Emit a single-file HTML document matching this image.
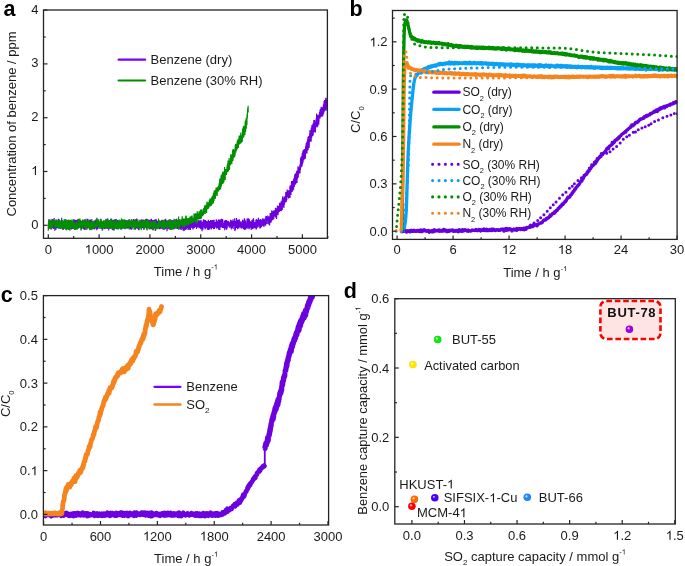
<!DOCTYPE html>
<html><head><meta charset="utf-8"><style>
html,body{margin:0;padding:0;background:#fff;}
body{width:685px;height:566px;overflow:hidden;}
svg{display:block;will-change:transform;}
</style></head><body>
<svg width="685" height="566" viewBox="0 0 685 566" font-family='"Liberation Sans", sans-serif'>
<clipPath id="ca"><rect x="43.5" y="10.0" width="283.9" height="228.3"/></clipPath>
<g clip-path="url(#ca)">
<polyline points="48.3,227.6 48.4,227.1 48.5,228.2 48.6,222.3 48.7,223.0 48.9,229.0 49.0,219.0 49.1,227.0 49.2,226.5 49.3,223.4 49.4,222.5 49.5,220.9 49.6,221.1 49.8,224.5 49.9,224.5 50.0,225.4 50.1,227.4 50.2,226.5 50.3,225.1 50.4,229.2 50.5,221.2 50.6,222.1 50.8,225.5 50.9,220.1 51.0,220.0 51.1,225.3 51.2,223.7 51.3,229.6 51.4,226.2 51.5,224.8 51.7,224.5 51.8,222.6 51.9,220.8 52.0,222.5 52.1,226.7 52.2,222.5 52.3,223.4 52.4,221.0 52.5,227.7 52.7,219.1 52.8,223.6 52.9,228.3 53.0,223.4 53.1,227.6 53.2,225.0 53.3,228.9 53.4,221.0 53.6,223.3 53.7,225.1 53.8,227.7 53.9,225.1 54.0,224.4 54.1,218.0 54.2,223.5 54.3,222.4 54.4,220.7 54.6,225.4 54.7,223.8 54.8,230.8 54.9,223.5 55.0,226.7 55.1,225.3 55.2,228.5 55.3,221.6 55.5,223.7 55.6,223.1 55.7,224.1 55.8,220.0 55.9,229.7 56.0,221.2 56.1,224.4 56.2,224.6 56.3,227.8 56.5,225.4 56.6,221.3 56.7,226.3 56.8,227.4 56.9,227.9 57.0,224.6 57.1,221.1 57.2,222.6 57.4,228.1 57.5,225.5 57.6,222.0 57.7,227.1 57.8,226.1 57.9,224.2 58.0,224.4 58.1,224.1 58.3,222.0 58.4,218.7 58.5,228.2 58.6,223.4 58.7,225.7 58.8,222.7 58.9,226.1 59.0,220.8 59.1,224.0 59.3,219.4 59.4,222.0 59.5,228.7 59.6,225.7 59.7,223.9 59.8,224.0 59.9,227.6 60.0,222.8 60.2,226.9 60.3,227.8 60.4,222.8 60.5,226.3 60.6,227.0 60.7,228.8 60.8,222.0 60.9,229.0 61.0,222.1 61.2,227.2 61.3,226.3 61.4,222.3 61.5,223.3 61.6,227.2 61.7,217.7 61.8,226.7 61.9,228.1 62.1,225.4 62.2,227.7 62.3,223.5 62.4,221.5 62.5,224.1 62.6,220.7 62.7,222.7 62.8,229.9 62.9,225.6 63.1,221.6 63.2,222.6 63.3,228.7 63.4,223.1 63.5,229.6 63.6,224.2 63.7,223.1 63.8,227.2 64.0,228.6 64.1,223.8 64.2,224.0 64.3,228.8 64.4,224.3 64.5,227.3 64.6,220.0 64.7,224.0 64.8,225.5 65.0,228.2 65.1,220.9 65.2,228.4 65.3,227.3 65.4,227.0 65.5,225.1 65.6,229.4 65.7,223.0 65.9,224.3 66.0,220.4 66.1,220.3 66.2,221.6 66.3,227.4 66.4,228.0 66.5,220.8 66.6,225.1 66.7,224.7 66.9,224.0 67.0,226.0 67.1,223.1 67.2,229.2 67.3,225.2 67.4,224.5 67.5,224.3 67.6,221.7 67.8,220.7 67.9,225.8 68.0,227.7 68.1,226.7 68.2,227.5 68.3,219.9 68.4,227.0 68.5,230.0 68.6,228.5 68.8,225.4 68.9,229.1 69.0,221.9 69.1,220.2 69.2,221.1 69.3,221.1 69.4,220.7 69.5,222.9 69.7,226.6 69.8,220.6 69.9,225.6 70.0,221.4 70.1,225.5 70.2,221.4 70.3,223.3 70.4,229.2 70.5,225.2 70.7,228.5 70.8,226.5 70.9,226.3 71.0,220.3 71.1,225.7 71.2,222.2 71.3,226.9 71.4,228.8 71.6,228.8 71.7,221.1 71.8,223.6 71.9,221.1 72.0,221.3 72.1,224.5 72.2,226.5 72.3,223.2 72.4,227.7 72.6,228.2 72.7,224.1 72.8,227.8 72.9,228.9 73.0,220.7 73.1,224.6 73.2,224.8 73.3,225.0 73.5,219.5 73.6,225.4 73.7,225.6 73.8,226.6 73.9,226.0 74.0,221.5 74.1,227.1 74.2,228.1 74.4,229.3 74.5,222.3 74.6,219.6 74.7,226.6 74.8,220.3 74.9,227.4 75.0,230.0 75.1,223.1 75.2,220.9 75.4,224.5 75.5,224.1 75.6,219.9 75.7,224.1 75.8,221.0 75.9,225.6 76.0,228.6 76.1,222.3 76.3,223.5 76.4,224.4 76.5,220.9 76.6,222.5 76.7,221.9 76.8,226.0 76.9,219.9 77.0,228.9 77.1,224.2 77.3,223.2 77.4,219.2 77.5,225.7 77.6,221.1 77.7,221.6 77.8,219.7 77.9,221.6 78.0,227.6 78.2,222.4 78.3,223.0 78.4,228.3 78.5,223.9 78.6,223.1 78.7,224.4 78.8,227.8 78.9,222.3 79.0,224.8 79.2,219.2 79.3,227.2 79.4,226.8 79.5,226.5 79.6,225.6 79.7,224.8 79.8,220.0 79.9,224.1 80.1,228.3 80.2,222.0 80.3,222.3 80.4,224.2 80.5,225.3 80.6,227.1 80.7,220.4 80.8,221.2 80.9,227.7 81.1,226.4 81.2,226.8 81.3,229.5 81.4,227.7 81.5,225.6 81.6,226.6 81.7,222.5 81.8,225.2 82.0,221.2 82.1,225.8 82.2,225.9 82.3,226.5 82.4,224.1 82.5,222.7 82.6,224.2 82.7,219.8 82.8,226.8 83.0,224.9 83.1,225.3 83.2,224.3 83.3,227.8 83.4,224.7 83.5,229.2 83.6,227.7 83.7,225.4 83.9,221.1 84.0,226.8 84.1,229.0 84.2,221.7 84.3,226.6 84.4,227.5 84.5,229.8 84.6,220.1 84.7,219.5 84.9,230.0 85.0,221.5 85.1,222.5 85.2,224.1 85.3,225.1 85.4,227.4 85.5,223.3 85.6,227.2 85.8,222.0 85.9,226.8 86.0,218.7 86.1,223.5 86.2,221.1 86.3,222.2 86.4,222.0 86.5,227.5 86.6,225.0 86.8,221.2 86.9,228.5 87.0,228.2 87.1,229.5 87.2,221.4 87.3,222.7 87.4,222.7 87.5,222.4 87.7,218.8 87.8,221.9 87.9,219.4 88.0,220.4 88.1,227.8 88.2,225.0 88.3,221.3 88.4,225.4 88.5,222.4 88.7,223.8 88.8,222.4 88.9,224.0 89.0,228.4 89.1,225.7 89.2,222.7 89.3,226.3 89.4,227.7 89.6,219.8 89.7,220.3 89.8,220.0 89.9,230.0 90.0,228.3 90.1,221.1 90.2,227.7 90.3,220.5 90.5,224.5 90.6,224.3 90.7,229.6 90.8,219.4 90.9,223.8 91.0,225.7 91.1,220.3 91.2,219.9 91.3,222.9 91.5,228.9 91.6,228.4 91.7,227.9 91.8,227.8 91.9,226.1 92.0,227.5 92.1,225.6 92.2,227.7 92.4,222.9 92.5,221.1 92.6,226.6 92.7,221.8 92.8,228.9 92.9,224.6 93.0,224.6 93.1,229.0 93.2,221.2 93.4,226.1 93.5,221.6 93.6,228.9 93.7,225.8 93.8,226.4 93.9,221.7 94.0,225.1 94.1,227.7 94.3,224.0 94.4,229.5 94.5,223.0 94.6,222.7 94.7,226.2 94.8,228.0 94.9,223.5 95.0,227.9 95.1,222.0 95.3,225.9 95.4,226.5 95.5,221.0 95.6,226.8 95.7,219.4 95.8,228.8 95.9,224.1 96.0,223.8 96.2,227.0 96.3,224.2 96.4,226.0 96.5,221.2 96.6,223.4 96.7,224.4 96.8,230.2 96.9,217.7 97.0,223.3 97.2,226.4 97.3,223.3 97.4,223.0 97.5,222.8 97.6,223.2 97.7,223.1 97.8,229.1 97.9,221.4 98.1,224.4 98.2,226.0 98.3,227.3 98.4,223.9 98.5,227.2 98.6,225.2 98.7,224.5 98.8,227.2 98.9,226.4 99.1,224.5 99.2,224.8 99.3,225.4 99.4,222.0 99.5,226.8 99.6,222.6 99.7,223.5 99.8,227.0 100.0,223.8 100.1,223.9 100.2,226.9 100.3,224.3 100.4,227.8 100.5,228.1 100.6,223.4 100.7,226.0 100.8,218.8 101.0,224.0 101.1,228.9 101.2,227.4 101.3,226.3 101.4,226.3 101.5,226.0 101.6,225.7 101.7,223.7 101.9,222.9 102.0,223.4 102.1,221.7 102.2,223.1 102.3,230.7 102.4,223.4 102.5,223.8 102.6,224.4 102.7,224.9 102.9,228.5 103.0,227.8 103.1,221.3 103.2,223.1 103.3,227.0 103.4,223.9 103.5,225.5 103.6,221.1 103.8,228.0 103.9,222.7 104.0,222.8 104.1,221.5 104.2,222.2 104.3,228.0 104.4,228.0 104.5,224.2 104.6,229.1 104.8,224.6 104.9,223.9 105.0,225.1 105.1,221.4 105.2,223.7 105.3,227.6 105.4,225.8 105.5,221.3 105.7,227.3 105.8,228.5 105.9,224.4 106.0,219.0 106.1,225.1 106.2,223.9 106.3,226.1 106.4,221.9 106.5,226.2 106.7,221.8 106.8,222.4 106.9,222.4 107.0,224.2 107.1,221.9 107.2,228.9 107.3,222.2 107.4,222.9 107.6,222.7 107.7,218.2 107.8,223.4 107.9,226.3 108.0,225.3 108.1,221.0 108.2,220.9 108.3,222.5 108.5,225.6 108.6,223.9 108.7,230.6 108.8,224.9 108.9,224.0 109.0,227.4 109.1,227.5 109.2,223.5 109.3,221.0 109.5,224.9 109.6,223.6 109.7,219.9 109.8,223.3 109.9,225.7 110.0,221.7 110.1,221.6 110.2,221.3 110.4,223.3 110.5,229.0 110.6,220.8 110.7,220.0 110.8,219.7 110.9,225.0 111.0,218.4 111.1,223.8 111.2,221.1 111.4,221.8 111.5,226.9 111.6,222.8 111.7,223.1 111.8,224.5 111.9,226.0 112.0,227.6 112.1,221.2 112.3,229.3 112.4,230.1 112.5,224.9 112.6,220.2 112.7,225.9 112.8,226.0 112.9,227.3 113.0,222.4 113.1,228.4 113.3,228.3 113.4,220.1 113.5,222.0 113.6,219.8 113.7,227.5 113.8,227.3 113.9,230.8 114.0,225.4 114.2,224.7 114.3,227.3 114.4,224.4 114.5,229.4 114.6,225.5 114.7,223.2 114.8,224.8 114.9,219.3 115.0,226.7 115.2,228.4 115.3,221.5 115.4,228.0 115.5,227.4 115.6,221.9 115.7,219.0 115.8,223.1 115.9,221.1 116.1,224.7 116.2,224.5 116.3,228.7 116.4,222.8 116.5,229.0 116.6,227.4 116.7,228.3 116.8,223.7 116.9,219.9 117.1,228.6 117.2,222.9 117.3,220.0 117.4,226.7 117.5,226.6 117.6,221.1 117.7,221.9 117.8,227.8 118.0,222.0 118.1,226.9 118.2,221.9 118.3,227.5 118.4,222.9 118.5,224.6 118.6,223.2 118.7,226.0 118.8,228.3 119.0,220.0 119.1,219.5 119.2,226.9 119.3,225.7 119.4,224.6 119.5,224.4 119.6,226.0 119.7,227.7 119.9,223.2 120.0,224.4 120.1,225.9 120.2,226.5 120.3,224.0 120.4,226.8 120.5,225.3 120.6,224.4 120.7,220.6 120.9,229.6 121.0,227.6 121.1,222.7 121.2,226.7 121.3,221.0 121.4,222.8 121.5,229.3 121.6,224.7 121.8,222.5 121.9,222.2 122.0,220.4 122.1,221.8 122.2,221.9 122.3,220.6 122.4,222.4 122.5,224.4 122.6,221.1 122.8,225.5 122.9,227.8 123.0,223.0 123.1,225.9 123.2,224.3 123.3,220.4 123.4,220.6 123.5,227.1 123.7,225.5 123.8,227.8 123.9,222.8 124.0,224.7 124.1,227.9 124.2,228.9 124.3,219.5 124.4,223.3 124.6,222.3 124.7,227.1 124.8,220.7 124.9,222.1 125.0,228.5 125.1,225.2 125.2,224.4 125.3,229.0 125.4,222.5 125.6,220.6 125.7,224.4 125.8,221.2 125.9,220.9 126.0,224.8 126.1,227.5 126.2,224.3 126.3,226.7 126.5,223.2 126.6,226.8 126.7,227.0 126.8,226.2 126.9,228.7 127.0,226.0 127.1,221.0 127.2,225.1 127.3,224.5 127.5,220.3 127.6,226.1 127.7,228.6 127.8,220.5 127.9,226.9 128.0,226.5 128.1,223.4 128.2,222.0 128.4,222.6 128.5,225.3 128.6,226.3 128.7,226.7 128.8,221.3 128.9,228.1 129.0,228.4 129.1,219.2 129.2,222.0 129.4,220.5 129.5,228.8 129.6,228.4 129.7,221.8 129.8,223.6 129.9,222.4 130.0,224.4 130.1,228.8 130.3,221.0 130.4,222.2 130.5,223.7 130.6,225.2 130.7,229.5 130.8,223.8 130.9,220.8 131.0,222.4 131.1,227.7 131.3,228.1 131.4,220.9 131.5,227.8 131.6,224.5 131.7,229.7 131.8,218.9 131.9,229.1 132.0,221.9 132.2,224.5 132.3,226.5 132.4,224.5 132.5,222.9 132.6,221.6 132.7,222.8 132.8,221.4 132.9,222.7 133.0,221.4 133.2,224.5 133.3,224.9 133.4,225.8 133.5,222.3 133.6,219.1 133.7,222.5 133.8,225.9 133.9,222.2 134.1,223.8 134.2,224.9 134.3,223.6 134.4,228.9 134.5,228.7 134.6,221.7 134.7,228.0 134.8,221.4 134.9,219.8 135.1,222.8 135.2,225.5 135.3,229.7 135.4,222.2 135.5,226.8 135.6,223.1 135.7,220.3 135.8,228.2 136.0,226.2 136.1,219.1 136.2,228.5 136.3,221.3 136.4,220.4 136.5,223.3 136.6,227.8 136.7,218.5 136.8,227.9 137.0,226.7 137.1,221.3 137.2,224.7 137.3,225.3 137.4,224.8 137.5,228.3 137.6,226.7 137.7,228.8 137.9,222.0 138.0,226.7 138.1,222.7 138.2,225.8 138.3,228.5 138.4,229.2 138.5,222.2 138.6,223.6 138.7,230.2 138.9,228.4 139.0,222.5 139.1,230.0 139.2,225.0 139.3,223.6 139.4,225.2 139.5,223.6 139.6,224.6 139.8,223.4 139.9,225.4 140.0,219.7 140.1,220.9 140.2,226.3 140.3,226.4 140.4,226.1 140.5,228.4 140.7,221.2 140.8,220.5 140.9,221.2 141.0,222.0 141.1,226.0 141.2,224.5 141.3,224.1 141.4,226.1 141.5,220.4 141.7,220.6 141.8,225.7 141.9,228.4 142.0,222.8 142.1,226.3 142.2,219.6 142.3,221.6 142.4,224.5 142.6,221.0 142.7,223.4 142.8,225.6 142.9,224.6 143.0,220.8 143.1,228.1 143.2,219.5 143.3,228.1 143.4,221.4 143.6,221.4 143.7,221.2 143.8,229.8 143.9,224.2 144.0,223.7 144.1,229.2 144.2,228.9 144.3,220.0 144.5,224.5 144.6,225.1 144.7,227.4 144.8,222.4 144.9,222.7 145.0,219.7 145.1,220.1 145.2,224.8 145.3,221.4 145.5,221.6 145.6,223.1 145.7,220.3 145.8,219.0 145.9,227.8 146.0,222.8 146.1,221.8 146.2,225.8 146.4,218.7 146.5,222.3 146.6,229.5 146.7,226.6 146.8,227.5 146.9,220.6 147.0,222.6 147.1,221.0 147.2,221.9 147.4,219.3 147.5,223.1 147.6,224.7 147.7,220.5 147.8,222.0 147.9,227.3 148.0,222.8 148.1,223.3 148.3,222.9 148.4,226.5 148.5,226.1 148.6,225.6 148.7,225.7 148.8,219.4 148.9,222.6 149.0,225.4 149.1,229.3 149.3,228.7 149.4,226.9 149.5,225.1 149.6,220.1 149.7,227.2 149.8,220.2 149.9,221.1 150.0,226.0 150.2,227.6 150.3,226.4 150.4,225.6 150.5,223.5 150.6,219.6 150.7,228.3 150.8,228.9 150.9,223.3 151.0,228.5 151.2,223.6 151.3,222.4 151.4,224.7 151.5,218.7 151.6,224.6 151.7,220.9 151.8,227.1 151.9,224.6 152.1,229.1 152.2,228.3 152.3,223.7 152.4,221.5 152.5,229.3 152.6,224.3 152.7,220.8 152.8,220.2 152.9,230.2 153.1,223.2 153.2,220.5 153.3,223.1 153.4,225.7 153.5,221.9 153.6,227.8 153.7,227.1 153.8,222.5 154.0,219.8 154.1,223.7 154.2,227.2 154.3,223.9 154.4,226.4 154.5,225.9 154.6,221.5 154.7,228.5 154.8,219.4 155.0,226.4 155.1,221.2 155.2,224.6 155.3,231.0 155.4,225.2 155.5,220.4 155.6,223.2 155.7,225.3 155.9,221.7 156.0,221.0 156.1,218.9 156.2,224.8 156.3,222.9 156.4,226.5 156.5,220.2 156.6,226.4 156.7,222.1 156.9,227.3 157.0,228.3 157.1,224.9 157.2,225.8 157.3,227.0 157.4,220.9 157.5,228.4 157.6,224.0 157.8,226.3 157.9,220.7 158.0,226.9 158.1,228.4 158.2,221.3 158.3,227.4 158.4,224.5 158.5,222.9 158.7,224.5 158.8,221.8 158.9,220.0 159.0,224.7 159.1,222.4 159.2,225.8 159.3,227.6 159.4,229.1 159.5,228.1 159.7,227.4 159.8,220.9 159.9,228.7 160.0,221.2 160.1,228.4 160.2,227.3 160.3,225.4 160.4,224.6 160.6,222.9 160.7,225.1 160.8,222.4 160.9,221.4 161.0,221.3 161.1,228.5 161.2,229.1 161.3,222.8 161.4,221.1 161.6,222.2 161.7,220.6 161.8,222.4 161.9,225.8 162.0,223.6 162.1,222.3 162.2,219.8 162.3,226.4 162.5,223.2 162.6,224.3 162.7,222.9 162.8,229.4 162.9,221.5 163.0,227.0 163.1,223.1 163.2,227.5 163.3,222.9 163.5,222.5 163.6,227.2 163.7,224.4 163.8,221.0 163.9,221.1 164.0,230.1 164.1,220.3 164.2,221.9 164.4,229.3 164.5,219.4 164.6,221.8 164.7,222.0 164.8,219.5 164.9,224.2 165.0,225.4 165.1,222.4 165.2,221.6 165.4,229.2 165.5,227.1 165.6,224.7 165.7,218.7 165.8,224.8 165.9,225.3 166.0,221.6 166.1,228.3 166.3,224.0 166.4,223.9 166.5,220.4 166.6,224.1 166.7,227.8 166.8,225.2 166.9,221.8 167.0,231.2 167.1,226.7 167.3,224.2 167.4,223.5 167.5,226.0 167.6,221.3 167.7,226.2 167.8,225.6 167.9,225.0 168.0,229.3 168.2,225.3 168.3,222.6 168.4,221.4 168.5,226.9 168.6,223.8 168.7,227.0 168.8,224.3 168.9,227.8 169.0,227.6 169.2,220.0 169.3,229.4 169.4,224.7 169.5,220.5 169.6,225.1 169.7,220.4 169.8,223.9 169.9,219.3 170.1,223.0 170.2,222.8 170.3,225.2 170.4,227.2 170.5,228.0 170.6,223.6 170.7,225.1 170.8,219.8 170.9,222.3 171.1,228.3 171.2,221.0 171.3,227.1 171.4,224.7 171.5,222.2 171.6,228.4 171.7,222.7 171.8,229.8 172.0,220.3 172.1,220.5 172.2,225.5 172.3,223.4 172.4,222.5 172.5,225.0 172.6,223.3 172.7,225.7 172.8,226.8 173.0,227.7 173.1,220.4 173.2,226.1 173.3,229.6 173.4,224.6 173.5,227.2 173.6,219.8 173.7,227.8 173.9,224.3 174.0,229.2 174.1,225.2 174.2,227.8 174.3,222.6 174.4,226.2 174.5,220.4 174.6,222.2 174.8,224.1 174.9,225.2 175.0,226.3 175.1,228.8 175.2,219.4 175.3,224.7 175.4,223.2 175.5,227.0 175.6,224.5 175.8,225.0 175.9,227.4 176.0,226.8 176.1,222.6 176.2,219.1 176.3,224.7 176.4,227.9 176.5,225.2 176.7,218.7 176.8,223.3 176.9,222.7 177.0,225.3 177.1,223.9 177.2,228.9 177.3,223.1 177.4,222.5 177.5,225.0 177.7,227.4 177.8,227.4 177.9,221.7 178.0,227.2 178.1,222.7 178.2,228.5 178.3,223.2 178.4,220.3 178.6,227.8 178.7,221.7 178.8,229.8 178.9,226.5 179.0,225.7 179.1,219.2 179.2,226.2 179.3,221.4 179.4,228.8 179.6,227.9 179.7,222.9 179.8,219.6 179.9,229.0 180.0,224.3 180.1,221.4 180.2,223.8 180.3,222.6 180.5,222.9 180.6,226.8 180.7,229.6 180.8,228.3 180.9,221.7 181.0,224.9 181.1,221.7 181.2,230.1 181.3,220.2 181.5,224.7 181.6,228.2 181.7,222.1 181.8,221.7 181.9,225.7 182.0,224.2 182.1,228.0 182.2,219.6 182.4,223.1 182.5,219.6 182.6,228.6 182.7,222.5 182.8,227.5 182.9,229.3 183.0,230.4 183.1,220.7 183.2,221.2 183.4,223.1 183.5,230.4 183.6,226.7 183.7,218.7 183.8,226.9 183.9,229.4 184.0,231.1 184.1,228.3 184.3,228.7 184.4,227.6 184.5,222.6 184.6,220.3 184.7,225.9 184.8,220.7 184.9,220.8 185.0,229.5 185.1,225.0 185.3,227.3 185.4,229.6 185.5,221.9 185.6,229.9 185.7,227.2 185.8,222.6 185.9,221.0 186.0,222.3 186.2,229.1 186.3,220.3 186.4,219.7 186.5,229.2 186.6,225.9 186.7,226.5 186.8,225.9 186.9,219.4 187.0,220.7 187.2,225.4 187.3,219.3 187.4,223.4 187.5,227.9 187.6,225.1 187.7,226.7 187.8,220.4 187.9,222.8 188.1,230.1 188.2,221.5 188.3,225.6 188.4,219.2 188.5,228.0 188.6,222.0 188.7,225.2 188.8,226.3 188.9,228.9 189.1,229.0 189.2,227.0 189.3,224.0 189.4,220.4 189.5,226.4 189.6,228.0 189.7,220.8 189.8,226.1 190.0,221.9 190.1,222.7 190.2,225.8 190.3,224.6 190.4,230.1 190.5,224.7 190.6,223.0 190.7,227.7 190.9,223.4 191.0,223.7 191.1,222.7 191.2,222.1 191.3,222.7 191.4,222.4 191.5,220.0 191.6,224.5 191.7,221.7 191.9,226.7 192.0,227.9 192.1,222.3 192.2,227.9 192.3,226.8 192.4,223.9 192.5,226.0 192.6,222.0 192.8,224.2 192.9,229.5 193.0,220.5 193.1,229.4 193.2,227.2 193.3,227.0 193.4,224.7 193.5,225.3 193.6,223.0 193.8,225.6 193.9,222.5 194.0,224.8 194.1,224.9 194.2,223.3 194.3,221.3 194.4,228.1 194.5,226.3 194.7,225.7 194.8,222.2 194.9,225.6 195.0,219.4 195.1,226.5 195.2,225.5 195.3,226.0 195.4,223.5 195.5,223.1 195.7,226.9 195.8,221.4 195.9,226.2 196.0,223.1 196.1,221.5 196.2,224.6 196.3,225.4 196.4,227.9 196.6,228.9 196.7,219.8 196.8,226.5 196.9,221.4 197.0,227.0 197.1,222.8 197.2,221.1 197.3,225.0 197.4,224.1 197.6,226.7 197.7,226.2 197.8,227.4 197.9,224.4 198.0,225.6 198.1,222.8 198.2,224.2 198.3,225.8 198.5,225.5 198.6,221.2 198.7,224.2 198.8,219.7 198.9,224.9 199.0,220.5 199.1,226.1 199.2,228.3 199.3,223.7 199.5,221.2 199.6,224.1 199.7,222.0 199.8,227.7 199.9,220.4 200.0,224.9 200.1,225.4 200.2,220.5 200.4,220.9 200.5,222.5 200.6,227.1 200.7,229.1 200.8,221.9 200.9,226.5 201.0,219.8 201.1,225.5 201.2,224.7 201.4,223.5 201.5,226.9 201.6,227.1 201.7,221.5 201.8,222.0 201.9,227.4 202.0,231.3 202.1,225.8 202.3,229.0 202.4,228.7 202.5,226.9 202.6,224.2 202.7,221.8 202.8,224.4 202.9,227.8 203.0,229.8 203.1,223.3 203.3,223.5 203.4,219.3 203.5,226.2 203.6,224.6 203.7,226.6 203.8,222.9 203.9,225.0 204.0,224.4 204.2,223.1 204.3,219.8 204.4,222.2 204.5,228.0 204.6,221.3 204.7,220.8 204.8,225.3 204.9,223.2 205.0,226.9 205.2,228.9 205.3,229.2 205.4,227.8 205.5,226.4 205.6,220.0 205.7,226.8 205.8,226.6 205.9,227.5 206.1,226.0 206.2,227.5 206.3,223.5 206.4,227.6 206.5,225.4 206.6,224.2 206.7,222.4 206.8,220.9 206.9,224.7 207.1,222.9 207.2,223.2 207.3,229.5 207.4,226.0 207.5,225.3 207.6,229.7 207.7,223.6 207.8,224.6 208.0,221.8 208.1,223.0 208.2,228.3 208.3,219.8 208.4,226.8 208.5,229.9 208.6,223.4 208.7,229.0 208.9,222.9 209.0,222.8 209.1,225.4 209.2,222.2 209.3,222.9 209.4,221.0 209.5,229.6 209.6,221.9 209.7,224.4 209.9,228.5 210.0,221.2 210.1,227.8 210.2,227.4 210.3,224.6 210.4,224.8 210.5,221.3 210.6,221.3 210.8,220.0 210.9,222.5 211.0,224.9 211.1,227.6 211.2,223.0 211.3,229.6 211.4,225.5 211.5,220.6 211.6,225.9 211.8,220.4 211.9,220.9 212.0,228.1 212.1,224.4 212.2,222.8 212.3,220.2 212.4,225.7 212.5,223.3 212.7,220.0 212.8,227.7 212.9,220.7 213.0,228.1 213.1,223.1 213.2,224.0 213.3,222.3 213.4,228.3 213.5,229.3 213.7,227.6 213.8,219.7 213.9,225.5 214.0,219.8 214.1,220.7 214.2,223.8 214.3,221.7 214.4,228.9 214.6,227.5 214.7,227.1 214.8,226.4 214.9,223.7 215.0,223.6 215.1,224.3 215.2,222.2 215.3,224.1 215.4,227.2 215.6,221.9 215.7,223.1 215.8,224.0 215.9,223.7 216.0,226.6 216.1,227.4 216.2,219.8 216.3,219.4 216.5,221.5 216.6,223.3 216.7,225.9 216.8,228.8 216.9,226.5 217.0,221.2 217.1,222.5 217.2,227.3 217.3,228.0 217.5,227.0 217.6,224.1 217.7,223.0 217.8,224.4 217.9,227.2 218.0,223.5 218.1,220.8 218.2,220.6 218.4,221.4 218.5,228.2 218.6,226.3 218.7,229.7 218.8,219.5 218.9,222.9 219.0,229.7 219.1,224.8 219.2,219.8 219.4,224.6 219.5,225.7 219.6,225.5 219.7,222.7 219.8,222.0 219.9,230.0 220.0,225.6 220.1,226.6 220.3,225.9 220.4,219.4 220.5,222.1 220.6,219.6 220.7,221.7 220.8,222.4 220.9,224.7 221.0,221.8 221.1,224.4 221.3,227.1 221.4,218.8 221.5,220.5 221.6,226.0 221.7,224.8 221.8,224.2 221.9,222.0 222.0,225.4 222.2,221.5 222.3,228.0 222.4,226.2 222.5,222.8 222.6,219.1 222.7,227.8 222.8,222.5 222.9,226.2 223.0,226.3 223.2,225.8 223.3,227.7 223.4,224.9 223.5,228.2 223.6,225.0 223.7,223.5 223.8,224.8 223.9,222.9 224.1,226.0 224.2,226.7 224.3,220.6 224.4,221.5 224.5,223.6 224.6,224.1 224.7,228.7 224.8,229.4 225.0,229.2 225.1,227.0 225.2,226.5 225.3,221.7 225.4,222.2 225.5,220.2 225.6,228.1 225.7,222.1 225.8,220.0 226.0,225.0 226.1,222.0 226.2,226.4 226.3,220.0 226.4,220.7 226.5,228.4 226.6,229.7 226.7,226.7 226.9,225.7 227.0,222.4 227.1,228.2 227.2,228.0 227.3,224.5 227.4,220.8 227.5,221.9 227.6,224.2 227.7,223.2 227.9,220.9 228.0,221.6 228.1,225.2 228.2,224.8 228.3,224.7 228.4,222.6 228.5,222.5 228.6,225.9 228.8,223.5 228.9,222.3 229.0,226.8 229.1,225.6 229.2,225.5 229.3,224.5 229.4,227.2 229.5,227.2 229.6,226.1 229.8,225.5 229.9,226.4 230.0,222.2 230.1,224.9 230.2,223.2 230.3,224.2 230.4,221.4 230.5,224.0 230.7,219.8 230.8,224.8 230.9,227.4 231.0,227.5 231.1,221.6 231.2,228.4 231.3,228.5 231.4,220.4 231.5,223.1 231.7,220.9 231.8,223.0 231.9,221.0 232.0,224.2 232.1,223.7 232.2,225.7 232.3,226.5 232.4,227.8 232.6,222.8 232.7,226.1 232.8,227.4 232.9,227.4 233.0,219.3 233.1,229.1 233.2,225.9 233.3,222.5 233.4,225.4 233.6,225.9 233.7,223.8 233.8,222.2 233.9,221.4 234.0,223.8 234.1,226.3 234.2,224.8 234.3,220.4 234.5,225.0 234.6,221.5 234.7,218.3 234.8,230.9 234.9,222.3 235.0,226.2 235.1,223.6 235.2,220.9 235.3,230.2 235.5,229.0 235.6,222.9 235.7,222.2 235.8,224.1 235.9,221.0 236.0,225.9 236.1,227.2 236.2,227.3 236.4,227.8 236.5,218.0 236.6,221.9 236.7,223.9 236.8,227.6 236.9,223.0 237.0,224.5 237.1,227.4 237.2,220.6 237.4,223.3 237.5,222.1 237.6,229.3 237.7,220.4 237.8,220.4 237.9,224.5 238.0,225.4 238.1,222.3 238.3,225.7 238.4,219.7 238.5,225.1 238.6,220.7 238.7,228.2 238.8,221.5 238.9,226.7 239.0,228.5 239.1,221.7 239.3,219.3 239.4,224.1 239.5,226.6 239.6,221.9 239.7,227.0 239.8,225.6 239.9,224.9 240.0,223.5 240.2,224.1 240.3,224.4 240.4,222.4 240.5,221.6 240.6,223.0 240.7,222.3 240.8,228.3 240.9,222.2 241.1,221.3 241.2,223.3 241.3,223.1 241.4,223.8 241.5,224.0 241.6,224.7 241.7,228.6 241.8,228.0 241.9,228.8 242.1,223.2 242.2,224.1 242.3,223.8 242.4,223.5 242.5,227.9 242.6,219.8 242.7,220.0 242.8,226.5 243.0,224.9 243.1,222.8 243.2,227.6 243.3,223.2 243.4,226.4 243.5,220.4 243.6,228.9 243.7,221.2 243.8,223.1 244.0,226.6 244.1,229.7 244.2,228.5 244.3,228.6 244.4,219.9 244.5,218.3 244.6,221.8 244.7,219.3 244.9,229.9 245.0,220.3 245.1,222.7 245.2,221.7 245.3,220.5 245.4,224.1 245.5,220.7 245.6,228.4 245.7,224.0 245.9,222.8 246.0,229.1 246.1,226.9 246.2,222.6 246.3,227.1 246.4,228.0 246.5,226.7 246.6,222.7 246.8,227.2 246.9,225.5 247.0,222.3 247.1,218.4 247.2,226.1 247.3,226.7 247.4,222.5 247.5,223.1 247.6,223.3 247.8,228.8 247.9,222.0 248.0,222.1 248.1,218.3 248.2,221.6 248.3,227.6 248.4,220.5 248.5,224.8 248.7,227.5 248.8,218.4 248.9,221.3 249.0,227.6 249.1,220.0 249.2,229.3 249.3,226.8 249.4,219.5 249.5,224.6 249.7,224.8 249.8,225.2 249.9,222.6 250.0,224.9 250.1,221.1 250.2,222.2 250.3,222.4 250.4,227.5 250.6,227.1 250.7,221.7 250.8,226.4 250.9,224.6 251.0,221.9 251.1,222.7 251.2,229.9 251.3,223.5 251.4,223.5 251.6,228.4 251.7,222.3 251.8,227.8 251.9,220.1 252.0,225.7 252.1,226.6 252.2,225.6 252.3,228.6 252.5,225.5 252.6,229.1 252.7,220.9 252.8,223.8 252.9,220.3 253.0,218.9 253.1,224.1 253.2,225.7 253.3,227.1 253.5,218.2 253.6,228.4 253.7,219.8 253.8,221.5 253.9,226.7 254.0,228.3 254.1,226.4 254.2,222.1 254.4,224.4 254.5,227.3 254.6,223.1 254.7,227.6 254.8,226.5 254.9,223.3 255.0,228.0 255.1,222.3 255.2,226.6 255.4,226.3 255.5,223.0 255.6,223.7 255.7,223.5 255.8,224.1 255.9,219.9 256.0,229.6 256.1,227.9 256.3,219.0 256.4,228.8 256.5,223.5 256.6,219.9 256.7,228.5 256.8,224.5 256.9,226.4 257.0,227.1 257.1,223.0 257.3,219.8 257.4,226.8 257.5,225.7 257.6,227.0 257.7,221.3 257.8,226.1 257.9,227.5 258.0,223.5 258.2,223.0 258.3,220.2 258.4,217.7 258.5,219.3 258.6,221.0 258.7,220.2 258.8,226.4 258.9,222.1 259.1,224.3 259.2,220.5 259.3,220.6 259.4,224.4 259.5,222.2 259.6,225.7 259.7,221.2 259.8,225.1 259.9,228.4 260.1,220.8 260.2,223.4 260.3,224.4 260.4,219.1 260.5,228.3 260.6,223.2 260.7,221.7 260.8,226.8 261.0,226.5 261.1,224.7 261.2,227.0 261.3,219.4 261.4,222.1 261.5,225.7 261.6,227.2 261.7,223.4 261.8,226.0 262.0,220.8 262.1,222.6 262.2,223.6 262.3,224.7 262.4,225.1 262.5,223.4 262.6,225.8 262.7,218.2 262.9,225.4 263.0,223.2 263.1,225.7 263.2,221.5 263.3,222.6 263.4,225.0 263.5,218.8 263.6,219.6 263.7,221.4 263.9,227.0 264.0,220.5 264.1,225.3 264.2,220.2 264.3,220.8 264.4,221.0 264.5,223.2 264.6,224.2 264.8,225.5 264.9,218.5 265.0,225.3 265.1,223.3 265.2,219.5 265.3,224.0 265.4,224.0 265.5,221.1 265.6,225.8 265.8,217.7 265.9,215.9 266.0,223.3 266.1,219.5 266.2,222.0 266.3,222.0 266.4,216.0 266.5,223.7 266.7,222.4 266.8,217.3 266.9,218.5 267.0,224.1 267.1,223.9 267.2,224.1 267.3,219.1 267.4,217.4 267.5,220.1 267.7,216.7 267.8,218.3 267.9,216.3 268.0,216.4 268.1,220.1 268.2,216.3 268.3,220.0 268.4,219.6 268.6,220.8 268.7,224.5 268.8,223.4 268.9,220.9 269.0,222.8 269.1,220.2 269.2,223.3 269.3,216.5 269.4,218.0 269.6,225.5 269.7,219.0 269.8,219.7 269.9,223.1 270.0,215.4 270.1,221.8 270.2,212.9 270.3,215.9 270.5,215.0 270.6,217.3 270.7,222.8 270.8,212.9 270.9,216.7 271.0,218.0 271.1,219.1 271.2,222.3 271.3,215.2 271.5,213.8 271.6,220.6 271.7,212.1 271.8,210.4 271.9,215.1 272.0,215.8 272.1,220.5 272.2,218.4 272.4,216.1 272.5,215.5 272.6,218.3 272.7,219.8 272.8,215.1 272.9,212.6 273.0,211.3 273.1,218.6 273.2,215.9 273.4,219.4 273.5,210.6 273.6,219.5 273.7,214.0 273.8,218.9 273.9,214.5 274.0,216.0 274.1,216.8 274.3,214.9 274.4,216.2 274.5,210.4 274.6,215.8 274.7,213.9 274.8,210.2 274.9,210.6 275.0,213.9 275.2,212.4 275.3,214.7 275.4,210.2 275.5,207.7 275.6,217.4 275.7,211.5 275.8,213.0 275.9,210.7 276.0,211.1 276.2,209.6 276.3,215.7 276.4,209.8 276.5,216.9 276.6,218.9 276.7,213.0 276.8,209.3 276.9,208.1 277.1,209.3 277.2,210.8 277.3,214.5 277.4,206.0 277.5,214.5 277.6,211.1 277.7,205.6 277.8,207.9 277.9,215.3 278.1,212.2 278.2,210.2 278.3,213.5 278.4,206.2 278.5,206.8 278.6,206.6 278.7,210.7 278.8,207.3 279.0,206.1 279.1,212.0 279.2,207.0 279.3,211.9 279.4,210.6 279.5,209.3 279.6,202.7 279.7,211.0 279.8,204.7 280.0,204.5 280.1,207.0 280.2,203.5 280.3,203.8 280.4,208.6 280.5,211.0 280.6,204.9 280.7,204.6 280.9,202.6 281.0,203.7 281.1,205.9 281.2,211.3 281.3,200.8 281.4,208.9 281.5,210.7 281.6,201.2 281.7,206.9 281.9,208.6 282.0,206.7 282.1,201.2 282.2,206.3 282.3,209.9 282.4,199.0 282.5,204.1 282.6,196.6 282.8,205.0 282.9,206.7 283.0,197.9 283.1,205.6 283.2,204.0 283.3,198.0 283.4,203.3 283.5,205.8 283.6,199.8 283.8,200.0 283.9,208.0 284.0,203.4 284.1,201.8 284.2,196.3 284.3,198.9 284.4,204.6 284.5,203.6 284.7,202.1 284.8,200.4 284.9,200.1 285.0,200.0 285.1,202.5 285.2,196.7 285.3,200.9 285.4,197.6 285.5,200.2 285.7,195.7 285.8,191.9 285.9,194.2 286.0,195.1 286.1,201.6 286.2,202.0 286.3,200.4 286.4,197.0 286.6,191.7 286.7,194.8 286.8,200.2 286.9,196.3 287.0,197.4 287.1,195.5 287.2,189.6 287.3,196.0 287.4,193.5 287.6,194.9 287.7,191.8 287.8,196.6 287.9,191.5 288.0,196.2 288.1,191.1 288.2,197.1 288.3,190.3 288.5,194.5 288.6,198.6 288.7,196.2 288.8,196.8 288.9,190.6 289.0,196.2 289.1,191.6 289.2,198.0 289.3,196.1 289.5,193.4 289.6,194.6 289.7,192.2 289.8,194.4 289.9,186.2 290.0,197.9 290.1,192.1 290.2,185.4 290.4,188.3 290.5,189.8 290.6,190.6 290.7,186.2 290.8,194.7 290.9,185.5 291.0,194.9 291.1,190.0 291.3,186.3 291.4,185.8 291.5,182.1 291.6,181.1 291.7,188.1 291.8,188.9 291.9,191.4 292.0,184.6 292.1,192.0 292.3,182.9 292.4,189.5 292.5,189.1 292.6,180.8 292.7,190.9 292.8,188.1 292.9,186.4 293.0,189.4 293.2,183.4 293.3,185.0 293.4,181.7 293.5,188.7 293.6,188.8 293.7,178.7 293.8,186.5 293.9,178.8 294.0,178.5 294.2,179.6 294.3,187.0 294.4,179.8 294.5,178.5 294.6,175.4 294.7,180.0 294.8,182.5 294.9,173.9 295.1,180.5 295.2,180.2 295.3,175.9 295.4,178.2 295.5,183.8 295.6,184.6 295.7,181.8 295.8,173.1 295.9,182.0 296.1,178.0 296.2,174.0 296.3,177.5 296.4,181.9 296.5,181.9 296.6,173.7 296.7,170.8 296.8,182.5 297.0,183.1 297.1,175.0 297.2,171.3 297.3,176.7 297.4,178.7 297.5,172.4 297.6,171.5 297.7,170.5 297.8,171.8 298.0,166.3 298.1,170.0 298.2,177.7 298.3,167.9 298.4,174.9 298.5,174.8 298.6,169.3 298.7,172.8 298.9,167.3 299.0,171.0 299.1,172.5 299.2,170.9 299.3,168.0 299.4,173.4 299.5,171.7 299.6,168.2 299.7,169.0 299.9,164.9 300.0,173.6 300.1,168.3 300.2,170.4 300.3,164.0 300.4,170.0 300.5,158.3 300.6,166.2 300.8,160.3 300.9,161.3 301.0,167.4 301.1,156.8 301.2,161.4 301.3,159.7 301.4,166.8 301.5,156.3 301.6,158.7 301.8,165.5 301.9,165.0 302.0,164.5 302.1,166.4 302.2,153.2 302.3,162.0 302.4,163.9 302.5,161.9 302.7,162.1 302.8,151.2 302.9,151.9 303.0,162.5 303.1,160.5 303.2,153.5 303.3,150.1 303.4,158.4 303.5,151.0 303.7,159.3 303.8,154.6 303.9,160.2 304.0,151.3 304.1,156.0 304.2,149.0 304.3,158.3 304.4,155.0 304.6,149.1 304.7,158.9 304.8,156.8 304.9,149.2 305.0,158.5 305.1,151.0 305.2,157.8 305.3,149.5 305.4,158.4 305.6,146.4 305.7,153.5 305.8,147.4 305.9,148.8 306.0,153.5 306.1,144.2 306.2,144.4 306.3,143.1 306.5,150.9 306.6,144.3 306.7,147.9 306.8,147.3 306.9,141.6 307.0,153.5 307.1,146.9 307.2,147.3 307.3,148.2 307.5,149.1 307.6,141.8 307.7,139.9 307.8,142.3 307.9,140.8 308.0,136.7 308.1,150.3 308.2,144.9 308.4,142.6 308.5,137.8 308.6,146.4 308.7,142.0 308.8,135.9 308.9,147.9 309.0,147.2 309.1,147.9 309.3,142.1 309.4,139.6 309.5,137.5 309.6,139.5 309.7,133.5 309.8,141.8 309.9,133.4 310.0,130.0 310.1,141.5 310.3,135.9 310.4,140.0 310.5,140.4 310.6,140.7 310.7,136.3 310.8,139.4 310.9,137.9 311.0,140.6 311.2,141.6 311.3,127.6 311.4,128.2 311.5,131.6 311.6,130.1 311.7,128.9 311.8,137.7 311.9,125.1 312.0,129.2 312.2,134.5 312.3,128.4 312.4,127.6 312.5,135.9 312.6,135.5 312.7,127.0 312.8,124.2 312.9,127.0 313.1,135.5 313.2,133.8 313.3,123.0 313.4,130.9 313.5,128.8 313.6,130.8 313.7,124.9 313.8,121.4 313.9,120.0 314.1,124.9 314.2,132.1 314.3,131.7 314.4,128.0 314.5,130.0 314.6,119.9 314.7,123.2 314.8,130.3 315.0,130.7 315.1,124.1 315.2,127.5 315.3,129.3 315.4,132.5 315.5,121.8 315.6,126.9 315.7,121.9 315.8,123.6 316.0,123.2 316.1,120.9 316.2,118.4 316.3,125.6 316.4,124.9 316.5,126.4 316.6,113.4 316.7,116.5 316.9,122.5 317.0,127.5 317.1,119.8 317.2,117.7 317.3,122.9 317.4,125.9 317.5,126.3 317.6,126.8 317.7,118.8 317.9,115.1 318.0,125.5 318.1,122.6 318.2,123.0 318.3,117.1 318.4,114.8 318.5,115.6 318.6,123.5 318.8,124.4 318.9,116.1 319.0,121.4 319.1,115.1 319.2,116.8 319.3,116.9 319.4,115.4 319.5,112.6 319.6,112.0 319.8,113.5 319.9,116.3 320.0,109.7 320.1,118.4 320.2,110.7 320.3,114.5 320.4,116.9 320.5,108.8 320.7,113.0 320.8,115.2 320.9,114.7 321.0,115.3 321.1,115.8 321.2,106.8 321.3,116.7 321.4,113.0 321.5,115.3 321.7,107.8 321.8,111.0 321.9,114.0 322.0,116.8 322.1,114.4 322.2,107.2 322.3,116.5 322.4,111.5 322.6,110.3 322.7,114.9 322.8,108.0 322.9,114.9 323.0,115.4 323.1,113.6 323.2,106.9 323.3,109.9 323.4,104.5 323.6,111.8 323.7,113.6 323.8,103.5 323.9,110.6 324.0,109.6 324.1,101.1 324.2,111.7 324.3,105.4 324.5,104.9 324.6,100.0 324.7,110.2 324.8,103.9 324.9,106.3 325.0,101.8 325.1,107.2 325.2,103.4 325.4,110.4 325.5,106.8 325.6,109.1 325.7,99.6 325.8,97.8 325.9,110.7 326.0,110.1 326.1,105.5 326.2,110.1 326.4,105.7 326.5,105.3 326.6,100.3 326.7,101.1 326.8,102.5 326.9,100.0 327.0,102.9 327.1,102.1 327.3,98.0 327.4,100.5 327.5,97.4 327.6,101.7 327.7,107.8 327.8,103.4 327.9,103.3 328.0,102.4 328.1,97.1 328.3,101.0 328.4,105.7 328.5,108.8 328.6,96.3 328.7,91.9 328.8,107.5" fill="none" stroke="#6c00de" stroke-width="1.2" stroke-linejoin="miter"/>
<polyline points="48.3,230.8 48.4,222.5 48.5,227.7 48.6,220.5 48.7,227.0 48.9,223.0 49.0,222.3 49.1,226.9 49.2,226.3 49.3,228.2 49.4,220.2 49.5,226.6 49.6,220.6 49.8,221.0 49.9,223.5 50.0,222.0 50.1,227.4 50.2,224.6 50.3,223.6 50.4,227.2 50.5,228.9 50.6,225.1 50.8,225.7 50.9,227.9 51.0,222.7 51.1,228.1 51.2,223.3 51.3,220.0 51.4,228.1 51.5,221.8 51.7,224.2 51.8,222.4 51.9,223.1 52.0,223.6 52.1,221.9 52.2,220.9 52.3,227.6 52.4,224.5 52.5,220.2 52.7,226.6 52.8,225.0 52.9,218.9 53.0,227.6 53.1,223.4 53.2,223.0 53.3,222.3 53.4,223.6 53.6,219.8 53.7,222.2 53.8,222.5 53.9,222.5 54.0,224.3 54.1,222.1 54.2,220.9 54.3,221.0 54.4,222.9 54.6,221.8 54.7,224.8 54.8,227.2 54.9,226.7 55.0,223.9 55.1,225.7 55.2,227.0 55.3,224.2 55.5,227.2 55.6,223.3 55.7,225.6 55.8,225.5 55.9,228.5 56.0,227.9 56.1,219.3 56.2,228.7 56.3,220.6 56.5,223.8 56.6,224.7 56.7,227.3 56.8,221.9 56.9,226.5 57.0,222.7 57.1,219.7 57.2,222.6 57.4,226.3 57.5,222.6 57.6,226.5 57.7,220.4 57.8,221.8 57.9,222.2 58.0,221.0 58.1,228.8 58.3,227.2 58.4,227.0 58.5,223.0 58.6,227.7 58.7,223.5 58.8,222.1 58.9,225.8 59.0,221.2 59.1,219.6 59.3,227.2 59.4,223.2 59.5,228.0 59.6,222.8 59.7,221.9 59.8,224.9 59.9,220.7 60.0,220.8 60.2,220.2 60.3,224.2 60.4,223.0 60.5,221.7 60.6,227.2 60.7,228.4 60.8,226.4 60.9,222.6 61.0,227.0 61.2,227.7 61.3,223.5 61.4,223.2 61.5,221.1 61.6,224.5 61.7,223.8 61.8,226.5 61.9,224.6 62.1,225.8 62.2,227.7 62.3,225.6 62.4,220.4 62.5,221.9 62.6,228.8 62.7,221.3 62.8,221.4 62.9,224.1 63.1,229.9 63.2,228.4 63.3,226.9 63.4,225.2 63.5,222.8 63.6,220.8 63.7,224.7 63.8,222.3 64.0,227.2 64.1,221.6 64.2,219.2 64.3,228.0 64.4,220.7 64.5,225.5 64.6,220.3 64.7,228.4 64.8,220.5 65.0,226.3 65.1,229.0 65.2,222.5 65.3,219.1 65.4,220.4 65.5,222.0 65.6,226.2 65.7,224.8 65.9,227.6 66.0,226.0 66.1,225.5 66.2,221.0 66.3,221.8 66.4,229.6 66.5,229.5 66.6,224.8 66.7,227.9 66.9,226.1 67.0,222.1 67.1,222.7 67.2,225.5 67.3,228.5 67.4,226.9 67.5,222.8 67.6,219.9 67.8,221.7 67.9,221.2 68.0,228.1 68.1,222.4 68.2,227.3 68.3,221.5 68.4,229.9 68.5,223.9 68.6,227.6 68.8,224.1 68.9,226.3 69.0,220.4 69.1,220.5 69.2,222.6 69.3,227.9 69.4,229.6 69.5,226.2 69.7,225.2 69.8,220.1 69.9,230.7 70.0,227.5 70.1,226.0 70.2,228.2 70.3,221.4 70.4,225.4 70.5,226.3 70.7,226.8 70.8,220.0 70.9,225.7 71.0,228.5 71.1,225.9 71.2,219.5 71.3,228.3 71.4,222.2 71.6,221.4 71.7,227.8 71.8,223.8 71.9,223.8 72.0,226.1 72.1,224.5 72.2,220.8 72.3,224.4 72.4,226.6 72.6,226.0 72.7,221.1 72.8,224.9 72.9,228.0 73.0,221.7 73.1,219.0 73.2,223.4 73.3,228.7 73.5,226.9 73.6,223.0 73.7,226.0 73.8,225.1 73.9,222.5 74.0,223.2 74.1,222.1 74.2,223.2 74.4,222.2 74.5,223.4 74.6,228.7 74.7,229.4 74.8,224.2 74.9,230.1 75.0,224.8 75.1,227.9 75.2,226.7 75.4,225.2 75.5,225.3 75.6,226.4 75.7,226.7 75.8,227.3 75.9,223.7 76.0,223.2 76.1,222.2 76.3,229.6 76.4,228.3 76.5,224.1 76.6,223.6 76.7,221.3 76.8,229.2 76.9,225.2 77.0,229.7 77.1,227.2 77.3,225.7 77.4,226.2 77.5,226.3 77.6,227.1 77.7,223.3 77.8,225.3 77.9,228.2 78.0,224.2 78.2,228.6 78.3,224.0 78.4,228.4 78.5,221.5 78.6,218.7 78.7,221.1 78.8,223.4 78.9,222.4 79.0,226.7 79.2,227.3 79.3,221.6 79.4,227.0 79.5,224.8 79.6,226.4 79.7,223.0 79.8,226.6 79.9,218.6 80.1,222.6 80.2,223.4 80.3,222.4 80.4,221.8 80.5,223.6 80.6,225.1 80.7,226.5 80.8,225.7 80.9,228.0 81.1,230.6 81.2,226.0 81.3,223.7 81.4,222.6 81.5,225.3 81.6,222.1 81.7,221.1 81.8,222.8 82.0,225.8 82.1,221.8 82.2,226.0 82.3,223.7 82.4,219.4 82.5,222.0 82.6,228.6 82.7,225.6 82.8,220.1 83.0,225.2 83.1,227.1 83.2,221.6 83.3,225.9 83.4,224.0 83.5,223.7 83.6,226.8 83.7,220.9 83.9,220.1 84.0,221.8 84.1,224.5 84.2,219.6 84.3,224.4 84.4,228.0 84.5,226.5 84.6,225.6 84.7,221.0 84.9,224.3 85.0,222.6 85.1,225.5 85.2,220.4 85.3,221.4 85.4,227.8 85.5,228.8 85.6,221.7 85.8,226.3 85.9,221.9 86.0,221.9 86.1,230.0 86.2,228.6 86.3,223.3 86.4,225.2 86.5,223.1 86.6,227.5 86.8,222.1 86.9,222.4 87.0,219.9 87.1,225.6 87.2,225.0 87.3,226.2 87.4,221.6 87.5,225.9 87.7,225.9 87.8,226.0 87.9,220.8 88.0,222.3 88.1,220.3 88.2,224.4 88.3,228.2 88.4,222.4 88.5,225.3 88.7,220.8 88.8,225.5 88.9,221.6 89.0,228.0 89.1,225.7 89.2,221.5 89.3,224.7 89.4,223.8 89.6,225.0 89.7,223.7 89.8,222.5 89.9,224.4 90.0,226.9 90.1,228.5 90.2,228.3 90.3,223.6 90.5,227.5 90.6,221.8 90.7,229.6 90.8,221.8 90.9,226.1 91.0,227.0 91.1,224.2 91.2,228.2 91.3,230.2 91.5,220.6 91.6,225.4 91.7,219.0 91.8,226.7 91.9,219.3 92.0,227.1 92.1,221.2 92.2,224.1 92.4,225.6 92.5,222.1 92.6,229.4 92.7,222.8 92.8,221.4 92.9,228.2 93.0,222.3 93.1,225.6 93.2,228.7 93.4,227.9 93.5,225.0 93.6,221.8 93.7,225.2 93.8,222.4 93.9,223.8 94.0,221.2 94.1,223.0 94.3,220.2 94.4,227.8 94.5,220.2 94.6,226.0 94.7,224.8 94.8,225.2 94.9,225.3 95.0,224.1 95.1,227.1 95.3,223.5 95.4,227.8 95.5,225.0 95.6,227.0 95.7,227.5 95.8,224.8 95.9,224.3 96.0,224.8 96.2,222.6 96.3,225.6 96.4,224.6 96.5,227.6 96.6,219.1 96.7,221.4 96.8,225.1 96.9,226.2 97.0,220.9 97.2,220.4 97.3,224.7 97.4,223.7 97.5,219.2 97.6,221.9 97.7,220.5 97.8,220.2 97.9,220.1 98.1,219.4 98.2,224.6 98.3,226.1 98.4,225.2 98.5,224.8 98.6,223.9 98.7,223.1 98.8,219.3 98.9,220.5 99.1,229.0 99.2,225.7 99.3,224.7 99.4,226.6 99.5,226.6 99.6,226.8 99.7,221.5 99.8,226.2 100.0,225.2 100.1,222.6 100.2,223.8 100.3,222.5 100.4,224.3 100.5,227.9 100.6,227.7 100.7,219.7 100.8,220.7 101.0,222.2 101.1,220.4 101.2,220.3 101.3,226.8 101.4,221.2 101.5,224.1 101.6,222.2 101.7,228.8 101.9,223.9 102.0,222.3 102.1,226.6 102.2,222.3 102.3,223.7 102.4,221.9 102.5,223.4 102.6,223.9 102.7,223.0 102.9,221.3 103.0,229.5 103.1,221.1 103.2,223.1 103.3,223.7 103.4,220.2 103.5,222.8 103.6,222.1 103.8,225.8 103.9,223.9 104.0,223.7 104.1,227.3 104.2,227.2 104.3,221.8 104.4,222.1 104.5,225.2 104.6,222.5 104.8,226.3 104.9,220.1 105.0,225.3 105.1,221.3 105.2,221.8 105.3,228.2 105.4,222.0 105.5,226.0 105.7,228.6 105.8,227.4 105.9,221.7 106.0,222.9 106.1,218.7 106.2,223.1 106.3,228.3 106.4,225.9 106.5,220.6 106.7,220.6 106.8,225.2 106.9,225.6 107.0,220.5 107.1,224.5 107.2,220.8 107.3,222.1 107.4,220.9 107.6,228.8 107.7,223.9 107.8,225.5 107.9,220.5 108.0,220.6 108.1,226.3 108.2,228.0 108.3,226.6 108.5,221.5 108.6,222.4 108.7,224.5 108.8,223.3 108.9,228.5 109.0,223.2 109.1,223.7 109.2,224.8 109.3,224.5 109.5,224.3 109.6,220.7 109.7,227.4 109.8,220.6 109.9,228.5 110.0,221.1 110.1,222.6 110.2,222.1 110.4,227.0 110.5,224.1 110.6,223.8 110.7,223.8 110.8,219.4 110.9,224.0 111.0,228.7 111.1,228.3 111.2,222.6 111.4,228.4 111.5,221.5 111.6,226.5 111.7,218.8 111.8,223.5 111.9,224.9 112.0,224.4 112.1,227.9 112.3,223.7 112.4,220.2 112.5,221.5 112.6,225.0 112.7,220.2 112.8,221.1 112.9,221.5 113.0,229.0 113.1,225.8 113.3,221.0 113.4,226.0 113.5,222.8 113.6,224.2 113.7,228.7 113.8,224.7 113.9,222.6 114.0,230.1 114.2,224.3 114.3,225.1 114.4,227.6 114.5,228.6 114.6,227.0 114.7,223.9 114.8,222.4 114.9,221.2 115.0,221.1 115.2,227.0 115.3,226.8 115.4,227.6 115.5,227.5 115.6,224.6 115.7,227.7 115.8,224.4 115.9,226.3 116.1,223.5 116.2,222.2 116.3,227.1 116.4,219.1 116.5,227.8 116.6,229.1 116.7,226.7 116.8,223.2 116.9,222.9 117.1,223.7 117.2,223.7 117.3,222.1 117.4,226.9 117.5,229.6 117.6,224.0 117.7,225.6 117.8,222.7 118.0,227.6 118.1,228.7 118.2,224.3 118.3,229.6 118.4,226.4 118.5,226.1 118.6,222.6 118.7,221.0 118.8,221.0 119.0,228.6 119.1,221.2 119.2,224.8 119.3,221.5 119.4,225.8 119.5,228.8 119.6,224.4 119.7,220.2 119.9,226.3 120.0,224.1 120.1,227.1 120.2,220.5 120.3,222.4 120.4,227.5 120.5,227.5 120.6,227.8 120.7,222.4 120.9,225.9 121.0,229.6 121.1,226.1 121.2,221.3 121.3,221.8 121.4,219.5 121.5,219.7 121.6,221.0 121.8,224.4 121.9,226.0 122.0,228.0 122.1,224.0 122.2,221.4 122.3,228.3 122.4,228.1 122.5,228.9 122.6,219.3 122.8,224.6 122.9,226.1 123.0,224.4 123.1,219.3 123.2,228.2 123.3,222.5 123.4,222.1 123.5,223.7 123.7,227.1 123.8,221.1 123.9,225.8 124.0,221.6 124.1,223.8 124.2,221.8 124.3,221.3 124.4,228.5 124.6,223.6 124.7,225.6 124.8,225.8 124.9,222.5 125.0,219.4 125.1,225.1 125.2,223.6 125.3,229.3 125.4,221.7 125.6,227.4 125.7,221.8 125.8,222.4 125.9,222.0 126.0,228.3 126.1,225.2 126.2,225.3 126.3,220.0 126.5,222.7 126.6,227.3 126.7,226.2 126.8,226.4 126.9,225.8 127.0,223.0 127.1,226.9 127.2,223.4 127.3,221.1 127.5,227.0 127.6,221.2 127.7,226.7 127.8,226.9 127.9,222.8 128.0,224.9 128.1,224.7 128.2,220.5 128.4,221.1 128.5,222.2 128.6,220.6 128.7,220.5 128.8,223.8 128.9,226.0 129.0,225.2 129.1,221.0 129.2,229.6 129.4,226.8 129.5,226.0 129.6,225.4 129.7,223.6 129.8,227.0 129.9,226.1 130.0,220.7 130.1,226.4 130.3,225.2 130.4,225.9 130.5,223.9 130.6,226.0 130.7,226.9 130.8,224.1 130.9,219.7 131.0,222.8 131.1,226.9 131.3,224.3 131.4,225.2 131.5,220.3 131.6,225.3 131.7,226.0 131.8,226.2 131.9,228.4 132.0,224.8 132.2,223.5 132.3,221.4 132.4,222.3 132.5,223.1 132.6,228.0 132.7,225.2 132.8,226.5 132.9,226.8 133.0,221.5 133.2,221.8 133.3,224.5 133.4,220.2 133.5,223.2 133.6,224.7 133.7,226.3 133.8,221.7 133.9,221.1 134.1,229.7 134.2,225.3 134.3,223.6 134.4,225.6 134.5,226.4 134.6,228.5 134.7,221.0 134.8,227.0 134.9,223.7 135.1,222.8 135.2,226.0 135.3,221.2 135.4,221.4 135.5,219.2 135.6,227.2 135.7,227.3 135.8,222.0 136.0,222.3 136.1,227.5 136.2,222.7 136.3,223.9 136.4,227.4 136.5,224.0 136.6,224.8 136.7,224.1 136.8,220.4 137.0,224.1 137.1,225.8 137.2,226.7 137.3,227.4 137.4,223.3 137.5,224.5 137.6,221.7 137.7,221.2 137.9,219.3 138.0,221.2 138.1,220.8 138.2,225.5 138.3,224.7 138.4,225.5 138.5,227.7 138.6,225.1 138.7,225.5 138.9,224.6 139.0,223.5 139.1,224.0 139.2,225.4 139.3,228.7 139.4,226.4 139.5,220.8 139.6,225.7 139.8,220.2 139.9,224.8 140.0,227.9 140.1,227.1 140.2,221.4 140.3,223.0 140.4,222.5 140.5,226.1 140.7,226.9 140.8,227.7 140.9,222.4 141.0,225.2 141.1,221.3 141.2,227.5 141.3,230.2 141.4,221.2 141.5,223.4 141.7,226.8 141.8,221.6 141.9,221.4 142.0,220.2 142.1,226.2 142.2,220.3 142.3,223.8 142.4,227.2 142.6,220.3 142.7,226.2 142.8,224.4 142.9,222.5 143.0,224.3 143.1,223.1 143.2,227.2 143.3,226.7 143.4,222.3 143.6,220.8 143.7,223.7 143.8,229.4 143.9,227.5 144.0,220.7 144.1,223.6 144.2,222.7 144.3,224.1 144.5,220.4 144.6,221.5 144.7,224.7 144.8,227.2 144.9,227.1 145.0,227.7 145.1,226.2 145.2,219.7 145.3,221.5 145.5,223.7 145.6,223.8 145.7,223.8 145.8,223.1 145.9,223.3 146.0,220.4 146.1,227.8 146.2,227.8 146.4,223.1 146.5,222.0 146.6,225.0 146.7,228.3 146.8,223.3 146.9,226.2 147.0,224.5 147.1,230.6 147.2,226.0 147.4,219.9 147.5,225.3 147.6,227.5 147.7,221.7 147.8,220.5 147.9,219.4 148.0,221.3 148.1,220.3 148.3,228.1 148.4,225.4 148.5,225.6 148.6,223.3 148.7,224.7 148.8,228.4 148.9,220.4 149.0,224.8 149.1,223.9 149.3,225.9 149.4,226.7 149.5,224.8 149.6,226.8 149.7,222.7 149.8,223.6 149.9,229.5 150.0,224.8 150.2,225.7 150.3,224.2 150.4,223.8 150.5,225.5 150.6,221.7 150.7,222.2 150.8,221.1 150.9,224.1 151.0,226.8 151.2,226.2 151.3,224.0 151.4,222.3 151.5,222.1 151.6,225.9 151.7,223.1 151.8,223.8 151.9,222.2 152.1,227.6 152.2,224.0 152.3,229.8 152.4,221.8 152.5,223.3 152.6,227.0 152.7,227.9 152.8,222.8 152.9,229.3 153.1,225.8 153.2,228.2 153.3,230.2 153.4,225.2 153.5,227.5 153.6,221.5 153.7,223.8 153.8,223.6 154.0,220.8 154.1,225.2 154.2,226.8 154.3,221.1 154.4,225.6 154.5,224.2 154.6,221.8 154.7,226.0 154.8,221.9 155.0,225.0 155.1,225.8 155.2,226.7 155.3,229.6 155.4,227.6 155.5,224.7 155.6,221.1 155.7,222.1 155.9,226.4 156.0,228.1 156.1,227.8 156.2,227.9 156.3,226.8 156.4,229.4 156.5,226.6 156.6,225.0 156.7,226.1 156.9,225.8 157.0,226.5 157.1,227.7 157.2,223.3 157.3,225.2 157.4,224.1 157.5,223.3 157.6,227.2 157.8,229.2 157.9,226.9 158.0,227.6 158.1,228.5 158.2,227.6 158.3,224.4 158.4,221.8 158.5,218.5 158.7,228.1 158.8,226.8 158.9,225.8 159.0,224.3 159.1,226.4 159.2,227.8 159.3,223.6 159.4,225.4 159.5,220.4 159.7,225.4 159.8,225.8 159.9,227.2 160.0,222.2 160.1,220.8 160.2,225.2 160.3,221.9 160.4,225.6 160.6,222.4 160.7,227.1 160.8,222.7 160.9,227.2 161.0,223.1 161.1,223.2 161.2,225.6 161.3,227.4 161.4,224.8 161.6,223.7 161.7,225.7 161.8,221.5 161.9,223.4 162.0,225.0 162.1,222.4 162.2,220.7 162.3,226.6 162.5,219.9 162.6,227.9 162.7,228.1 162.8,223.5 162.9,226.9 163.0,221.3 163.1,225.6 163.2,222.5 163.3,222.1 163.5,228.6 163.6,220.8 163.7,226.9 163.8,221.0 163.9,226.0 164.0,223.7 164.1,223.9 164.2,229.1 164.4,227.5 164.5,220.0 164.6,223.8 164.7,225.3 164.8,225.2 164.9,222.0 165.0,226.6 165.1,226.6 165.2,228.2 165.4,222.6 165.5,222.5 165.6,227.3 165.7,225.9 165.8,222.6 165.9,221.5 166.0,224.7 166.1,226.2 166.3,224.1 166.4,222.7 166.5,227.1 166.6,224.6 166.7,224.7 166.8,222.3 166.9,222.5 167.0,222.9 167.1,227.1 167.3,221.4 167.4,223.0 167.5,223.9 167.6,228.2 167.7,225.9 167.8,219.9 167.9,223.6 168.0,225.1 168.2,221.1 168.3,228.9 168.4,227.8 168.5,220.0 168.6,226.1 168.7,223.2 168.8,221.4 168.9,220.2 169.0,219.5 169.2,224.1 169.3,224.3 169.4,226.2 169.5,226.3 169.6,224.6 169.7,225.4 169.8,222.2 169.9,224.3 170.1,225.6 170.2,225.5 170.3,219.3 170.4,220.3 170.5,229.9 170.6,226.6 170.7,220.6 170.8,225.6 170.9,220.4 171.1,226.3 171.2,223.2 171.3,224.2 171.4,222.3 171.5,228.0 171.6,229.6 171.7,228.6 171.8,227.9 172.0,221.8 172.1,228.8 172.2,226.6 172.3,227.0 172.4,225.0 172.5,222.3 172.6,226.5 172.7,223.9 172.8,222.0 173.0,224.2 173.1,221.6 173.2,222.1 173.3,229.1 173.4,223.5 173.5,222.5 173.6,224.1 173.7,221.1 173.9,221.3 174.0,226.5 174.1,218.8 174.2,223.3 174.3,227.6 174.4,225.1 174.5,220.5 174.6,220.9 174.8,224.5 174.9,227.2 175.0,224.7 175.1,224.5 175.2,224.7 175.3,221.7 175.4,225.5 175.5,219.9 175.6,222.0 175.8,228.2 175.9,219.8 176.0,225.3 176.1,226.5 176.2,221.7 176.3,224.5 176.4,222.2 176.5,228.8 176.7,223.5 176.8,222.2 176.9,226.7 177.0,226.1 177.1,222.8 177.2,221.9 177.3,223.7 177.4,225.3 177.5,219.9 177.7,220.8 177.8,226.0 177.9,223.0 178.0,220.4 178.1,225.5 178.2,222.6 178.3,227.7 178.4,221.5 178.6,216.6 178.7,219.7 178.8,220.6 178.9,226.7 179.0,220.7 179.1,222.1 179.2,229.2 179.3,220.2 179.4,223.3 179.6,226.1 179.7,228.5 179.8,219.8 179.9,223.2 180.0,221.8 180.1,225.7 180.2,219.6 180.3,220.8 180.5,221.5 180.6,219.9 180.7,225.6 180.8,220.1 180.9,221.7 181.0,220.1 181.1,222.3 181.2,220.2 181.3,221.6 181.5,223.3 181.6,219.5 181.7,223.8 181.8,221.0 181.9,218.9 182.0,218.8 182.1,225.8 182.2,216.2 182.4,221.4 182.5,224.9 182.6,218.2 182.7,218.8 182.8,221.1 182.9,224.3 183.0,219.2 183.1,227.3 183.2,220.3 183.4,223.8 183.5,225.1 183.6,221.3 183.7,223.3 183.8,222.6 183.9,220.5 184.0,227.1 184.1,221.1 184.3,222.6 184.4,223.6 184.5,227.2 184.6,218.4 184.7,219.5 184.8,225.5 184.9,222.6 185.0,223.1 185.1,223.8 185.3,225.1 185.4,225.4 185.5,221.9 185.6,217.8 185.7,224.5 185.8,216.1 185.9,225.2 186.0,215.4 186.2,224.6 186.3,224.1 186.4,216.4 186.5,224.3 186.6,222.3 186.7,218.3 186.8,223.1 186.9,222.4 187.0,220.7 187.2,225.7 187.3,218.2 187.4,219.0 187.5,224.6 187.6,218.4 187.7,225.0 187.8,218.2 187.9,224.5 188.1,220.0 188.2,222.2 188.3,221.0 188.4,220.3 188.5,221.8 188.6,221.7 188.7,217.9 188.8,224.6 188.9,222.2 189.1,218.0 189.2,219.0 189.3,218.8 189.4,220.9 189.5,220.5 189.6,217.8 189.7,224.4 189.8,217.2 190.0,221.9 190.1,221.6 190.2,216.5 190.3,219.9 190.4,219.8 190.5,224.0 190.6,217.1 190.7,220.6 190.9,222.5 191.0,216.2 191.1,222.5 191.2,216.9 191.3,219.7 191.4,221.9 191.5,219.8 191.6,215.7 191.7,216.7 191.9,223.3 192.0,218.4 192.1,215.5 192.2,220.4 192.3,217.4 192.4,221.7 192.5,217.7 192.6,219.1 192.8,222.9 192.9,218.0 193.0,222.7 193.1,218.9 193.2,221.3 193.3,218.6 193.4,220.0 193.5,221.1 193.6,219.0 193.8,221.3 193.9,217.9 194.0,213.5 194.1,220.6 194.2,217.1 194.3,218.8 194.4,219.4 194.5,215.3 194.7,215.8 194.8,214.3 194.9,220.2 195.0,222.1 195.1,219.5 195.2,220.9 195.3,218.3 195.4,213.3 195.5,216.6 195.7,213.2 195.8,216.4 195.9,215.1 196.0,216.6 196.1,219.0 196.2,219.3 196.3,221.4 196.4,223.6 196.6,213.7 196.7,222.9 196.8,219.8 196.9,217.7 197.0,221.2 197.1,216.8 197.2,212.3 197.3,211.2 197.4,215.6 197.6,218.7 197.7,216.4 197.8,218.3 197.9,214.3 198.0,214.5 198.1,216.5 198.2,219.4 198.3,214.8 198.5,213.4 198.6,213.7 198.7,218.2 198.8,218.6 198.9,214.0 199.0,219.2 199.1,211.2 199.2,213.1 199.3,214.5 199.5,218.2 199.6,215.2 199.7,216.1 199.8,219.3 199.9,212.7 200.0,212.3 200.1,213.7 200.2,214.4 200.4,210.5 200.5,209.6 200.6,216.3 200.7,219.0 200.8,218.0 200.9,212.0 201.0,214.9 201.1,217.8 201.2,218.4 201.4,213.2 201.5,218.1 201.6,215.0 201.7,210.0 201.8,215.3 201.9,209.3 202.0,213.1 202.1,212.7 202.3,216.2 202.4,213.2 202.5,214.4 202.6,215.0 202.7,213.7 202.8,213.9 202.9,213.2 203.0,213.2 203.1,211.9 203.3,215.0 203.4,210.3 203.5,215.2 203.6,213.7 203.7,207.7 203.8,212.6 203.9,209.5 204.0,210.0 204.2,210.7 204.3,212.3 204.4,210.6 204.5,211.3 204.6,206.7 204.7,205.4 204.8,211.2 204.9,213.8 205.0,206.2 205.2,213.9 205.3,208.1 205.4,209.3 205.5,207.0 205.6,209.3 205.7,208.1 205.8,211.3 205.9,205.5 206.1,205.6 206.2,208.5 206.3,205.9 206.4,212.1 206.5,208.3 206.6,212.9 206.7,204.4 206.8,210.1 206.9,202.8 207.1,201.6 207.2,209.3 207.3,206.1 207.4,206.6 207.5,206.0 207.6,204.0 207.7,206.6 207.8,203.7 208.0,203.5 208.1,208.9 208.2,207.3 208.3,206.9 208.4,208.4 208.5,206.1 208.6,202.9 208.7,208.0 208.9,204.3 209.0,206.5 209.1,201.6 209.2,203.5 209.3,204.3 209.4,199.7 209.5,205.9 209.6,201.4 209.7,206.6 209.9,205.3 210.0,202.9 210.1,198.2 210.2,203.9 210.3,200.0 210.4,205.4 210.5,205.1 210.6,204.2 210.8,203.7 210.9,198.8 211.0,203.3 211.1,205.9 211.2,205.5 211.3,204.7 211.4,200.0 211.5,205.2 211.6,200.7 211.8,197.1 211.9,201.0 212.0,204.3 212.1,202.4 212.2,204.2 212.3,195.9 212.4,202.5 212.5,203.1 212.7,198.9 212.8,202.6 212.9,196.3 213.0,197.7 213.1,194.7 213.2,199.9 213.3,203.4 213.4,201.8 213.5,192.7 213.7,200.8 213.8,198.0 213.9,195.1 214.0,201.0 214.1,197.3 214.2,190.7 214.3,193.6 214.4,197.5 214.6,196.5 214.7,192.3 214.8,196.7 214.9,190.3 215.0,198.5 215.1,189.9 215.2,198.9 215.3,195.3 215.4,198.2 215.6,195.7 215.7,193.9 215.8,192.5 215.9,189.5 216.0,190.2 216.1,187.6 216.2,190.2 216.3,191.6 216.5,191.5 216.6,192.4 216.7,190.3 216.8,195.3 216.9,193.4 217.0,187.9 217.1,191.3 217.2,196.1 217.3,187.3 217.5,190.6 217.6,190.8 217.7,191.1 217.8,190.4 217.9,188.8 218.0,187.0 218.1,190.8 218.2,188.9 218.4,185.9 218.5,189.1 218.6,189.7 218.7,191.6 218.8,187.2 218.9,186.7 219.0,185.4 219.1,184.7 219.2,183.0 219.4,185.4 219.5,190.1 219.6,185.3 219.7,180.4 219.8,178.6 219.9,187.4 220.0,181.2 220.1,186.9 220.3,189.1 220.4,189.4 220.5,184.9 220.6,186.4 220.7,181.7 220.8,188.6 220.9,186.1 221.0,175.5 221.1,183.6 221.3,177.7 221.4,186.3 221.5,174.6 221.6,183.8 221.7,175.5 221.8,178.3 221.9,178.3 222.0,184.0 222.2,177.3 222.3,182.5 222.4,184.1 222.5,173.3 222.6,180.2 222.7,171.7 222.8,180.7 222.9,182.7 223.0,173.8 223.2,183.6 223.3,176.0 223.4,172.7 223.5,182.7 223.6,175.8 223.7,171.4 223.8,172.2 223.9,180.4 224.1,181.6 224.2,173.4 224.3,174.3 224.4,174.9 224.5,177.1 224.6,166.9 224.7,177.4 224.8,178.8 225.0,171.5 225.1,169.8 225.2,179.9 225.3,170.5 225.4,170.7 225.5,175.3 225.6,171.9 225.7,171.9 225.8,168.9 226.0,173.1 226.1,170.1 226.2,173.0 226.3,169.7 226.4,175.0 226.5,172.5 226.6,172.6 226.7,169.0 226.9,170.6 227.0,166.4 227.1,170.3 227.2,170.5 227.3,164.7 227.4,168.7 227.5,172.3 227.6,163.6 227.7,165.5 227.9,170.7 228.0,165.1 228.1,160.4 228.2,167.2 228.3,165.9 228.4,171.4 228.5,168.5 228.6,166.4 228.8,163.7 228.9,169.6 229.0,168.5 229.1,157.9 229.2,166.5 229.3,169.9 229.4,166.3 229.5,169.0 229.6,160.6 229.8,164.7 229.9,164.6 230.0,160.8 230.1,165.6 230.2,160.9 230.3,163.5 230.4,165.0 230.5,163.3 230.7,156.4 230.8,154.2 230.9,163.5 231.0,162.2 231.1,154.7 231.2,154.5 231.3,157.2 231.4,155.6 231.5,164.1 231.7,154.8 231.8,164.2 231.9,160.8 232.0,157.7 232.1,161.5 232.2,159.1 232.3,155.1 232.4,158.2 232.6,150.3 232.7,150.5 232.8,160.7 232.9,161.0 233.0,158.2 233.1,149.0 233.2,157.6 233.3,158.2 233.4,152.6 233.6,153.6 233.7,156.8 233.8,149.9 233.9,154.6 234.0,149.4 234.1,151.8 234.2,152.3 234.3,151.4 234.5,156.8 234.6,157.3 234.7,154.8 234.8,153.5 234.9,150.2 235.0,149.2 235.1,155.5 235.2,145.2 235.3,151.0 235.5,151.2 235.6,144.5 235.7,143.8 235.8,151.9 235.9,152.5 236.0,147.1 236.1,146.0 236.2,150.6 236.4,149.8 236.5,144.6 236.6,150.1 236.7,149.8 236.8,149.5 236.9,145.4 237.0,149.0 237.1,142.0 237.2,141.6 237.4,148.7 237.5,140.5 237.6,144.5 237.7,148.1 237.8,140.3 237.9,144.3 238.0,139.3 238.1,143.3 238.3,148.1 238.4,144.9 238.5,144.7 238.6,142.9 238.7,142.5 238.8,139.5 238.9,138.2 239.0,144.7 239.1,135.7 239.3,144.2 239.4,135.4 239.5,142.4 239.6,138.9 239.7,139.6 239.8,141.6 239.9,135.6 240.0,143.9 240.2,142.2 240.3,139.1 240.4,138.8 240.5,136.7 240.6,143.0 240.7,135.8 240.8,132.4 240.9,138.5 241.1,143.1 241.2,142.4 241.3,137.9 241.4,135.3 241.5,141.2 241.6,136.8 241.7,138.5 241.8,138.7 241.9,138.5 242.1,142.1 242.2,137.5 242.3,141.4 242.4,136.5 242.5,129.2 242.6,134.9 242.7,135.4 242.8,132.2 243.0,127.8 243.1,131.3 243.2,136.2 243.3,127.0 243.4,126.9 243.5,137.6 243.6,136.5 243.7,136.4 243.8,135.8 244.0,133.6 244.1,132.2 244.2,132.5 244.3,134.3 244.4,127.9 244.5,125.7 244.6,132.2 244.7,131.0 244.9,135.1 245.0,126.8 245.1,126.1 245.2,122.5 245.3,120.6 245.4,122.5 245.5,127.9 245.6,131.9 245.7,120.8 245.9,121.2 246.0,128.7 246.1,123.1 246.2,117.7 246.3,128.8 246.4,118.2 246.5,121.5 246.6,124.9 246.8,124.2 246.9,125.0 247.0,118.5 247.1,114.6 247.2,113.8 247.3,117.9 247.4,117.0 247.5,111.5 247.6,110.0 247.8,110.3 247.9,109.0 248.0,109.0 248.1,105.7 248.2,112.4" fill="none" stroke="#008f00" stroke-width="1.2" stroke-linejoin="miter"/>
</g>
<rect x="43.5" y="10" width="283.9" height="228.3" fill="none" stroke="#242424" stroke-width="1.3"/>
<line x1="48.3" y1="238.3" x2="48.3" y2="234.3" stroke="#242424" stroke-width="1.2"/>
<line x1="99.12" y1="238.3" x2="99.12" y2="234.3" stroke="#242424" stroke-width="1.2"/>
<line x1="149.94" y1="238.3" x2="149.94" y2="234.3" stroke="#242424" stroke-width="1.2"/>
<line x1="200.76" y1="238.3" x2="200.76" y2="234.3" stroke="#242424" stroke-width="1.2"/>
<line x1="251.58" y1="238.3" x2="251.58" y2="234.3" stroke="#242424" stroke-width="1.2"/>
<line x1="302.4" y1="238.3" x2="302.4" y2="234.3" stroke="#242424" stroke-width="1.2"/>
<line x1="73.71" y1="238.3" x2="73.71" y2="236.1" stroke="#242424" stroke-width="1.2"/>
<line x1="124.53" y1="238.3" x2="124.53" y2="236.1" stroke="#242424" stroke-width="1.2"/>
<line x1="175.35" y1="238.3" x2="175.35" y2="236.1" stroke="#242424" stroke-width="1.2"/>
<line x1="226.17" y1="238.3" x2="226.17" y2="236.1" stroke="#242424" stroke-width="1.2"/>
<line x1="276.99" y1="238.3" x2="276.99" y2="236.1" stroke="#242424" stroke-width="1.2"/>
<line x1="327.81" y1="238.3" x2="327.81" y2="236.1" stroke="#242424" stroke-width="1.2"/>
<text x="48.3" y="253.6" font-size="13" text-anchor="middle" font-weight="normal" fill="#1a1a1a" >0</text>
<text id="o1" x="99.12" y="253.6" font-size="13" text-anchor="middle" font-weight="normal" fill="#1a1a1a" > 000</text><g fill="#1a1a1a"><path d="M763 0L583 0L583 1100C540 1060 483 1022 413 983C343 944 280 915 223 895L223 1062C324 1107 412 1163 488 1228C564 1292 617 1355 649 1409L763 1409Z" transform="translate(84.66 253.60) scale(0.00635 -0.00635)"/></g>
<text x="149.94" y="253.6" font-size="13" text-anchor="middle" font-weight="normal" fill="#1a1a1a" >2000</text>
<text x="200.76" y="253.6" font-size="13" text-anchor="middle" font-weight="normal" fill="#1a1a1a" >3000</text>
<text x="251.58" y="253.6" font-size="13" text-anchor="middle" font-weight="normal" fill="#1a1a1a" >4000</text>
<text x="302.4" y="253.6" font-size="13" text-anchor="middle" font-weight="normal" fill="#1a1a1a" >5000</text>
<line x1="43.5" y1="225.3" x2="47.5" y2="225.3" stroke="#242424" stroke-width="1.2"/>
<line x1="43.5" y1="171.5" x2="47.5" y2="171.5" stroke="#242424" stroke-width="1.2"/>
<line x1="43.5" y1="117.7" x2="47.5" y2="117.7" stroke="#242424" stroke-width="1.2"/>
<line x1="43.5" y1="63.9" x2="47.5" y2="63.9" stroke="#242424" stroke-width="1.2"/>
<line x1="43.5" y1="10.1" x2="47.5" y2="10.1" stroke="#242424" stroke-width="1.2"/>
<line x1="43.5" y1="198.4" x2="45.7" y2="198.4" stroke="#242424" stroke-width="1.2"/>
<line x1="43.5" y1="144.6" x2="45.7" y2="144.6" stroke="#242424" stroke-width="1.2"/>
<line x1="43.5" y1="90.8" x2="45.7" y2="90.8" stroke="#242424" stroke-width="1.2"/>
<line x1="43.5" y1="37" x2="45.7" y2="37" stroke="#242424" stroke-width="1.2"/>
<text x="38.4" y="228.8" font-size="13" text-anchor="end" font-weight="normal" fill="#1a1a1a" >0</text>
<text id="o2" x="38.4" y="175" font-size="13" text-anchor="end" font-weight="normal" fill="#1a1a1a" > </text><g fill="#1a1a1a"><path d="M763 0L583 0L583 1100C540 1060 483 1022 413 983C343 944 280 915 223 895L223 1062C324 1107 412 1163 488 1228C564 1292 617 1355 649 1409L763 1409Z" transform="translate(31.17 175.00) scale(0.00635 -0.00635)"/></g>
<text x="38.4" y="121.2" font-size="13" text-anchor="end" font-weight="normal" fill="#1a1a1a" >2</text>
<text x="38.4" y="67.4" font-size="13" text-anchor="end" font-weight="normal" fill="#1a1a1a" >3</text>
<text x="38.4" y="13.6" font-size="13" text-anchor="end" font-weight="normal" fill="#1a1a1a" >4</text>
<line x1="118.6" y1="59.7" x2="145.1" y2="59.7" stroke="#7800ff" stroke-width="2.2" stroke-linecap="round"/>
<line x1="118.6" y1="80.5" x2="145.1" y2="80.5" stroke="#008f00" stroke-width="2.2" stroke-linecap="round"/>
<text x="150.6" y="64.2" font-size="13" text-anchor="start" font-weight="normal" fill="#1a1a1a" >Benzene (dry)</text>
<text x="150.6" y="85.1" font-size="13" text-anchor="start" font-weight="normal" fill="#1a1a1a" >Benzene (30% RH)</text>
<text id="o3" x="153.8" y="275.6" font-size="13" text-anchor="start" font-weight="normal" fill="#1a1a1a" >Time / h g<tspan font-size="7.4" dx="0.1" dy="-6.2">- </tspan></text><g fill="#1a1a1a"><path d="M763 0L583 0L583 1100C540 1060 483 1022 413 983C343 944 280 915 223 895L223 1062C324 1107 412 1163 488 1228C564 1292 617 1355 649 1409L763 1409Z" transform="translate(213.68 269.40) scale(0.00361 -0.00361)"/></g>
<text x="15.8" y="124" font-size="13" text-anchor="middle" font-weight="normal" fill="#1a1a1a" transform="rotate(-90 15.8 124.0)">Concentration of benzene / ppm</text>
<text x="3.6" y="15.5" font-size="21.5" text-anchor="start" font-weight="bold" fill="#000" >a</text>
<clipPath id="cb"><rect x="392.5" y="10.5" width="284.6" height="228.9"/></clipPath>
<g clip-path="url(#cb)">
<polyline points="401.77,231.13 402.23,230.11 402.70,231.46 403.17,231.15 403.63,231.25 404.10,231.31 404.57,230.96 405.03,230.67 405.50,230.94 405.97,230.94 406.43,232.08 406.90,231.91 407.37,230.89 407.83,230.91 408.30,231.23 408.77,231.32 409.23,230.77 409.70,230.63 410.17,231.90 410.63,231.51 411.10,230.37 411.57,230.27 412.03,230.67 412.50,231.12 412.97,231.26 413.43,230.86 413.90,230.30 414.37,231.09 414.83,231.26 415.30,230.99 415.77,230.76 416.23,231.23 416.70,230.94 417.17,230.47 417.63,231.00 418.10,230.39 418.57,231.37 419.03,231.15 419.50,230.50 419.97,231.02 420.43,231.47 420.90,229.98 421.37,230.85 421.83,231.63 422.30,230.22 422.77,230.82 423.23,230.27 423.70,230.86 424.17,229.83 424.63,230.17 425.10,230.64 425.57,230.93 426.03,231.03 426.50,231.04 426.97,231.36 427.43,231.15 427.90,231.17 428.37,230.41 428.83,230.77 429.30,232.23 429.77,231.82 430.23,231.19 430.70,231.14 431.17,231.25 431.63,230.63 432.10,231.67 432.57,230.63 433.03,230.76 433.50,231.75 433.97,229.87 434.43,230.94 434.90,230.02 435.37,230.48 435.83,230.73 436.30,230.61 436.77,230.84 437.23,230.42 437.70,230.70 438.17,230.22 438.63,230.57 439.10,230.12 439.57,231.02 440.03,230.16 440.50,231.03 440.97,230.54 441.43,230.58 441.90,231.23 442.37,230.76 442.83,229.86 443.30,230.92 443.77,229.41 444.23,230.81 444.70,230.51 445.16,230.06 445.63,230.71 446.10,230.54 446.56,231.56 447.03,230.47 447.50,231.52 447.96,231.27 448.43,230.38 448.90,230.28 449.36,231.23 449.83,230.58 450.30,230.70 450.76,230.52 451.23,230.09 451.70,230.45 452.16,230.19 452.63,229.93 453.10,230.48 453.56,231.40 454.03,231.32 454.50,230.56 454.96,230.65 455.43,230.81 455.90,231.18 456.36,230.72 456.83,230.35 457.30,230.39 457.76,231.06 458.23,231.72 458.70,230.27 459.16,229.63 459.63,230.90 460.10,230.50 460.56,230.59 461.03,231.08 461.50,230.55 461.96,229.92 462.43,229.63 462.90,230.48 463.36,229.98 463.83,230.62 464.30,229.91 464.76,230.32 465.23,229.82 465.70,230.31 466.16,230.26 466.63,230.72 467.10,231.05 467.56,230.36 468.03,230.05 468.50,231.31 468.96,230.59 469.43,230.70 469.90,230.69 470.36,231.06 470.83,230.86 471.30,230.70 471.76,230.73 472.23,230.00 472.70,230.10 473.16,230.32 473.63,230.41 474.10,230.36 474.56,230.49 475.03,230.35 475.50,230.14 475.96,229.60 476.43,230.70 476.90,230.58 477.36,229.91 477.83,230.52 478.30,230.47 478.76,230.32 479.23,229.45 479.70,229.73 480.16,229.99 480.63,230.98 481.10,229.86 481.56,230.08 482.03,229.73 482.50,230.00 482.96,230.36 483.43,229.27 483.90,228.92 484.36,230.48 484.83,230.19 485.30,229.90 485.76,230.59 486.23,230.59 486.70,229.20 487.16,230.05 487.63,230.62 488.10,229.81 488.56,229.96 489.03,230.52 489.50,229.96 489.96,229.53 490.43,229.75 490.90,229.46 491.36,230.29 491.83,229.26 492.30,230.47 492.76,229.27 493.23,230.02 493.70,229.33 494.16,229.83 494.63,230.43 495.10,230.46 495.56,230.53 496.03,229.89 496.50,229.97 496.96,230.01 497.43,230.17 497.90,229.70 498.36,230.37 498.83,230.01 499.30,230.36 499.76,230.05 500.23,230.13 500.70,229.48 501.16,229.61 501.63,229.20 502.10,229.64 502.56,229.68 503.03,230.12 503.50,229.16 503.96,231.17 504.43,229.65 504.90,230.25 505.36,230.14 505.83,228.53 506.30,229.53 506.76,230.29 507.23,228.52 507.70,229.95 508.16,229.17 508.63,229.36 509.10,229.66 509.56,228.70 510.03,229.61 510.50,229.22 510.96,229.15 511.43,229.79 511.90,231.04 512.36,229.60 512.83,229.67 513.30,229.39 513.76,229.07 514.23,229.49 514.70,230.04 515.16,229.42 515.63,229.72 516.10,229.20 516.56,230.42 517.03,228.53 517.50,229.51 517.96,229.47 518.43,229.33 518.90,228.69 519.36,228.66 519.83,229.05 520.30,229.18 520.76,228.56 521.23,228.60 521.70,229.29 522.16,229.45 522.63,228.68 523.10,228.55 523.56,228.47 524.03,229.83 524.50,228.85 524.96,228.51 525.43,228.90 525.90,229.37 526.36,228.76 526.83,227.47 527.30,227.95 527.76,227.68 528.23,227.58 528.70,227.05 529.16,227.29 529.63,226.83 530.10,227.32 530.56,227.04 531.03,226.23 531.50,225.94 531.96,226.33 532.43,226.68 532.90,226.45 533.36,226.03 533.83,224.40 534.30,225.49 534.76,225.21 535.23,225.22 535.70,224.65 536.16,224.83 536.63,224.55 537.10,225.88 537.56,224.77 538.03,224.15 538.49,223.99 538.96,223.72 539.43,223.61 539.89,223.09 540.36,223.00 540.83,223.19 541.29,222.82 541.76,222.30 542.23,222.46 542.69,221.65 543.16,220.79 543.63,220.13 544.09,220.28 544.56,220.23 545.03,220.10 545.49,220.06 545.96,218.97 546.43,218.51 546.89,218.87 547.36,218.69 547.83,217.58 548.29,217.58 548.76,217.68 549.23,216.84 549.69,216.30 550.16,215.01 550.63,216.17 551.09,215.49 551.56,214.88 552.03,214.24 552.49,213.51 552.96,213.64 553.43,213.25 553.89,213.39 554.36,211.95 554.83,212.73 555.29,211.68 555.76,211.78 556.23,210.37 556.69,210.53 557.16,210.48 557.63,209.53 558.09,208.37 558.56,208.42 559.03,208.35 559.49,207.01 559.96,206.51 560.43,206.79 560.89,205.77 561.36,206.02 561.83,204.69 562.29,203.90 562.76,203.88 563.23,204.40 563.69,202.83 564.16,202.70 564.63,202.30 565.09,201.25 565.56,201.65 566.03,200.71 566.49,200.31 566.96,198.82 567.43,198.26 567.89,197.27 568.36,197.89 568.83,197.32 569.29,197.18 569.76,196.96 570.23,195.59 570.69,195.00 571.16,194.72 571.63,194.61 572.09,192.93 572.56,192.97 573.03,191.95 573.49,191.28 573.96,191.17 574.43,189.81 574.89,189.04 575.36,189.18 575.83,188.22 576.29,187.46 576.76,186.87 577.23,186.50 577.69,185.46 578.16,185.32 578.63,184.51 579.09,184.34 579.56,183.59 580.03,182.76 580.49,181.64 580.96,181.15 581.43,180.19 581.89,181.11 582.36,179.10 582.83,178.83 583.29,178.58 583.76,176.75 584.23,176.39 584.69,175.98 585.16,175.11 585.63,174.38 586.09,174.12 586.56,174.33 587.03,173.47 587.49,172.56 587.96,171.95 588.43,170.59 588.89,171.05 589.36,170.33 589.83,169.05 590.29,169.04 590.76,168.26 591.23,167.52 591.69,166.72 592.16,166.27 592.63,165.56 593.09,165.61 593.56,164.98 594.03,164.38 594.49,163.57 594.96,162.89 595.43,163.42 595.89,161.09 596.36,161.90 596.83,160.96 597.29,160.27 597.76,159.45 598.23,159.02 598.69,158.04 599.16,157.40 599.63,157.43 600.09,156.19 600.56,156.78 601.03,156.36 601.49,153.78 601.96,154.10 602.43,154.39 602.89,153.83 603.36,153.26 603.83,152.88 604.29,152.50 604.76,152.04 605.23,151.94 605.69,150.63 606.16,150.50 606.63,148.87 607.09,149.04 607.56,148.05 608.03,148.72 608.49,148.65 608.96,147.35 609.43,146.03 609.89,146.08 610.36,145.66 610.83,145.26 611.29,145.18 611.76,144.64 612.23,142.55 612.69,143.89 613.16,142.59 613.63,142.10 614.09,142.53 614.56,141.32 615.03,140.37 615.49,139.95 615.96,140.12 616.43,140.06 616.89,139.89 617.36,138.70 617.83,138.13 618.29,138.64 618.76,137.27 619.23,137.71 619.69,136.73 620.16,136.31 620.63,135.68 621.09,135.50 621.56,134.74 622.03,134.22 622.49,134.06 622.96,133.41 623.43,133.43 623.89,132.92 624.36,132.36 624.83,131.98 625.29,131.56 625.76,132.04 626.23,130.85 626.69,130.18 627.16,129.91 627.63,129.94 628.09,129.14 628.56,128.76 629.03,128.31 629.49,128.10 629.96,127.81 630.43,127.44 630.89,126.11 631.36,125.98 631.82,124.89 632.29,126.05 632.76,125.81 633.22,125.52 633.69,124.63 634.16,124.72 634.62,123.83 635.09,123.43 635.56,122.45 636.02,122.44 636.49,122.19 636.96,122.54 637.42,122.55 637.89,121.27 638.36,121.34 638.82,120.98 639.29,120.20 639.76,119.47 640.22,119.61 640.69,119.00 641.16,119.21 641.62,119.00 642.09,118.69 642.56,118.42 643.02,118.43 643.49,117.51 643.96,118.05 644.42,116.63 644.89,117.13 645.36,117.01 645.82,116.21 646.29,115.58 646.76,116.32 647.22,115.46 647.69,115.85 648.16,115.58 648.62,114.97 649.09,114.71 649.56,114.89 650.02,114.35 650.49,113.51 650.96,113.74 651.42,113.66 651.89,113.24 652.36,112.98 652.82,112.57 653.29,112.33 653.76,111.71 654.22,111.24 654.69,112.14 655.16,111.10 655.62,111.24 656.09,110.22 656.56,110.72 657.02,110.04 657.49,111.50 657.96,109.48 658.42,109.27 658.89,109.89 659.36,109.75 659.82,108.07 660.29,108.91 660.76,108.96 661.22,107.80 661.69,108.44 662.16,107.69 662.62,107.26 663.09,107.34 663.56,107.08 664.02,106.46 664.49,107.87 664.96,106.46 665.42,106.13 665.89,106.64 666.36,106.02 666.82,106.45 667.29,105.54 667.76,105.62 668.22,105.31 668.69,105.15 669.16,104.79 669.62,104.65 670.09,105.27 670.56,104.03 671.02,103.92 671.49,103.83 671.96,104.07 672.42,103.83 672.89,103.91 673.36,102.73 673.82,103.29 674.29,102.95 674.76,102.76 675.22,102.82 675.69,101.74 676.16,102.62 676.62,102.44 677.09,101.61 677.56,102.09 678.02,102.70 678.49,101.72 678.96,102.03" fill="none" stroke="#6600dd" stroke-width="3.3" stroke-linejoin="round" stroke-linecap="round" />
<polyline points="403.82,231.11 404.01,229.60 404.19,228.35 404.38,227.39 404.57,226.86 404.75,225.58 404.94,223.89 405.13,223.24 405.31,221.50 405.50,219.80 405.69,218.51 405.87,216.14 406.06,213.63 406.25,211.30 406.43,205.91 406.62,201.62 406.81,195.17 406.99,189.53 407.18,183.06 407.37,176.51 407.55,169.57 407.74,164.25 407.93,158.74 408.11,153.59 408.30,149.88 408.49,146.82 408.67,142.91 408.86,140.04 409.05,136.46 409.23,134.01 409.42,131.21 409.61,129.07 409.79,125.84 409.98,123.09 410.17,120.92 410.35,117.67 410.54,116.05 410.73,113.24 410.91,111.04 411.10,109.52 411.29,107.18 411.47,105.59 411.66,102.72 411.85,101.46 412.03,99.38 412.22,97.69 412.41,95.33 412.59,94.53 412.78,92.52 412.97,90.38 413.15,88.58 413.34,87.13 413.53,86.38 413.71,84.42 413.90,83.01 414.09,82.08 414.27,80.84 414.46,79.99 414.65,79.41 414.83,78.69 415.02,78.41 415.21,77.27 415.39,77.30 415.58,76.80 415.77,76.62 415.95,76.26 416.14,75.77 416.33,75.60 416.51,75.80 416.70,75.05 416.89,74.59 417.07,75.00 417.26,74.92 417.45,74.28 417.63,74.20 417.82,73.65 418.01,73.66 418.19,73.91 418.38,73.60 418.57,73.18 418.75,72.85 418.94,72.19 419.13,72.68 419.31,72.55 419.50,72.58 419.69,72.74 419.87,72.01 420.06,72.05 420.25,71.18 420.43,71.83 420.62,71.57 420.81,71.59 420.99,71.22 421.18,71.01 421.37,71.23 421.55,70.38 421.74,70.71 421.93,70.74 422.11,69.99 422.30,69.76 422.49,70.20 422.67,69.99 422.86,70.05 423.05,69.96 423.23,69.38 423.42,69.66 423.61,69.84 423.79,69.24 423.98,69.17 424.17,68.79 424.35,69.36 424.54,69.67 424.73,68.45 424.91,69.09 425.10,69.05 425.29,68.47 425.47,68.46 425.66,68.15 425.85,68.16 426.03,68.41 426.22,68.50 426.41,68.24 426.59,68.42 426.78,68.13 426.97,67.59 427.15,68.41 427.34,68.25 427.53,67.53 427.71,68.31 427.90,67.80 428.09,67.62 428.27,68.16 428.46,66.59 428.65,66.83 428.83,67.56 429.02,67.17 429.21,66.87 429.39,67.64 429.58,67.23 429.77,66.56 429.95,66.71 430.14,67.16 430.33,67.42 430.51,66.07 430.70,66.78 430.89,66.50 431.07,65.97 431.26,66.45 431.45,65.90 431.63,66.20 431.82,66.87 432.01,66.43 432.19,66.46 432.38,66.34 432.57,66.20 432.75,66.35 432.94,65.56 433.13,65.78 433.31,66.13 433.50,65.53 433.69,65.57 433.87,66.08 434.06,66.13 434.25,65.35 434.43,65.22 434.62,65.64 434.81,65.48 434.99,65.10 435.18,65.48 435.37,65.42 435.55,65.20 435.74,66.13 435.93,65.54 436.11,65.30 436.30,65.33 436.49,65.94 436.67,65.26 436.86,64.59 437.05,64.90 437.23,64.77 437.42,64.51 437.61,64.75 437.79,64.71 437.98,64.56 438.17,64.38 438.35,64.79 438.54,63.93 438.73,64.72 438.91,64.41 439.10,64.46 439.29,63.53 439.47,64.89 439.66,63.69 439.85,63.96 440.03,64.45 440.22,64.00 440.41,64.04 440.59,63.39 440.78,63.98 440.97,64.18 441.15,64.32 441.34,63.96 441.53,64.11 441.71,64.16 441.90,63.76 442.09,63.71 442.27,64.61 442.46,63.63 442.65,64.32 442.83,63.90 443.02,64.36 443.21,63.61 443.39,63.98 443.58,63.90 443.77,63.68 443.95,63.85 444.14,63.46 444.32,63.67 444.51,63.54 444.70,63.92 444.88,63.60 445.07,63.14 445.26,63.47 445.44,63.54 445.63,63.25 445.82,63.99 446.00,63.66 446.19,63.79 446.38,63.22 446.56,63.33 446.75,63.79 446.94,62.94 447.12,63.54 447.31,63.43 447.50,63.21 447.68,63.40 447.87,62.98 448.06,63.41 448.24,62.90 448.43,62.87 448.62,63.77 448.80,63.04 448.99,62.54 449.18,63.59 449.36,62.98 449.55,62.02 449.74,63.20 449.92,63.53 450.11,63.33 450.30,63.79 450.48,63.14 450.67,63.38 450.86,62.83 451.04,63.22 451.23,63.68 451.42,63.33 451.60,63.20 451.79,62.46 451.98,63.01 452.16,62.69 452.35,63.40 452.54,62.88 452.72,63.25 452.91,62.78 453.10,63.78 453.28,62.72 453.47,63.17 453.66,64.03 453.84,63.20 454.03,62.83 454.22,63.34 454.40,63.47 454.59,63.43 454.78,62.45 454.96,63.20 455.15,62.39 455.34,63.78 455.52,63.15 455.71,62.97 455.90,63.36 456.08,63.30 456.27,62.72 456.46,63.69 456.64,63.04 456.83,62.52 457.02,63.61 457.20,63.66 457.39,63.56 457.58,63.32 457.76,62.82 457.95,63.45 458.14,63.77 458.32,63.41 458.51,63.68 458.70,62.86 458.88,63.48 459.07,63.45 459.26,62.61 459.44,62.57 459.63,62.88 459.82,63.16 460.00,63.29 460.19,63.05 460.38,63.11 460.56,63.09 460.75,63.16 460.94,63.33 461.12,63.30 461.31,63.11 461.50,63.22 461.68,62.97 461.87,63.41 462.06,62.95 462.24,63.70 462.43,63.12 462.62,63.22 462.80,62.87 462.99,63.01 463.18,63.19 463.36,63.14 463.55,62.91 463.74,62.73 463.92,63.14 464.11,63.18 464.30,63.32 464.48,63.56 464.67,63.02 464.86,62.44 465.04,63.08 465.23,62.49 465.42,62.68 465.60,63.49 465.79,63.33 465.98,62.91 466.16,62.91 466.35,63.10 466.54,62.52 466.72,63.30 466.91,63.01 467.10,63.77 467.28,62.76 467.47,63.48 467.66,62.89 467.84,63.49 468.03,62.79 468.22,63.39 468.40,62.98 468.59,62.84 468.78,63.08 468.96,63.30 469.15,63.27 469.34,63.68 469.52,63.42 469.71,62.21 469.90,62.99 470.08,62.44 470.27,63.00 470.46,63.35 470.64,62.66 470.83,62.72 471.02,63.18 471.20,63.03 471.39,63.68 471.58,63.24 471.76,63.32 471.95,63.74 472.14,62.96 472.32,63.13 472.51,62.78 472.70,63.22 472.88,63.49 473.07,63.61 473.26,63.12 473.44,62.88 473.63,62.86 473.82,62.64 474.00,63.17 474.19,63.61 474.38,62.30 474.56,62.37 474.75,63.62 474.94,62.57 475.12,63.25 475.31,62.69 475.50,63.41 475.68,63.41 475.87,63.20 476.06,63.43 476.24,63.16 476.43,63.34 476.62,63.78 476.80,63.53 476.99,62.92 477.18,62.88 477.36,63.08 477.55,63.08 477.74,63.19 477.92,62.96 478.11,63.40 478.30,63.19 478.48,63.31 478.67,63.19 478.86,63.41 479.04,62.78 479.23,63.76 479.42,63.33 479.60,63.37 479.79,63.43 479.98,63.61 480.16,63.49 480.35,63.32 480.54,63.18 480.72,62.68 480.91,63.33 481.10,63.16 481.28,63.16 481.47,64.12 481.66,62.64 481.84,63.32 482.03,63.73 482.22,63.65 482.40,63.75 482.59,62.88 482.78,63.00 482.96,63.56 483.15,63.25 483.34,63.96 483.52,63.45 483.71,63.45 483.90,63.54 484.08,63.30 484.27,63.45 484.46,63.18 484.64,63.41 484.83,63.26 485.02,63.53 485.20,62.96 485.39,62.94 485.58,63.63 485.76,63.56 485.95,63.15 486.14,63.42 486.32,63.14 486.51,64.24 486.70,62.98 486.88,64.14 487.07,63.26 487.26,63.71 487.44,63.48 487.63,63.45 487.82,63.92 488.00,63.89 488.19,63.51 488.38,63.31 488.56,64.36 488.75,64.14 488.94,63.71 489.12,63.57 489.31,63.78 489.50,63.72 489.68,64.12 489.87,63.37 490.06,63.73 490.24,63.46 490.43,64.20 490.62,64.39 490.80,63.74 490.99,63.97 491.18,64.28 491.36,63.70 491.55,63.48 491.74,64.19 491.92,64.01 492.11,63.77 492.30,64.37 492.48,63.95 492.67,63.25 492.86,64.01 493.04,63.88 493.23,64.57 493.42,63.91 493.60,63.86 493.79,64.09 493.98,64.04 494.16,63.47 494.35,64.01 494.54,63.87 494.72,64.49 494.91,64.84 495.10,63.62 495.28,63.69 495.47,63.74 495.66,63.82 495.84,63.81 496.03,64.08 496.22,64.46 496.40,63.63 496.59,63.56 496.78,63.46 496.96,64.50 497.15,64.59 497.34,63.60 497.52,63.57 497.71,64.20 497.90,64.54 498.08,64.53 498.27,64.25 498.46,64.43 498.64,64.31 498.83,64.01 499.02,64.88 499.20,64.22 499.39,63.84 499.58,64.08 499.76,63.71 499.95,64.26 500.14,64.65 500.32,63.83 500.51,64.68 500.70,65.02 500.88,64.43 501.07,63.90 501.26,64.02 501.44,64.20 501.63,63.88 501.82,63.90 502.00,64.26 502.19,64.29 502.38,64.58 502.56,63.95 502.75,65.04 502.94,64.76 503.12,64.71 503.31,64.18 503.50,65.02 503.68,64.30 503.87,65.07 504.06,64.81 504.24,64.13 504.43,64.30 504.62,65.12 504.80,64.82 504.99,64.43 505.18,64.56 505.36,64.57 505.55,64.24 505.74,64.44 505.92,64.29 506.11,64.38 506.30,64.70 506.48,64.21 506.67,64.81 506.86,64.60 507.04,64.84 507.23,64.89 507.42,65.03 507.60,64.82 507.79,64.86 507.98,64.55 508.16,64.82 508.35,64.32 508.54,64.56 508.72,64.91 508.91,64.64 509.10,64.82 509.28,64.31 509.47,65.16 509.66,64.49 509.84,64.84 510.03,64.70 510.22,65.05 510.40,64.59 510.59,64.39 510.78,64.08 510.96,64.65 511.15,64.34 511.34,64.96 511.52,65.28 511.71,64.01 511.90,64.34 512.08,64.91 512.27,65.25 512.46,64.93 512.64,64.94 512.83,65.02 513.02,65.05 513.20,65.43 513.39,65.08 513.58,64.44 513.76,64.71 513.95,64.96 514.14,64.61 514.32,64.81 514.51,64.73 514.70,64.68 514.88,65.17 515.07,64.80 515.26,64.56 515.44,64.70 515.63,64.98 515.82,65.71 516.00,65.07 516.19,65.51 516.38,65.17 516.56,64.25 516.75,65.15 516.94,64.72 517.12,64.55 517.31,64.66 517.50,65.67 517.68,64.50 517.87,64.84 518.06,65.48 518.24,65.31 518.43,64.48 518.62,65.05 518.80,64.92 518.99,65.04 519.18,65.38 519.36,64.92 519.55,65.02 519.74,65.65 519.92,64.50 520.11,65.02 520.30,65.33 520.48,64.73 520.67,64.96 520.86,64.72 521.04,65.25 521.23,64.98 521.42,65.49 521.60,65.58 521.79,65.24 521.98,65.10 522.16,65.33 522.35,65.27 522.54,64.83 522.72,65.64 522.91,65.35 523.10,65.55 523.28,64.80 523.47,65.60 523.66,66.04 523.84,65.52 524.03,64.80 524.22,65.33 524.40,65.31 524.59,65.41 524.78,65.26 524.96,65.52 525.15,65.19 525.34,65.44 525.52,65.13 525.71,65.41 525.90,65.73 526.08,65.22 526.27,65.63 526.46,65.09 526.64,65.28 526.83,65.33 527.02,65.86 527.20,65.16 527.39,65.86 527.58,64.92 527.76,65.39 527.95,65.78 528.14,65.71 528.32,65.11 528.51,65.04 528.70,65.79 528.88,65.04 529.07,65.70 529.26,65.31 529.44,65.50 529.63,66.33 529.82,66.06 530.00,65.82 530.19,65.04 530.38,65.64 530.56,65.56 530.75,65.51 530.94,66.02 531.12,64.95 531.31,65.67 531.50,65.61 531.68,65.31 531.87,66.19 532.06,65.13 532.24,65.60 532.43,65.62 532.62,64.82 532.80,65.10 532.99,65.27 533.18,65.89 533.36,65.95 533.55,65.84 533.74,65.71 533.92,64.86 534.11,65.72 534.30,65.46 534.48,66.07 534.67,66.13 534.86,66.45 535.04,65.92 535.23,65.96 535.42,65.31 535.60,65.71 535.79,65.25 535.98,66.01 536.16,65.27 536.35,65.62 536.54,65.41 536.72,65.54 536.91,65.88 537.10,65.52 537.28,65.80 537.47,65.37 537.65,66.23 537.84,65.51 538.03,66.10 538.21,66.50 538.40,64.89 538.59,65.40 538.77,65.69 538.96,66.18 539.15,65.60 539.33,65.91 539.52,65.52 539.71,65.98 539.89,65.36 540.08,66.09 540.27,64.73 540.45,65.13 540.64,66.45 540.83,65.87 541.01,65.50 541.20,66.60 541.39,66.20 541.57,66.23 541.76,65.68 541.95,66.06 542.13,66.02 542.32,65.25 542.51,66.06 542.69,65.79 542.88,66.32 543.07,66.33 543.25,65.64 543.44,65.65 543.63,65.94 543.81,66.11 544.00,65.74 544.19,65.85 544.37,66.11 544.56,66.05 544.75,66.31 544.93,65.99 545.12,65.59 545.31,65.28 545.49,66.21 545.68,65.80 545.87,65.80 546.05,65.83 546.24,65.37 546.43,65.80 546.61,65.01 546.80,65.80 546.99,65.63 547.17,66.61 547.36,66.12 547.55,65.89 547.73,66.03 547.92,66.23 548.11,65.70 548.29,65.90 548.48,65.86 548.67,66.88 548.85,66.02 549.04,65.29 549.23,66.29 549.41,66.93 549.60,65.67 549.79,67.26 549.97,66.00 550.16,66.38 550.35,65.82 550.53,65.93 550.72,65.59 550.91,65.66 551.09,65.27 551.28,66.46 551.47,65.64 551.65,66.19 551.84,66.18 552.03,65.83 552.21,66.09 552.40,66.04 552.59,65.90 552.77,66.10 552.96,66.11 553.15,65.73 553.33,65.63 553.52,65.80 553.71,66.15 553.89,66.61 554.08,66.65 554.27,66.23 554.45,66.47 554.64,66.17 554.83,66.53 555.01,66.19 555.20,66.29 555.39,66.05 555.57,66.15 555.76,66.84 555.95,65.73 556.13,66.17 556.32,65.96 556.51,66.52 556.69,66.84 556.88,66.08 557.07,65.19 557.25,66.42 557.44,66.43 557.63,65.60 557.81,66.13 558.00,66.19 558.19,65.39 558.37,66.47 558.56,66.39 558.75,66.33 558.93,65.86 559.12,65.99 559.31,66.02 559.49,66.43 559.68,65.91 559.87,66.80 560.05,66.41 560.24,65.49 560.43,66.90 560.61,66.35 560.80,66.10 560.99,66.34 561.17,65.65 561.36,66.38 561.55,65.43 561.73,65.95 561.92,66.82 562.11,66.80 562.29,66.22 562.48,66.00 562.67,66.69 562.85,66.34 563.04,66.44 563.23,66.60 563.41,65.99 563.60,66.67 563.79,65.62 563.97,66.93 564.16,65.83 564.35,66.18 564.53,66.17 564.72,66.69 564.91,66.70 565.09,66.56 565.28,66.64 565.47,66.62 565.65,66.43 565.84,65.76 566.03,65.62 566.21,65.63 566.40,66.46 566.59,66.40 566.77,66.44 566.96,66.58 567.15,66.42 567.33,66.15 567.52,65.97 567.71,65.83 567.89,66.97 568.08,66.87 568.27,66.05 568.45,66.45 568.64,66.72 568.83,67.14 569.01,66.35 569.20,66.64 569.39,67.01 569.57,65.95 569.76,66.33 569.95,66.59 570.13,66.35 570.32,67.39 570.51,66.94 570.69,66.70 570.88,66.29 571.07,66.96 571.25,66.88 571.44,66.47 571.63,66.51 571.81,66.14 572.00,66.65 572.19,67.00 572.37,67.06 572.56,66.91 572.75,67.01 572.93,66.50 573.12,66.55 573.31,67.17 573.49,66.90 573.68,66.45 573.87,66.93 574.05,67.06 574.24,67.02 574.43,66.81 574.61,66.59 574.80,66.93 574.99,67.41 575.17,66.86 575.36,66.56 575.55,66.94 575.73,66.37 575.92,66.91 576.11,66.73 576.29,67.19 576.48,66.89 576.67,67.24 576.85,67.71 577.04,66.79 577.23,66.58 577.41,67.06 577.60,66.86 577.79,66.96 577.97,66.69 578.16,67.12 578.35,66.95 578.53,66.15 578.72,66.85 578.91,67.07 579.09,67.38 579.28,66.75 579.47,66.68 579.65,67.40 579.84,66.76 580.03,67.03 580.21,67.17 580.40,67.28 580.59,67.02 580.77,66.62 580.96,67.40 581.15,66.88 581.33,66.85 581.52,67.78 581.71,67.38 581.89,66.68 582.08,66.90 582.27,66.99 582.45,66.81 582.64,66.40 582.83,67.39 583.01,67.39 583.20,67.21 583.39,66.98 583.57,67.21 583.76,67.37 583.95,66.77 584.13,67.03 584.32,66.96 584.51,67.42 584.69,67.27 584.88,66.71 585.07,66.97 585.25,67.84 585.44,66.85 585.63,67.27 585.81,66.99 586.00,67.68 586.19,67.21 586.37,67.08 586.56,66.82 586.75,67.16 586.93,67.56 587.12,67.51 587.31,66.79 587.49,67.85 587.68,67.20 587.87,66.91 588.05,67.35 588.24,67.08 588.43,67.11 588.61,67.09 588.80,67.30 588.99,67.16 589.17,66.72 589.36,67.54 589.55,67.17 589.73,67.80 589.92,67.57 590.11,67.60 590.29,67.45 590.48,67.86 590.67,67.28 590.85,67.05 591.04,67.54 591.23,66.43 591.41,67.29 591.60,67.51 591.79,67.29 591.97,67.90 592.16,67.71 592.35,67.50 592.53,67.32 592.72,67.87 592.91,67.23 593.09,67.33 593.28,67.76 593.47,67.71 593.65,68.24 593.84,67.43 594.03,66.84 594.21,67.76 594.40,67.98 594.59,67.47 594.77,68.10 594.96,68.19 595.15,67.31 595.33,67.38 595.52,67.11 595.71,67.77 595.89,67.84 596.08,67.80 596.27,67.14 596.45,67.32 596.64,67.08 596.83,67.02 597.01,67.13 597.20,67.05 597.39,67.56 597.57,67.78 597.76,67.86 597.95,67.63 598.13,67.40 598.32,67.65 598.51,67.86 598.69,67.56 598.88,67.69 599.07,67.56 599.25,67.49 599.44,67.70 599.63,67.29 599.81,68.07 600.00,67.14 600.19,67.87 600.37,67.22 600.56,68.26 600.75,68.03 600.93,67.43 601.12,67.57 601.31,67.33 601.49,67.72 601.68,67.89 601.87,68.67 602.05,67.26 602.24,68.21 602.43,67.56 602.61,67.87 602.80,68.09 602.99,67.98 603.17,67.94 603.36,67.72 603.55,67.79 603.73,67.86 603.92,68.24 604.11,67.28 604.29,67.64 604.48,67.37 604.67,67.48 604.85,67.54 605.04,68.23 605.23,68.61 605.41,68.33 605.60,67.42 605.79,67.88 605.97,67.45 606.16,68.03 606.35,68.33 606.53,68.09 606.72,68.19 606.91,67.83 607.09,67.18 607.28,67.18 607.47,67.86 607.65,68.11 607.84,68.36 608.03,67.79 608.21,67.94 608.40,68.01 608.59,68.31 608.77,67.91 608.96,67.54 609.15,68.33 609.33,68.09 609.52,68.09 609.71,67.50 609.89,67.96 610.08,67.34 610.27,67.25 610.45,67.89 610.64,67.82 610.83,68.18 611.01,68.50 611.20,67.98 611.39,68.64 611.57,67.79 611.76,68.28 611.95,67.55 612.13,68.06 612.32,67.90 612.51,67.95 612.69,68.24 612.88,67.35 613.07,68.08 613.25,67.75 613.44,68.08 613.63,68.19 613.81,67.92 614.00,67.92 614.19,67.65 614.37,68.26 614.56,67.83 614.75,68.23 614.93,67.57 615.12,68.57 615.31,67.72 615.49,68.51 615.68,67.93 615.87,68.29 616.05,68.05 616.24,68.35 616.43,68.11 616.61,68.57 616.80,68.36 616.99,68.37 617.17,68.73 617.36,67.88 617.55,68.60 617.73,68.17 617.92,67.61 618.11,68.32 618.29,68.08 618.48,68.76 618.67,67.99 618.85,68.18 619.04,68.25 619.23,67.49 619.41,68.36 619.60,67.83 619.79,68.69 619.97,68.79 620.16,68.19 620.35,67.63 620.53,68.27 620.72,68.27 620.91,68.47 621.09,68.11 621.28,67.79 621.47,68.17 621.65,67.90 621.84,68.87 622.03,67.98 622.21,68.01 622.40,68.23 622.59,67.80 622.77,68.09 622.96,68.21 623.15,68.09 623.33,68.18 623.52,68.72 623.71,68.43 623.89,67.80 624.08,68.13 624.27,68.55 624.45,68.06 624.64,68.32 624.83,68.29 625.01,68.49 625.20,68.24 625.39,68.26 625.57,68.01 625.76,68.45 625.95,67.99 626.13,68.95 626.32,68.32 626.51,68.26 626.69,68.62 626.88,68.31 627.07,68.38 627.25,68.33 627.44,68.10 627.63,68.03 627.81,68.11 628.00,68.77 628.19,68.15 628.37,68.23 628.56,68.22 628.75,68.63 628.93,69.10 629.12,68.06 629.31,68.59 629.49,68.44 629.68,68.30 629.87,68.59 630.05,67.96 630.24,68.72 630.43,68.50 630.61,68.07 630.80,69.00 630.98,68.74 631.17,68.85 631.36,67.92 631.54,68.35 631.73,68.26 631.92,68.68 632.10,68.94 632.29,67.78 632.48,68.47 632.66,68.43 632.85,68.83 633.04,68.47 633.22,68.03 633.41,68.42 633.60,68.12 633.78,68.22 633.97,68.52 634.16,68.33 634.34,68.61 634.53,67.97 634.72,69.35 634.90,68.97 635.09,68.78 635.28,68.07 635.46,67.76 635.65,68.23 635.84,68.46 636.02,69.35 636.21,69.02 636.40,68.37 636.58,68.99 636.77,69.00 636.96,68.57 637.14,69.01 637.33,68.70 637.52,68.35 637.70,68.17 637.89,68.55 638.08,68.95 638.26,68.11 638.45,68.03 638.64,68.81 638.82,67.64 639.01,69.27 639.20,68.46 639.38,68.89 639.57,69.30 639.76,68.12 639.94,68.26 640.13,69.45 640.32,68.55 640.50,68.61 640.69,68.74 640.88,69.04 641.06,69.14 641.25,68.71 641.44,68.56 641.62,68.67 641.81,68.79 642.00,69.16 642.18,68.74 642.37,69.35 642.56,68.39 642.74,68.90 642.93,69.34 643.12,69.18 643.30,68.84 643.49,68.41 643.68,68.47 643.86,68.68 644.05,68.85 644.24,68.65 644.42,68.23 644.61,68.49 644.80,68.94 644.98,69.06 645.17,68.26 645.36,68.64 645.54,68.17 645.73,68.58 645.92,70.05 646.10,68.81 646.29,68.67 646.48,68.59 646.66,68.37 646.85,68.14 647.04,68.79 647.22,68.72 647.41,69.35 647.60,68.24 647.78,68.98 647.97,69.31 648.16,68.14 648.34,69.08 648.53,68.27 648.72,69.04 648.90,69.38 649.09,68.86 649.28,68.97 649.46,68.62 649.65,68.98 649.84,69.28 650.02,68.82 650.21,68.84 650.40,69.03 650.58,69.19 650.77,68.31 650.96,68.93 651.14,68.66 651.33,69.09 651.52,69.29 651.70,69.03 651.89,69.39 652.08,68.58 652.26,68.79 652.45,68.59 652.64,68.97 652.82,68.98 653.01,68.88 653.20,68.52 653.38,68.94 653.57,68.81 653.76,69.19 653.94,68.88 654.13,69.40 654.32,69.07 654.50,68.32 654.69,68.93 654.88,68.49 655.06,69.35 655.25,69.52 655.44,69.00 655.62,69.18 655.81,68.50 656.00,68.22 656.18,68.83 656.37,68.94 656.56,68.50 656.74,69.08 656.93,69.16 657.12,69.28 657.30,69.61 657.49,69.35 657.68,68.94 657.86,69.11 658.05,69.29 658.24,68.71 658.42,69.56 658.61,69.41 658.80,69.01 658.98,68.87 659.17,70.47 659.36,69.41 659.54,69.45 659.73,69.76 659.92,69.47 660.10,69.20 660.29,69.38 660.48,68.81 660.66,69.40 660.85,68.59 661.04,69.30 661.22,69.35 661.41,68.60 661.60,69.85 661.78,68.76 661.97,69.55 662.16,68.99 662.34,69.29 662.53,68.95 662.72,70.08 662.90,69.57 663.09,69.85 663.28,69.49 663.46,69.46 663.65,69.27 663.84,69.14 664.02,69.44 664.21,69.29 664.40,69.18 664.58,68.75 664.77,69.13 664.96,69.47 665.14,69.09 665.33,69.38 665.52,69.21 665.70,68.90 665.89,68.95 666.08,69.01 666.26,69.18 666.45,69.19 666.64,69.69 666.82,68.91 667.01,68.57 667.20,69.55 667.38,69.15 667.57,69.27 667.76,70.23 667.94,69.85 668.13,69.54 668.32,69.67 668.50,69.38 668.69,69.69 668.88,69.13 669.06,69.10 669.25,69.19 669.44,69.93 669.62,69.92 669.81,69.15 670.00,69.79 670.18,69.32 670.37,69.77 670.56,69.28 670.74,69.74 670.93,69.36 671.12,69.30 671.30,69.40 671.49,69.47 671.68,69.21 671.86,68.93 672.05,70.03 672.24,69.29 672.42,68.78 672.61,68.63 672.80,68.44 672.98,69.23 673.17,69.94 673.36,68.87 673.54,69.35 673.73,68.81 673.92,69.87 674.10,69.61 674.29,69.60 674.48,69.97 674.66,70.08 674.85,69.87 675.04,69.29 675.22,69.03 675.41,69.13 675.60,68.88 675.78,70.17 675.97,69.46 676.16,69.57 676.34,69.60 676.53,70.26 676.72,69.34 676.90,69.97 677.09,69.66 677.28,69.50 677.46,68.87 677.65,69.90 677.84,69.30 678.02,69.41 678.21,69.66 678.40,69.62 678.58,69.99 678.77,69.35 678.96,69.66" fill="none" stroke="#0aa0f5" stroke-width="3.3" stroke-linejoin="round" stroke-linecap="round" />
<polyline points="402.23,231.31 402.42,209.04 402.61,187.24 402.79,164.14 402.98,139.34 403.17,108.31 403.35,81.51 403.54,67.06 403.73,55.84 403.91,45.10 404.10,36.75 404.29,30.64 404.47,27.01 404.66,25.42 404.85,24.56 405.03,22.92 405.22,23.29 405.41,22.27 405.59,21.19 405.78,21.54 405.97,20.87 406.15,21.01 406.34,19.94 406.53,20.99 406.71,20.65 406.90,20.34 407.09,21.95 407.27,22.26 407.46,22.73 407.65,23.73 407.83,23.76 408.02,25.31 408.21,25.72 408.39,26.46 408.58,27.87 408.77,28.21 408.95,28.81 409.14,29.57 409.33,30.74 409.51,31.99 409.70,32.21 409.89,32.82 410.07,34.25 410.26,34.60 410.45,35.16 410.63,36.42 410.82,35.63 411.01,36.42 411.19,35.90 411.38,36.59 411.57,37.07 411.75,37.42 411.94,36.71 412.13,37.62 412.31,37.75 412.50,37.56 412.69,38.63 412.87,37.88 413.06,37.70 413.25,38.30 413.43,37.60 413.62,38.95 413.81,38.87 413.99,38.49 414.18,38.96 414.37,39.05 414.55,39.66 414.74,38.84 414.93,38.70 415.11,38.54 415.30,39.26 415.49,38.89 415.67,39.49 415.86,39.79 416.05,39.57 416.23,39.47 416.42,40.32 416.61,39.90 416.79,40.13 416.98,40.47 417.17,39.73 417.35,39.94 417.54,41.24 417.73,40.35 417.91,40.09 418.10,40.44 418.29,40.39 418.47,40.21 418.66,40.56 418.85,40.76 419.03,40.82 419.22,41.07 419.41,40.30 419.59,40.44 419.78,41.31 419.97,40.91 420.15,41.55 420.34,41.27 420.53,40.70 420.71,41.44 420.90,40.92 421.09,41.42 421.27,41.81 421.46,42.16 421.65,41.42 421.83,41.73 422.02,41.62 422.21,41.83 422.39,40.66 422.58,41.47 422.77,41.75 422.95,41.85 423.14,41.44 423.33,42.04 423.51,42.17 423.70,41.83 423.89,41.75 424.07,41.73 424.26,41.94 424.45,42.35 424.63,42.49 424.82,41.81 425.01,41.67 425.19,41.74 425.38,42.41 425.57,42.16 425.75,42.21 425.94,42.30 426.13,42.28 426.31,42.13 426.50,41.82 426.69,41.99 426.87,42.28 427.06,42.40 427.25,42.14 427.43,42.15 427.62,42.81 427.81,42.17 427.99,42.43 428.18,42.26 428.37,42.08 428.55,41.86 428.74,42.23 428.93,42.15 429.11,42.76 429.30,42.06 429.49,42.34 429.67,42.74 429.86,42.48 430.05,42.72 430.23,42.85 430.42,41.97 430.61,42.44 430.79,42.25 430.98,43.10 431.17,42.58 431.35,42.82 431.54,43.26 431.73,42.54 431.91,42.71 432.10,42.84 432.29,42.61 432.47,43.17 432.66,43.03 432.85,43.11 433.03,42.78 433.22,42.65 433.41,42.66 433.59,42.67 433.78,42.23 433.97,42.96 434.15,43.14 434.34,42.86 434.53,42.70 434.71,42.90 434.90,42.98 435.09,43.03 435.27,43.57 435.46,42.64 435.65,43.09 435.83,43.22 436.02,43.02 436.21,42.92 436.39,42.66 436.58,42.83 436.77,43.30 436.95,43.59 437.14,42.85 437.33,43.27 437.51,43.31 437.70,43.50 437.89,43.24 438.07,43.33 438.26,43.51 438.45,42.80 438.63,43.25 438.82,42.63 439.01,42.57 439.19,43.00 439.38,42.77 439.57,43.52 439.75,43.71 439.94,43.28 440.13,43.36 440.31,43.35 440.50,43.36 440.69,43.53 440.87,43.63 441.06,43.37 441.25,43.29 441.43,43.41 441.62,43.90 441.81,43.50 441.99,44.19 442.18,43.63 442.37,44.23 442.55,43.35 442.74,43.56 442.93,44.01 443.11,44.04 443.30,43.85 443.49,44.66 443.67,44.00 443.86,44.11 444.04,43.84 444.23,44.66 444.42,44.41 444.60,44.29 444.79,43.60 444.98,44.34 445.16,44.09 445.35,44.43 445.54,44.65 445.72,44.10 445.91,44.47 446.10,44.74 446.28,44.52 446.47,44.39 446.66,44.16 446.84,44.34 447.03,44.16 447.22,44.99 447.40,44.71 447.59,44.28 447.78,44.74 447.96,44.32 448.15,43.66 448.34,45.27 448.52,45.29 448.71,44.39 448.90,44.69 449.08,45.04 449.27,44.87 449.46,44.73 449.64,44.88 449.83,45.01 450.02,44.92 450.20,45.22 450.39,45.09 450.58,44.93 450.76,45.23 450.95,44.67 451.14,45.78 451.32,44.69 451.51,45.29 451.70,45.46 451.88,45.51 452.07,45.48 452.26,45.86 452.44,45.04 452.63,45.44 452.82,45.53 453.00,45.33 453.19,45.32 453.38,46.00 453.56,45.32 453.75,45.43 453.94,45.52 454.12,45.56 454.31,45.72 454.50,45.61 454.68,45.84 454.87,45.77 455.06,45.92 455.24,46.25 455.43,45.50 455.62,46.39 455.80,45.68 455.99,46.09 456.18,45.93 456.36,45.79 456.55,45.23 456.74,46.50 456.92,45.70 457.11,45.71 457.30,46.37 457.48,46.05 457.67,46.71 457.86,46.65 458.04,46.33 458.23,46.19 458.42,46.39 458.60,45.68 458.79,46.22 458.98,46.24 459.16,46.04 459.35,46.31 459.54,45.73 459.72,46.58 459.91,46.73 460.10,45.85 460.28,46.37 460.47,46.88 460.66,46.50 460.84,46.02 461.03,46.05 461.22,46.71 461.40,47.07 461.59,46.07 461.78,46.48 461.96,46.22 462.15,46.41 462.34,46.63 462.52,46.53 462.71,46.32 462.90,47.31 463.08,46.54 463.27,46.55 463.46,47.02 463.64,46.65 463.83,46.60 464.02,47.01 464.20,46.34 464.39,46.98 464.58,47.09 464.76,46.98 464.95,46.71 465.14,46.78 465.32,46.21 465.51,46.77 465.70,46.94 465.88,47.15 466.07,46.92 466.26,46.75 466.44,46.61 466.63,46.90 466.82,46.98 467.00,47.37 467.19,46.97 467.38,46.80 467.56,46.96 467.75,46.84 467.94,46.94 468.12,46.27 468.31,46.50 468.50,46.65 468.68,47.24 468.87,47.07 469.06,47.16 469.24,47.53 469.43,46.78 469.62,47.55 469.80,47.30 469.99,46.94 470.18,47.71 470.36,46.72 470.55,46.83 470.74,47.17 470.92,47.39 471.11,47.20 471.30,46.54 471.48,47.19 471.67,47.28 471.86,48.20 472.04,47.81 472.23,47.39 472.42,46.98 472.60,47.49 472.79,46.98 472.98,47.46 473.16,47.53 473.35,47.28 473.54,47.51 473.72,47.33 473.91,47.25 474.10,47.99 474.28,47.68 474.47,47.38 474.66,47.23 474.84,47.57 475.03,47.72 475.22,47.82 475.40,48.05 475.59,47.71 475.78,47.18 475.96,48.27 476.15,47.98 476.34,47.88 476.52,48.06 476.71,47.10 476.90,47.49 477.08,47.46 477.27,48.05 477.46,47.24 477.64,47.55 477.83,48.19 478.02,47.90 478.20,47.56 478.39,48.35 478.58,47.25 478.76,47.87 478.95,47.65 479.14,47.91 479.32,47.65 479.51,47.46 479.70,47.83 479.88,47.31 480.07,47.96 480.26,47.67 480.44,48.11 480.63,47.65 480.82,47.58 481.00,47.95 481.19,48.25 481.38,47.12 481.56,47.88 481.75,48.06 481.94,47.36 482.12,47.56 482.31,48.09 482.50,47.59 482.68,47.67 482.87,48.49 483.06,47.57 483.24,47.61 483.43,47.12 483.62,47.54 483.80,47.50 483.99,48.53 484.18,48.36 484.36,47.51 484.55,48.64 484.74,48.23 484.92,47.91 485.11,48.26 485.30,48.12 485.48,47.73 485.67,47.39 485.86,47.69 486.04,48.01 486.23,47.90 486.42,47.77 486.60,48.37 486.79,47.67 486.98,48.36 487.16,47.89 487.35,48.10 487.54,47.68 487.72,48.07 487.91,47.81 488.10,47.49 488.28,48.09 488.47,48.08 488.66,48.40 488.84,48.21 489.03,47.77 489.22,47.92 489.40,47.28 489.59,47.76 489.78,48.60 489.96,48.68 490.15,48.43 490.34,48.28 490.52,48.38 490.71,48.35 490.90,47.59 491.08,47.90 491.27,48.62 491.46,48.62 491.64,48.30 491.83,48.12 492.02,48.10 492.20,48.05 492.39,47.93 492.58,47.59 492.76,48.32 492.95,48.12 493.14,48.21 493.32,48.88 493.51,48.50 493.70,48.06 493.88,48.51 494.07,47.80 494.26,48.69 494.44,48.42 494.63,48.27 494.82,48.55 495.00,48.86 495.19,48.21 495.38,48.03 495.56,49.11 495.75,48.40 495.94,48.92 496.12,48.17 496.31,48.55 496.50,48.20 496.68,48.65 496.87,48.35 497.06,48.22 497.24,49.00 497.43,48.59 497.62,47.78 497.80,48.41 497.99,48.18 498.18,48.09 498.36,48.31 498.55,48.36 498.74,48.55 498.92,48.27 499.11,47.91 499.30,48.38 499.48,48.88 499.67,48.11 499.86,48.81 500.04,48.77 500.23,48.46 500.42,48.74 500.60,48.38 500.79,48.51 500.98,48.31 501.16,48.83 501.35,49.16 501.54,48.46 501.72,49.12 501.91,47.98 502.10,48.42 502.28,48.39 502.47,49.35 502.66,48.56 502.84,49.05 503.03,48.08 503.22,48.84 503.40,49.01 503.59,48.81 503.78,47.89 503.96,48.91 504.15,49.14 504.34,49.33 504.52,49.03 504.71,48.31 504.90,48.84 505.08,49.24 505.27,48.65 505.46,49.15 505.64,48.80 505.83,49.01 506.02,49.26 506.20,48.76 506.39,50.02 506.58,49.09 506.76,49.17 506.95,48.80 507.14,49.09 507.32,48.99 507.51,48.59 507.70,48.58 507.88,49.23 508.07,49.11 508.26,48.24 508.44,48.42 508.63,49.08 508.82,49.17 509.00,49.43 509.19,48.79 509.38,49.45 509.56,49.15 509.75,49.09 509.94,49.24 510.12,49.65 510.31,49.51 510.50,49.64 510.68,49.10 510.87,49.26 511.06,48.97 511.24,49.20 511.43,49.27 511.62,49.26 511.80,49.68 511.99,49.60 512.18,49.73 512.36,49.52 512.55,49.87 512.74,49.55 512.92,49.86 513.11,49.72 513.30,49.81 513.48,49.55 513.67,49.15 513.86,49.10 514.04,50.30 514.23,49.77 514.42,49.81 514.60,49.61 514.79,49.52 514.98,50.70 515.16,49.32 515.35,49.71 515.54,49.73 515.72,49.36 515.91,49.33 516.10,49.55 516.28,49.69 516.47,49.65 516.66,50.12 516.84,49.44 517.03,50.01 517.22,50.40 517.40,50.22 517.59,49.52 517.78,48.90 517.96,50.25 518.15,50.14 518.34,49.78 518.52,50.45 518.71,49.88 518.90,50.07 519.08,49.69 519.27,50.18 519.46,49.93 519.64,49.92 519.83,50.49 520.02,50.21 520.20,49.62 520.39,50.41 520.58,50.47 520.76,49.90 520.95,50.07 521.14,50.25 521.32,50.16 521.51,50.30 521.70,50.50 521.88,50.12 522.07,51.04 522.26,50.08 522.44,50.15 522.63,51.05 522.82,51.21 523.00,50.40 523.19,50.34 523.38,50.05 523.56,50.84 523.75,50.52 523.94,50.18 524.12,50.63 524.31,50.98 524.50,50.76 524.68,51.31 524.87,50.96 525.06,50.72 525.24,50.57 525.43,50.79 525.62,51.04 525.80,50.93 525.99,51.02 526.18,50.74 526.36,50.95 526.55,51.12 526.74,50.66 526.92,50.28 527.11,51.35 527.30,50.97 527.48,50.62 527.67,50.88 527.86,50.72 528.04,50.23 528.23,50.78 528.42,50.36 528.60,50.94 528.79,50.85 528.98,51.30 529.16,50.88 529.35,51.07 529.54,50.85 529.72,50.83 529.91,50.49 530.10,51.34 530.28,51.07 530.47,50.82 530.66,51.12 530.84,50.91 531.03,50.82 531.22,51.18 531.40,51.53 531.59,51.02 531.78,50.64 531.96,50.93 532.15,51.79 532.34,50.90 532.52,51.61 532.71,51.13 532.90,51.48 533.08,51.20 533.27,50.70 533.46,51.13 533.64,52.02 533.83,51.25 534.02,51.51 534.20,51.21 534.39,51.30 534.58,51.47 534.76,51.54 534.95,52.17 535.14,51.40 535.32,51.35 535.51,51.20 535.70,50.99 535.88,50.90 536.07,51.71 536.26,50.84 536.44,52.00 536.63,51.82 536.82,51.43 537.00,51.15 537.19,51.58 537.37,51.59 537.56,51.99 537.75,51.35 537.93,51.49 538.12,51.62 538.31,51.56 538.49,51.45 538.68,51.08 538.87,51.12 539.05,51.48 539.24,51.65 539.43,52.09 539.61,52.57 539.80,52.37 539.99,51.93 540.17,52.46 540.36,51.78 540.55,51.65 540.73,52.66 540.92,51.49 541.11,51.73 541.29,51.80 541.48,52.42 541.67,51.71 541.85,52.21 542.04,51.81 542.23,51.54 542.41,52.06 542.60,52.05 542.79,51.61 542.97,51.72 543.16,51.76 543.35,52.39 543.53,52.23 543.72,52.17 543.91,52.27 544.09,51.95 544.28,52.30 544.47,51.94 544.65,51.70 544.84,51.93 545.03,52.27 545.21,52.24 545.40,52.59 545.59,51.65 545.77,52.18 545.96,52.41 546.15,51.95 546.33,52.39 546.52,52.17 546.71,51.94 546.89,52.74 547.08,51.88 547.27,52.73 547.45,52.25 547.64,52.08 547.83,52.12 548.01,52.19 548.20,52.16 548.39,52.57 548.57,51.84 548.76,52.94 548.95,52.82 549.13,53.03 549.32,52.21 549.51,51.76 549.69,52.37 549.88,52.55 550.07,52.73 550.25,52.46 550.44,52.63 550.63,52.72 550.81,52.15 551.00,53.34 551.19,52.33 551.37,52.83 551.56,53.13 551.75,52.50 551.93,52.79 552.12,53.38 552.31,52.73 552.49,53.21 552.68,52.96 552.87,52.96 553.05,53.15 553.24,52.83 553.43,52.86 553.61,53.28 553.80,53.06 553.99,53.16 554.17,52.58 554.36,53.02 554.55,53.46 554.73,53.37 554.92,53.19 555.11,52.91 555.29,52.90 555.48,53.28 555.67,53.64 555.85,53.18 556.04,53.64 556.23,53.10 556.41,53.64 556.60,52.89 556.79,53.32 556.97,52.91 557.16,53.53 557.35,53.52 557.53,53.00 557.72,53.10 557.91,53.22 558.09,52.87 558.28,53.09 558.47,53.13 558.65,53.73 558.84,53.96 559.03,53.34 559.21,53.41 559.40,53.61 559.59,53.37 559.77,53.48 559.96,53.89 560.15,53.70 560.33,53.61 560.52,53.46 560.71,54.19 560.89,53.48 561.08,53.76 561.27,53.38 561.45,53.56 561.64,53.82 561.83,53.67 562.01,54.02 562.20,53.88 562.39,53.39 562.57,53.09 562.76,54.27 562.95,53.74 563.13,54.49 563.32,54.00 563.51,53.75 563.69,54.24 563.88,53.97 564.07,54.09 564.25,53.79 564.44,54.36 564.63,54.55 564.81,54.01 565.00,54.84 565.19,54.04 565.37,54.35 565.56,53.72 565.75,53.65 565.93,55.08 566.12,54.87 566.31,54.80 566.49,53.83 566.68,54.53 566.87,54.62 567.05,54.53 567.24,54.64 567.43,54.24 567.61,54.53 567.80,54.21 567.99,54.52 568.17,54.80 568.36,54.42 568.55,54.63 568.73,54.60 568.92,54.79 569.11,55.13 569.29,54.92 569.48,55.00 569.67,54.39 569.85,54.80 570.04,55.24 570.23,54.68 570.41,54.86 570.60,54.70 570.79,55.53 570.97,54.94 571.16,54.87 571.35,55.37 571.53,55.57 571.72,55.38 571.91,55.58 572.09,55.34 572.28,55.26 572.47,55.18 572.65,55.18 572.84,55.18 573.03,55.55 573.21,55.41 573.40,55.51 573.59,55.72 573.77,55.52 573.96,55.09 574.15,55.32 574.33,55.24 574.52,54.99 574.71,55.72 574.89,55.30 575.08,55.30 575.27,55.40 575.45,56.11 575.64,55.73 575.83,56.22 576.01,55.87 576.20,55.78 576.39,56.16 576.57,56.20 576.76,56.06 576.95,55.69 577.13,55.92 577.32,55.70 577.51,56.05 577.69,56.20 577.88,56.72 578.07,56.72 578.25,56.49 578.44,56.62 578.63,56.40 578.81,57.32 579.00,56.91 579.19,57.33 579.37,56.57 579.56,56.61 579.75,56.86 579.93,56.59 580.12,56.66 580.31,56.24 580.49,56.94 580.68,56.69 580.87,56.95 581.05,56.62 581.24,56.11 581.43,56.93 581.61,57.20 581.80,56.37 581.99,56.51 582.17,56.77 582.36,56.82 582.55,56.34 582.73,57.57 582.92,57.34 583.11,56.80 583.29,56.41 583.48,57.20 583.67,57.79 583.85,57.42 584.04,57.56 584.23,56.85 584.41,57.29 584.60,56.71 584.79,57.96 584.97,57.49 585.16,56.58 585.35,56.70 585.53,57.54 585.72,57.45 585.91,57.32 586.09,57.67 586.28,58.19 586.47,57.64 586.65,56.91 586.84,57.51 587.03,57.14 587.21,57.34 587.40,57.76 587.59,57.62 587.77,57.33 587.96,57.72 588.15,57.47 588.33,57.97 588.52,57.73 588.71,57.98 588.89,57.77 589.08,58.16 589.27,57.87 589.45,57.94 589.64,57.78 589.83,58.05 590.01,57.41 590.20,58.99 590.39,57.85 590.57,58.15 590.76,57.97 590.95,58.00 591.13,58.33 591.32,58.04 591.51,58.10 591.69,57.79 591.88,57.98 592.07,57.92 592.25,58.99 592.44,57.92 592.63,58.04 592.81,58.51 593.00,58.97 593.19,57.90 593.37,57.98 593.56,58.59 593.75,58.70 593.93,58.11 594.12,58.00 594.31,58.32 594.49,58.95 594.68,58.70 594.87,59.01 595.05,58.73 595.24,58.79 595.43,59.04 595.61,58.81 595.80,58.97 595.99,58.59 596.17,58.73 596.36,59.13 596.55,58.91 596.73,58.76 596.92,59.28 597.11,59.27 597.29,59.11 597.48,58.87 597.67,59.48 597.85,60.07 598.04,58.94 598.23,58.72 598.41,59.01 598.60,58.99 598.79,58.90 598.97,58.96 599.16,59.70 599.35,59.73 599.53,59.98 599.72,59.75 599.91,59.35 600.09,59.93 600.28,59.36 600.47,59.49 600.65,59.23 600.84,60.10 601.03,60.05 601.21,59.57 601.40,59.65 601.59,59.80 601.77,59.89 601.96,60.15 602.15,59.91 602.33,60.05 602.52,59.42 602.71,59.87 602.89,59.38 603.08,60.66 603.27,60.56 603.45,60.35 603.64,60.52 603.83,60.87 604.01,60.53 604.20,59.67 604.39,60.19 604.57,59.47 604.76,60.04 604.95,59.93 605.13,60.39 605.32,60.56 605.51,60.13 605.69,60.39 605.88,60.62 606.07,60.50 606.25,60.53 606.44,59.78 606.63,60.50 606.81,60.97 607.00,60.81 607.19,60.24 607.37,60.69 607.56,60.91 607.75,60.51 607.93,61.12 608.12,60.64 608.31,60.84 608.49,60.95 608.68,61.80 608.87,60.94 609.05,60.89 609.24,61.37 609.43,60.99 609.61,61.25 609.80,60.43 609.99,61.36 610.17,61.28 610.36,60.87 610.55,61.83 610.73,61.30 610.92,61.35 611.11,60.99 611.29,60.92 611.48,61.32 611.67,61.02 611.85,61.76 612.04,61.92 612.23,61.43 612.41,61.12 612.60,61.58 612.79,61.38 612.97,61.84 613.16,61.88 613.35,61.70 613.53,61.90 613.72,62.27 613.91,62.54 614.09,61.79 614.28,62.26 614.47,61.96 614.65,61.70 614.84,62.55 615.03,62.27 615.21,62.22 615.40,62.32 615.59,62.17 615.77,61.89 615.96,62.91 616.15,62.64 616.33,62.45 616.52,62.72 616.71,62.87 616.89,62.38 617.08,62.68 617.27,62.39 617.45,62.76 617.64,62.48 617.83,63.45 618.01,62.50 618.20,62.84 618.39,62.85 618.57,62.60 618.76,63.07 618.95,62.74 619.13,62.66 619.32,62.83 619.51,62.60 619.69,63.31 619.88,63.14 620.07,63.29 620.25,62.50 620.44,63.10 620.63,62.76 620.81,63.09 621.00,63.53 621.19,63.20 621.37,63.08 621.56,63.56 621.75,63.54 621.93,63.86 622.12,62.59 622.31,63.38 622.49,63.15 622.68,63.02 622.87,63.39 623.05,62.97 623.24,62.62 623.43,63.11 623.61,63.36 623.80,64.13 623.99,63.25 624.17,63.12 624.36,62.86 624.55,63.45 624.73,63.52 624.92,63.68 625.11,63.14 625.29,63.41 625.48,62.90 625.67,63.78 625.85,63.20 626.04,62.81 626.23,64.20 626.41,64.00 626.60,63.97 626.79,63.99 626.97,63.53 627.16,64.29 627.35,63.57 627.53,64.63 627.72,64.06 627.91,63.36 628.09,64.34 628.28,64.75 628.47,63.99 628.65,64.48 628.84,64.05 629.03,63.93 629.21,63.27 629.40,64.63 629.59,64.06 629.77,64.37 629.96,63.87 630.15,63.97 630.33,64.70 630.52,64.20 630.70,64.22 630.89,63.94 631.08,64.48 631.26,64.70 631.45,64.29 631.64,64.40 631.82,64.07 632.01,65.01 632.20,64.32 632.38,64.51 632.57,65.17 632.76,64.53 632.94,64.09 633.13,64.33 633.32,64.55 633.50,65.32 633.69,64.80 633.88,64.66 634.06,65.06 634.25,65.25 634.44,64.54 634.62,65.34 634.81,65.16 635.00,65.04 635.18,64.07 635.37,64.99 635.56,65.44 635.74,64.87 635.93,65.81 636.12,65.04 636.30,64.68 636.49,65.27 636.68,65.19 636.86,65.40 637.05,65.05 637.24,65.61 637.42,64.98 637.61,65.25 637.80,64.78 637.98,64.96 638.17,65.34 638.36,65.06 638.54,65.16 638.73,65.27 638.92,65.45 639.10,65.66 639.29,65.68 639.48,65.80 639.66,65.53 639.85,65.29 640.04,64.95 640.22,65.41 640.41,65.27 640.60,64.94 640.78,66.18 640.97,64.98 641.16,65.78 641.34,65.87 641.53,65.62 641.72,66.64 641.90,65.76 642.09,65.50 642.28,66.42 642.46,65.54 642.65,65.34 642.84,65.52 643.02,65.67 643.21,65.94 643.40,66.07 643.58,65.43 643.77,66.12 643.96,66.81 644.14,65.79 644.33,66.03 644.52,66.34 644.70,66.55 644.89,65.91 645.08,65.83 645.26,65.84 645.45,66.61 645.64,66.57 645.82,65.51 646.01,65.54 646.20,65.88 646.38,65.82 646.57,66.52 646.76,66.48 646.94,67.12 647.13,66.73 647.32,66.52 647.50,66.92 647.69,66.21 647.88,66.05 648.06,66.59 648.25,66.93 648.44,66.05 648.62,66.97 648.81,66.98 649.00,66.52 649.18,66.79 649.37,66.65 649.56,66.80 649.74,67.09 649.93,66.54 650.12,67.22 650.30,67.18 650.49,67.22 650.68,66.22 650.86,66.28 651.05,67.22 651.24,66.79 651.42,66.77 651.61,66.77 651.80,66.59 651.98,66.99 652.17,66.86 652.36,66.90 652.54,67.33 652.73,66.76 652.92,67.61 653.10,66.44 653.29,68.15 653.48,66.79 653.66,67.51 653.85,67.65 654.04,67.34 654.22,67.63 654.41,67.35 654.60,66.79 654.78,67.56 654.97,67.86 655.16,67.28 655.34,66.90 655.53,67.31 655.72,67.66 655.90,67.67 656.09,67.98 656.28,67.81 656.46,67.81 656.65,66.94 656.84,68.46 657.02,67.71 657.21,68.02 657.40,67.61 657.58,67.70 657.77,67.79 657.96,68.35 658.14,68.35 658.33,68.05 658.52,68.56 658.70,67.73 658.89,68.07 659.08,67.74 659.26,68.39 659.45,67.96 659.64,68.31 659.82,68.59 660.01,67.26 660.20,68.79 660.38,68.15 660.57,67.94 660.76,67.38 660.94,67.98 661.13,67.28 661.32,68.15 661.50,68.08 661.69,68.81 661.88,68.06 662.06,68.57 662.25,68.63 662.44,68.96 662.62,68.15 662.81,68.53 663.00,67.73 663.18,67.90 663.37,68.21 663.56,68.32 663.74,67.91 663.93,68.21 664.12,68.63 664.30,68.23 664.49,68.35 664.68,68.10 664.86,68.93 665.05,69.09 665.24,68.54 665.42,68.45 665.61,69.10 665.80,68.69 665.98,68.29 666.17,68.07 666.36,68.35 666.54,69.37 666.73,68.38 666.92,69.65 667.10,68.63 667.29,68.57 667.48,69.13 667.66,68.59 667.85,68.82 668.04,68.33 668.22,68.27 668.41,68.47 668.60,68.83 668.78,68.53 668.97,68.07 669.16,68.96 669.34,68.75 669.53,68.72 669.72,68.62 669.90,68.05 670.09,69.44 670.28,68.71 670.46,69.09 670.65,69.41 670.84,69.33 671.02,69.02 671.21,68.96 671.40,69.08 671.58,69.31 671.77,69.21 671.96,68.86 672.14,69.19 672.33,69.18 672.52,69.31 672.70,69.15 672.89,69.58 673.08,69.18 673.26,69.44 673.45,69.15 673.64,68.94 673.82,68.82 674.01,69.12 674.20,69.39 674.38,69.66 674.57,69.19 674.76,69.05 674.94,69.07 675.13,69.73 675.32,69.32 675.50,69.12 675.69,69.58 675.88,68.85 676.06,69.38 676.25,69.34 676.44,69.33 676.62,68.97 676.81,69.76 677.00,70.02 677.18,68.96 677.37,69.49 677.56,69.70 677.74,70.29 677.93,69.35 678.12,69.17 678.30,69.53 678.49,70.27 678.68,69.58 678.86,69.67" fill="none" stroke="#008f00" stroke-width="3.3" stroke-linejoin="round" stroke-linecap="round" />
<polyline points="401.30,231.84 401.49,223.69 401.67,217.34 401.86,212.37 402.05,206.37 402.23,199.62 402.42,194.17 402.61,187.54 402.79,180.69 402.98,172.80 403.17,164.66 403.35,155.35 403.54,144.60 403.73,127.73 403.91,109.31 404.10,91.94 404.29,80.70 404.47,76.13 404.66,72.22 404.85,68.76 405.03,67.45 405.22,66.28 405.41,65.88 405.59,64.70 405.78,64.83 405.97,63.65 406.15,64.29 406.34,63.06 406.53,62.71 406.71,63.62 406.90,63.45 407.09,63.79 407.27,64.25 407.46,64.50 407.65,64.65 407.83,65.49 408.02,65.94 408.21,66.32 408.39,67.08 408.58,66.31 408.77,66.79 408.95,67.15 409.14,66.97 409.33,66.87 409.51,67.25 409.70,67.99 409.89,67.66 410.07,68.11 410.26,67.76 410.45,68.30 410.63,68.01 410.82,68.06 411.01,68.50 411.19,68.57 411.38,69.16 411.57,68.13 411.75,68.97 411.94,69.44 412.13,69.43 412.31,68.87 412.50,68.84 412.69,68.97 412.87,69.32 413.06,69.35 413.25,69.47 413.43,69.62 413.62,69.08 413.81,69.12 413.99,69.15 414.18,69.16 414.37,69.66 414.55,69.87 414.74,70.72 414.93,70.05 415.11,69.92 415.30,70.47 415.49,69.75 415.67,70.18 415.86,70.45 416.05,70.43 416.23,70.34 416.42,70.11 416.61,69.83 416.79,70.27 416.98,70.15 417.17,70.65 417.35,70.39 417.54,70.68 417.73,69.94 417.91,70.90 418.10,70.29 418.29,70.07 418.47,70.17 418.66,70.47 418.85,71.13 419.03,71.02 419.22,70.38 419.41,70.86 419.59,70.82 419.78,70.33 419.97,70.57 420.15,70.23 420.34,70.68 420.53,70.07 420.71,70.76 420.90,70.74 421.09,70.82 421.27,70.84 421.46,71.58 421.65,71.07 421.83,71.31 422.02,71.52 422.21,71.60 422.39,71.55 422.58,71.13 422.77,70.96 422.95,71.10 423.14,71.24 423.33,71.43 423.51,71.42 423.70,71.87 423.89,71.47 424.07,72.17 424.26,71.92 424.45,71.40 424.63,71.90 424.82,70.59 425.01,72.13 425.19,71.81 425.38,71.83 425.57,71.10 425.75,72.63 425.94,71.65 426.13,71.71 426.31,72.19 426.50,71.74 426.69,71.52 426.87,72.08 427.06,71.50 427.25,72.15 427.43,71.95 427.62,72.32 427.81,71.50 427.99,72.40 428.18,72.08 428.37,72.69 428.55,71.77 428.74,72.69 428.93,72.29 429.11,72.34 429.30,71.81 429.49,72.28 429.67,72.34 429.86,71.82 430.05,71.72 430.23,71.87 430.42,72.68 430.61,72.23 430.79,72.52 430.98,72.30 431.17,72.26 431.35,72.31 431.54,72.09 431.73,72.69 431.91,72.33 432.10,72.36 432.29,71.80 432.47,72.42 432.66,72.08 432.85,72.15 433.03,72.71 433.22,71.96 433.41,72.29 433.59,72.60 433.78,72.80 433.97,72.21 434.15,72.53 434.34,72.52 434.53,72.03 434.71,71.68 434.90,71.77 435.09,72.68 435.27,72.51 435.46,72.01 435.65,72.27 435.83,72.36 436.02,72.39 436.21,72.52 436.39,73.33 436.58,72.27 436.77,72.61 436.95,72.29 437.14,72.35 437.33,72.28 437.51,72.52 437.70,72.41 437.89,72.75 438.07,72.71 438.26,72.32 438.45,73.34 438.63,72.24 438.82,72.80 439.01,73.46 439.19,72.44 439.38,73.18 439.57,73.22 439.75,72.84 439.94,72.07 440.13,73.25 440.31,72.79 440.50,72.57 440.69,73.23 440.87,72.53 441.06,73.18 441.25,72.61 441.43,73.01 441.62,72.44 441.81,72.70 441.99,72.52 442.18,72.60 442.37,72.94 442.55,72.82 442.74,72.96 442.93,73.36 443.11,72.87 443.30,72.26 443.49,72.83 443.67,72.97 443.86,73.32 444.04,73.33 444.23,73.31 444.42,72.90 444.60,73.23 444.79,72.49 444.98,73.48 445.16,73.18 445.35,73.22 445.54,72.91 445.72,73.08 445.91,72.83 446.10,73.28 446.28,72.61 446.47,73.45 446.66,73.30 446.84,73.84 447.03,73.12 447.22,73.11 447.40,73.22 447.59,73.18 447.78,73.13 447.96,72.79 448.15,72.80 448.34,73.00 448.52,73.11 448.71,72.80 448.90,72.82 449.08,73.14 449.27,73.52 449.46,73.20 449.64,73.52 449.83,73.63 450.02,73.57 450.20,73.16 450.39,73.17 450.58,72.66 450.76,73.09 450.95,73.51 451.14,72.97 451.32,73.85 451.51,73.89 451.70,73.26 451.88,73.73 452.07,72.90 452.26,73.04 452.44,73.30 452.63,73.44 452.82,73.38 453.00,73.15 453.19,74.17 453.38,73.58 453.56,73.59 453.75,73.74 453.94,73.57 454.12,73.44 454.31,73.33 454.50,72.95 454.68,74.08 454.87,73.23 455.06,72.97 455.24,73.29 455.43,73.02 455.62,74.31 455.80,73.74 455.99,74.12 456.18,74.15 456.36,73.84 456.55,73.85 456.74,73.40 456.92,73.64 457.11,73.46 457.30,73.70 457.48,73.45 457.67,74.16 457.86,73.99 458.04,73.69 458.23,73.14 458.42,73.99 458.60,74.07 458.79,73.74 458.98,73.32 459.16,73.94 459.35,74.17 459.54,73.12 459.72,74.01 459.91,73.17 460.10,73.86 460.28,74.46 460.47,73.88 460.66,74.03 460.84,73.75 461.03,73.87 461.22,74.72 461.40,74.37 461.59,73.79 461.78,73.78 461.96,73.93 462.15,74.71 462.34,74.01 462.52,74.35 462.71,73.83 462.90,73.51 463.08,74.45 463.27,73.96 463.46,73.71 463.64,73.76 463.83,73.77 464.02,73.80 464.20,73.48 464.39,74.47 464.58,74.18 464.76,74.40 464.95,73.94 465.14,74.20 465.32,74.14 465.51,74.51 465.70,74.39 465.88,74.24 466.07,73.88 466.26,73.70 466.44,73.85 466.63,73.92 466.82,73.96 467.00,73.72 467.19,74.76 467.38,74.27 467.56,73.47 467.75,73.80 467.94,73.72 468.12,74.29 468.31,74.60 468.50,73.87 468.68,74.45 468.87,74.14 469.06,74.66 469.24,74.74 469.43,74.38 469.62,74.53 469.80,74.28 469.99,74.16 470.18,73.88 470.36,74.42 470.55,74.29 470.74,74.19 470.92,74.30 471.11,74.27 471.30,73.98 471.48,74.16 471.67,74.77 471.86,74.29 472.04,74.87 472.23,73.97 472.42,73.91 472.60,74.44 472.79,74.68 472.98,74.18 473.16,74.64 473.35,74.76 473.54,74.82 473.72,74.40 473.91,74.43 474.10,73.87 474.28,74.47 474.47,74.57 474.66,74.98 474.84,74.03 475.03,74.19 475.22,74.14 475.40,74.82 475.59,73.62 475.78,74.14 475.96,75.26 476.15,74.77 476.34,74.07 476.52,74.53 476.71,74.85 476.90,74.76 477.08,74.49 477.27,74.29 477.46,74.88 477.64,74.59 477.83,74.88 478.02,74.74 478.20,74.44 478.39,75.12 478.58,74.44 478.76,74.78 478.95,74.41 479.14,74.56 479.32,74.56 479.51,74.42 479.70,74.74 479.88,75.13 480.07,75.33 480.26,75.19 480.44,74.62 480.63,75.21 480.82,74.84 481.00,75.34 481.19,74.26 481.38,75.24 481.56,74.51 481.75,75.14 481.94,74.57 482.12,75.06 482.31,74.65 482.50,74.09 482.68,74.41 482.87,74.68 483.06,74.78 483.24,73.98 483.43,74.36 483.62,74.53 483.80,74.72 483.99,74.88 484.18,74.51 484.36,74.27 484.55,74.92 484.74,74.70 484.92,75.14 485.11,74.65 485.30,75.07 485.48,74.53 485.67,74.94 485.86,74.89 486.04,75.02 486.23,74.54 486.42,74.83 486.60,74.58 486.79,74.83 486.98,75.11 487.16,75.95 487.35,74.91 487.54,75.16 487.72,74.95 487.91,75.32 488.10,75.09 488.28,75.30 488.47,75.06 488.66,75.78 488.84,75.43 489.03,74.35 489.22,75.06 489.40,74.99 489.59,74.19 489.78,74.67 489.96,74.82 490.15,74.73 490.34,75.03 490.52,74.36 490.71,75.26 490.90,75.28 491.08,75.14 491.27,74.90 491.46,75.02 491.64,74.86 491.83,75.44 492.02,75.22 492.20,75.75 492.39,74.92 492.58,75.57 492.76,74.86 492.95,75.01 493.14,74.70 493.32,75.26 493.51,75.06 493.70,75.31 493.88,75.62 494.07,75.08 494.26,75.24 494.44,75.43 494.63,75.09 494.82,74.93 495.00,75.25 495.19,75.31 495.38,75.41 495.56,75.43 495.75,74.91 495.94,75.31 496.12,75.59 496.31,75.00 496.50,75.30 496.68,74.96 496.87,75.24 497.06,75.80 497.24,75.25 497.43,74.86 497.62,75.32 497.80,75.28 497.99,75.61 498.18,74.74 498.36,74.90 498.55,75.20 498.74,74.69 498.92,75.64 499.11,74.54 499.30,74.96 499.48,74.74 499.67,75.03 499.86,75.55 500.04,75.49 500.23,75.61 500.42,75.50 500.60,74.58 500.79,75.40 500.98,74.66 501.16,75.13 501.35,75.18 501.54,75.13 501.72,75.50 501.91,75.05 502.10,75.95 502.28,75.55 502.47,75.77 502.66,75.62 502.84,75.68 503.03,75.35 503.22,76.06 503.40,75.01 503.59,75.55 503.78,75.40 503.96,75.32 504.15,75.52 504.34,75.15 504.52,75.72 504.71,75.70 504.90,75.47 505.08,75.70 505.27,75.08 505.46,74.82 505.64,75.25 505.83,75.38 506.02,76.34 506.20,75.40 506.39,75.84 506.58,75.79 506.76,76.24 506.95,75.54 507.14,75.74 507.32,75.45 507.51,75.22 507.70,75.18 507.88,75.26 508.07,76.04 508.26,75.65 508.44,75.50 508.63,75.57 508.82,75.37 509.00,75.56 509.19,75.57 509.38,75.82 509.56,75.92 509.75,75.03 509.94,75.69 510.12,76.10 510.31,75.27 510.50,75.54 510.68,75.70 510.87,76.03 511.06,75.86 511.24,75.58 511.43,75.84 511.62,76.03 511.80,75.82 511.99,76.34 512.18,75.84 512.36,75.33 512.55,75.43 512.74,75.67 512.92,75.65 513.11,75.94 513.30,75.86 513.48,76.34 513.67,76.03 513.86,76.28 514.04,75.50 514.23,75.62 514.42,76.02 514.60,75.82 514.79,76.01 514.98,75.89 515.16,75.59 515.35,76.41 515.54,76.22 515.72,75.28 515.91,75.62 516.10,75.85 516.28,76.09 516.47,75.83 516.66,75.39 516.84,76.16 517.03,75.80 517.22,76.31 517.40,76.00 517.59,76.25 517.78,76.20 517.96,76.22 518.15,75.74 518.34,76.29 518.52,76.01 518.71,75.51 518.90,75.81 519.08,75.84 519.27,76.13 519.46,76.21 519.64,75.59 519.83,76.24 520.02,75.97 520.20,75.63 520.39,76.30 520.58,75.75 520.76,75.60 520.95,76.29 521.14,76.35 521.32,75.81 521.51,76.42 521.70,76.41 521.88,75.88 522.07,76.77 522.26,76.06 522.44,76.17 522.63,75.26 522.82,76.32 523.00,75.89 523.19,76.27 523.38,75.52 523.56,76.53 523.75,76.65 523.94,76.80 524.12,75.12 524.31,76.36 524.50,76.29 524.68,75.12 524.87,75.92 525.06,76.16 525.24,76.69 525.43,75.91 525.62,76.28 525.80,76.20 525.99,76.35 526.18,76.09 526.36,76.55 526.55,76.58 526.74,75.78 526.92,76.65 527.11,76.00 527.30,76.18 527.48,76.67 527.67,76.32 527.86,76.49 528.04,76.58 528.23,76.52 528.42,76.13 528.60,75.99 528.79,76.57 528.98,76.60 529.16,76.47 529.35,76.28 529.54,76.66 529.72,76.35 529.91,75.89 530.10,76.47 530.28,76.56 530.47,76.66 530.66,76.09 530.84,76.14 531.03,76.53 531.22,76.26 531.40,76.40 531.59,76.76 531.78,76.58 531.96,77.08 532.15,76.55 532.34,77.05 532.52,76.84 532.71,77.36 532.90,76.48 533.08,76.46 533.27,76.95 533.46,76.32 533.64,76.34 533.83,76.60 534.02,76.65 534.20,76.04 534.39,76.62 534.58,76.43 534.76,76.54 534.95,76.61 535.14,76.49 535.32,76.94 535.51,76.74 535.70,76.51 535.88,76.61 536.07,76.95 536.26,76.87 536.44,77.04 536.63,76.56 536.82,76.66 537.00,77.32 537.19,76.62 537.37,77.22 537.56,76.93 537.75,76.50 537.93,76.17 538.12,76.88 538.31,76.42 538.49,76.42 538.68,76.07 538.87,77.09 539.05,76.72 539.24,76.70 539.43,76.84 539.61,76.79 539.80,76.74 539.99,76.89 540.17,76.62 540.36,75.83 540.55,76.99 540.73,76.88 540.92,76.75 541.11,77.30 541.29,76.27 541.48,75.75 541.67,77.28 541.85,76.91 542.04,76.20 542.23,76.63 542.41,77.00 542.60,76.36 542.79,76.98 542.97,77.53 543.16,77.28 543.35,76.79 543.53,76.92 543.72,76.48 543.91,76.87 544.09,76.71 544.28,76.48 544.47,76.37 544.65,77.51 544.84,76.87 545.03,76.49 545.21,76.70 545.40,77.37 545.59,77.42 545.77,76.65 545.96,76.93 546.15,77.18 546.33,76.75 546.52,76.47 546.71,76.54 546.89,76.89 547.08,76.62 547.27,76.44 547.45,76.82 547.64,77.23 547.83,77.14 548.01,76.83 548.20,77.58 548.39,76.64 548.57,76.89 548.76,76.45 548.95,77.20 549.13,76.89 549.32,76.35 549.51,76.65 549.69,77.56 549.88,77.19 550.07,76.98 550.25,77.25 550.44,76.40 550.63,76.67 550.81,76.50 551.00,76.67 551.19,76.83 551.37,77.15 551.56,77.32 551.75,77.31 551.93,77.91 552.12,76.80 552.31,76.97 552.49,77.16 552.68,76.69 552.87,76.88 553.05,77.13 553.24,76.68 553.43,77.15 553.61,77.42 553.80,76.61 553.99,76.20 554.17,77.03 554.36,76.64 554.55,77.06 554.73,76.85 554.92,77.11 555.11,77.40 555.29,77.29 555.48,76.89 555.67,76.61 555.85,76.15 556.04,76.26 556.23,76.74 556.41,77.05 556.60,76.78 556.79,76.81 556.97,76.46 557.16,76.44 557.35,76.42 557.53,77.23 557.72,76.33 557.91,77.25 558.09,76.70 558.28,77.20 558.47,77.10 558.65,77.28 558.84,77.43 559.03,76.74 559.21,76.67 559.40,76.86 559.59,76.74 559.77,77.24 559.96,76.97 560.15,77.01 560.33,77.15 560.52,76.84 560.71,77.39 560.89,76.37 561.08,77.09 561.27,77.18 561.45,76.74 561.64,76.76 561.83,77.32 562.01,76.89 562.20,76.33 562.39,76.53 562.57,77.35 562.76,76.69 562.95,77.45 563.13,77.47 563.32,76.93 563.51,77.18 563.69,76.71 563.88,76.85 564.07,76.75 564.25,77.20 564.44,76.54 564.63,76.94 564.81,77.00 565.00,77.17 565.19,76.25 565.37,76.36 565.56,76.68 565.75,76.90 565.93,77.03 566.12,77.04 566.31,77.68 566.49,77.20 566.68,77.18 566.87,76.80 567.05,77.24 567.24,77.21 567.43,77.20 567.61,76.93 567.80,77.18 567.99,77.49 568.17,76.68 568.36,76.21 568.55,77.24 568.73,77.21 568.92,76.87 569.11,76.80 569.29,77.91 569.48,76.79 569.67,76.52 569.85,76.78 570.04,77.12 570.23,76.73 570.41,76.80 570.60,77.04 570.79,76.78 570.97,76.98 571.16,76.91 571.35,76.56 571.53,76.95 571.72,76.52 571.91,77.24 572.09,76.59 572.28,76.83 572.47,76.28 572.65,76.76 572.84,76.47 573.03,77.42 573.21,76.86 573.40,77.08 573.59,76.29 573.77,76.47 573.96,76.83 574.15,76.42 574.33,77.28 574.52,76.75 574.71,76.93 574.89,76.99 575.08,76.83 575.27,77.14 575.45,76.64 575.64,77.00 575.83,77.28 576.01,76.94 576.20,76.90 576.39,76.74 576.57,76.88 576.76,77.09 576.95,76.77 577.13,76.27 577.32,76.90 577.51,76.79 577.69,77.00 577.88,76.85 578.07,77.38 578.25,76.41 578.44,76.49 578.63,77.05 578.81,76.47 579.00,76.93 579.19,76.81 579.37,76.13 579.56,77.04 579.75,77.28 579.93,76.88 580.12,76.32 580.31,77.07 580.49,76.44 580.68,76.75 580.87,76.93 581.05,76.52 581.24,76.20 581.43,76.73 581.61,76.76 581.80,76.48 581.99,76.50 582.17,77.02 582.36,76.73 582.55,76.60 582.73,76.55 582.92,76.81 583.11,76.78 583.29,76.69 583.48,76.27 583.67,76.61 583.85,76.52 584.04,76.76 584.23,77.13 584.41,77.06 584.60,76.95 584.79,76.76 584.97,76.61 585.16,76.83 585.35,76.55 585.53,76.59 585.72,76.42 585.91,76.69 586.09,76.68 586.28,77.33 586.47,76.88 586.65,76.56 586.84,76.95 587.03,76.53 587.21,77.03 587.40,76.95 587.59,77.66 587.77,76.31 587.96,76.65 588.15,76.63 588.33,76.77 588.52,76.91 588.71,76.33 588.89,76.41 589.08,76.76 589.27,76.98 589.45,76.27 589.64,76.12 589.83,77.03 590.01,76.93 590.20,77.01 590.39,76.30 590.57,76.56 590.76,76.71 590.95,76.78 591.13,76.58 591.32,76.60 591.51,76.96 591.69,76.47 591.88,76.43 592.07,76.46 592.25,76.43 592.44,76.65 592.63,76.53 592.81,76.45 593.00,77.08 593.19,76.69 593.37,76.48 593.56,77.01 593.75,76.40 593.93,76.58 594.12,76.55 594.31,76.38 594.49,76.45 594.68,76.60 594.87,76.09 595.05,76.44 595.24,76.65 595.43,76.66 595.61,76.66 595.80,77.34 595.99,76.78 596.17,76.51 596.36,76.51 596.55,76.55 596.73,76.69 596.92,76.44 597.11,77.05 597.29,76.17 597.48,76.75 597.67,76.70 597.85,76.15 598.04,76.74 598.23,76.71 598.41,76.31 598.60,77.30 598.79,76.76 598.97,76.41 599.16,76.36 599.35,76.27 599.53,76.60 599.72,76.53 599.91,76.04 600.09,76.16 600.28,76.27 600.47,76.37 600.65,76.38 600.84,76.28 601.03,76.71 601.21,76.81 601.40,76.52 601.59,75.76 601.77,76.44 601.96,76.68 602.15,76.46 602.33,76.58 602.52,76.52 602.71,75.99 602.89,75.64 603.08,76.69 603.27,76.30 603.45,76.61 603.64,76.37 603.83,76.42 604.01,76.93 604.20,76.07 604.39,76.46 604.57,76.10 604.76,76.49 604.95,76.62 605.13,76.68 605.32,76.51 605.51,76.00 605.69,76.54 605.88,76.75 606.07,76.78 606.25,77.16 606.44,76.64 606.63,76.11 606.81,76.27 607.00,76.47 607.19,76.79 607.37,76.06 607.56,76.74 607.75,76.65 607.93,76.15 608.12,76.63 608.31,76.18 608.49,76.43 608.68,76.33 608.87,76.50 609.05,76.03 609.24,76.60 609.43,75.70 609.61,76.28 609.80,76.23 609.99,76.94 610.17,76.59 610.36,76.25 610.55,76.11 610.73,76.42 610.92,76.20 611.11,77.15 611.29,75.48 611.48,76.42 611.67,75.59 611.85,76.74 612.04,76.13 612.23,76.93 612.41,76.21 612.60,76.75 612.79,76.46 612.97,76.78 613.16,76.40 613.35,75.40 613.53,76.14 613.72,75.87 613.91,76.70 614.09,76.56 614.28,76.38 614.47,76.53 614.65,76.44 614.84,76.18 615.03,77.02 615.21,76.45 615.40,76.30 615.59,75.88 615.77,76.16 615.96,76.37 616.15,76.30 616.33,76.20 616.52,76.34 616.71,75.98 616.89,76.36 617.08,75.84 617.27,76.07 617.45,76.11 617.64,76.64 617.83,76.51 618.01,76.37 618.20,75.96 618.39,76.21 618.57,76.61 618.76,76.76 618.95,75.85 619.13,76.19 619.32,76.37 619.51,76.45 619.69,76.34 619.88,76.55 620.07,75.85 620.25,76.85 620.44,75.95 620.63,76.35 620.81,76.50 621.00,76.71 621.19,76.62 621.37,76.61 621.56,76.74 621.75,76.27 621.93,76.57 622.12,76.83 622.31,76.06 622.49,75.85 622.68,75.98 622.87,76.78 623.05,76.72 623.24,76.19 623.43,76.39 623.61,76.46 623.80,76.65 623.99,75.67 624.17,76.11 624.36,76.21 624.55,76.40 624.73,76.32 624.92,76.19 625.11,76.39 625.29,75.43 625.48,77.32 625.67,76.56 625.85,76.58 626.04,76.07 626.23,76.42 626.41,76.97 626.60,76.89 626.79,76.31 626.97,75.87 627.16,76.33 627.35,76.18 627.53,76.56 627.72,75.85 627.91,76.21 628.09,76.36 628.28,76.11 628.47,76.62 628.65,75.89 628.84,75.85 629.03,76.15 629.21,76.54 629.40,76.16 629.59,76.06 629.77,76.53 629.96,76.33 630.15,76.08 630.33,76.30 630.52,76.17 630.70,76.46 630.89,76.30 631.08,75.98 631.26,76.09 631.45,76.11 631.64,76.37 631.82,76.37 632.01,75.96 632.20,76.18 632.38,76.34 632.57,76.61 632.76,76.32 632.94,76.89 633.13,76.24 633.32,76.48 633.50,76.12 633.69,75.90 633.88,76.26 634.06,76.39 634.25,76.33 634.44,76.27 634.62,76.11 634.81,75.95 635.00,76.12 635.18,76.37 635.37,76.54 635.56,75.11 635.74,76.42 635.93,76.57 636.12,76.63 636.30,76.34 636.49,76.43 636.68,76.06 636.86,76.17 637.05,76.38 637.24,75.83 637.42,75.93 637.61,76.26 637.80,75.75 637.98,76.21 638.17,75.70 638.36,76.26 638.54,76.20 638.73,76.00 638.92,75.87 639.10,76.02 639.29,75.43 639.48,76.05 639.66,76.22 639.85,76.59 640.04,76.01 640.22,76.12 640.41,76.64 640.60,76.76 640.78,76.01 640.97,76.52 641.16,76.57 641.34,76.34 641.53,75.84 641.72,75.85 641.90,76.36 642.09,76.95 642.28,76.10 642.46,76.69 642.65,76.80 642.84,75.74 643.02,75.96 643.21,76.66 643.40,76.48 643.58,76.34 643.77,76.15 643.96,76.36 644.14,75.94 644.33,76.99 644.52,75.76 644.70,75.54 644.89,76.19 645.08,76.63 645.26,75.98 645.45,76.12 645.64,75.80 645.82,76.11 646.01,75.79 646.20,75.80 646.38,75.64 646.57,75.95 646.76,76.76 646.94,76.11 647.13,76.19 647.32,76.88 647.50,75.91 647.69,75.79 647.88,76.30 648.06,75.71 648.25,76.23 648.44,76.51 648.62,75.75 648.81,75.94 649.00,76.68 649.18,75.76 649.37,75.88 649.56,76.19 649.74,76.00 649.93,75.82 650.12,76.64 650.30,75.91 650.49,76.21 650.68,75.96 650.86,76.02 651.05,75.64 651.24,76.41 651.42,75.95 651.61,76.52 651.80,75.70 651.98,75.93 652.17,76.25 652.36,76.13 652.54,75.87 652.73,76.04 652.92,75.65 653.10,76.10 653.29,75.19 653.48,76.14 653.66,76.54 653.85,76.38 654.04,76.36 654.22,75.93 654.41,76.24 654.60,75.94 654.78,76.04 654.97,76.04 655.16,74.93 655.34,76.38 655.53,76.22 655.72,76.35 655.90,75.74 656.09,76.30 656.28,76.22 656.46,75.31 656.65,75.46 656.84,76.07 657.02,75.83 657.21,76.05 657.40,75.84 657.58,76.55 657.77,75.41 657.96,75.59 658.14,75.72 658.33,75.59 658.52,75.85 658.70,76.03 658.89,75.59 659.08,76.16 659.26,76.48 659.45,76.41 659.64,76.71 659.82,76.42 660.01,76.02 660.20,76.63 660.38,76.27 660.57,76.66 660.76,75.96 660.94,75.32 661.13,75.63 661.32,76.09 661.50,76.21 661.69,75.95 661.88,76.36 662.06,75.63 662.25,75.78 662.44,76.35 662.62,76.03 662.81,76.05 663.00,76.49 663.18,76.38 663.37,75.74 663.56,76.08 663.74,75.44 663.93,76.00 664.12,76.14 664.30,75.42 664.49,76.53 664.68,76.68 664.86,76.17 665.05,76.31 665.24,76.51 665.42,75.94 665.61,76.35 665.80,76.13 665.98,75.48 666.17,75.69 666.36,75.80 666.54,76.35 666.73,76.02 666.92,76.32 667.10,75.83 667.29,75.55 667.48,76.68 667.66,76.90 667.85,76.11 668.04,75.91 668.22,76.38 668.41,75.60 668.60,75.91 668.78,75.49 668.97,76.14 669.16,76.06 669.34,75.83 669.53,75.75 669.72,75.46 669.90,75.69 670.09,76.38 670.28,75.84 670.46,76.39 670.65,75.67 670.84,75.93 671.02,75.80 671.21,75.87 671.40,76.21 671.58,75.26 671.77,76.20 671.96,76.18 672.14,75.95 672.33,75.97 672.52,75.87 672.70,76.18 672.89,75.96 673.08,75.66 673.26,75.99 673.45,76.26 673.64,76.06 673.82,75.95 674.01,76.00 674.20,75.77 674.38,75.78 674.57,75.30 674.76,75.87 674.94,76.26 675.13,75.80 675.32,75.62 675.50,76.22 675.69,75.98 675.88,75.97 676.06,76.08 676.25,76.15 676.44,75.90 676.62,75.64 676.81,76.50 677.00,75.93 677.18,75.65 677.37,75.97 677.56,76.31 677.74,75.43 677.93,76.34 678.12,75.86 678.30,76.57 678.49,76.12 678.68,75.86 678.86,76.32" fill="none" stroke="#f5841f" stroke-width="3.3" stroke-linejoin="round" stroke-linecap="round" />
<polyline points="402.70,231.81 403.17,231.03 403.63,231.30 404.10,230.93 404.57,231.61 405.03,230.49 405.50,231.07 405.97,230.13 406.43,231.42 406.90,230.07 407.37,230.62 407.83,231.24 408.30,230.94 408.77,230.89 409.23,230.64 409.70,230.87 410.17,230.25 410.63,231.23 411.10,231.45 411.57,231.43 412.03,231.04 412.50,231.63 412.97,231.27 413.43,231.50 413.90,231.22 414.37,231.04 414.83,230.66 415.30,229.76 415.77,231.32 416.23,230.95 416.70,231.94 417.17,230.05 417.63,231.39 418.10,230.53 418.57,230.97 419.03,230.55 419.50,231.13 419.97,230.94 420.43,231.37 420.90,231.02 421.37,231.17 421.83,231.55 422.30,231.18 422.77,230.87 423.23,231.51 423.70,230.87 424.17,231.11 424.63,230.76 425.10,230.59 425.57,229.47 426.03,231.23 426.50,230.34 426.97,231.24 427.43,231.74 427.90,230.25 428.37,231.29 428.83,230.82 429.30,231.08 429.77,230.29 430.23,230.87 430.70,230.93 431.17,231.53 431.63,231.86 432.10,230.99 432.57,230.66 433.03,231.89 433.50,230.78 433.97,230.80 434.43,230.87 434.90,231.04 435.37,231.15 435.83,230.53 436.30,230.75 436.77,231.69 437.23,231.56 437.70,231.00 438.17,230.92 438.63,230.67 439.10,231.27 439.57,230.53 440.03,230.83 440.50,230.55 440.97,230.47 441.43,230.78 441.90,230.76 442.37,230.48 442.83,230.72 443.30,230.78 443.77,230.52 444.23,230.43 444.70,230.67 445.16,231.06 445.63,231.25 446.10,230.81 446.56,230.59 447.03,230.70 447.50,231.62 447.96,231.14 448.43,230.25 448.90,230.67 449.36,230.44 449.83,230.52 450.30,229.89 450.76,230.70 451.23,230.03 451.70,230.39 452.16,231.39 452.63,231.14 453.10,230.25 453.56,230.17 454.03,230.22 454.50,229.75 454.96,230.18 455.43,230.51 455.90,230.14 456.36,230.99 456.83,230.60 457.30,230.37 457.76,231.45 458.23,230.95 458.70,230.64 459.16,231.48 459.63,231.22 460.10,230.26 460.56,230.74 461.03,230.37 461.50,229.89 461.96,231.48 462.43,231.28 462.90,229.96 463.36,230.79 463.83,229.77 464.30,231.06 464.76,230.52 465.23,230.40 465.70,231.13 466.16,230.53 466.63,230.40 467.10,230.95 467.56,230.36 468.03,230.92 468.50,230.50 468.96,230.89 469.43,230.78 469.90,230.86 470.36,229.99 470.83,231.37 471.30,230.38 471.76,231.30 472.23,230.16 472.70,230.31 473.16,230.31 473.63,230.98 474.10,230.22 474.56,230.61 475.03,229.66 475.50,230.17 475.96,230.50 476.43,230.33 476.90,229.48 477.36,230.61 477.83,229.90 478.30,231.29 478.76,230.26 479.23,231.43 479.70,230.65 480.16,230.55 480.63,230.09 481.10,230.25 481.56,230.52 482.03,229.36 482.50,230.76 482.96,229.71 483.43,230.14 483.90,228.94 484.36,230.47 484.83,230.60 485.30,230.37 485.76,230.38 486.23,230.04 486.70,230.28 487.16,230.78 487.63,229.98 488.10,230.42 488.56,230.52 489.03,230.04 489.50,230.26 489.96,230.24 490.43,229.89 490.90,231.29 491.36,229.90 491.83,230.92 492.30,230.60 492.76,229.09 493.23,230.18 493.70,230.55 494.16,230.43 494.63,229.59 495.10,230.14 495.56,229.42 496.03,229.49 496.50,229.86 496.96,230.06 497.43,230.73 497.90,230.12 498.36,230.44 498.83,229.34 499.30,229.34 499.76,229.66 500.23,230.73 500.70,229.22 501.16,229.08 501.63,229.80 502.10,230.40 502.56,229.02 503.03,229.67 503.50,229.12 503.96,230.47 504.43,230.09 504.90,229.87 505.36,229.70 505.83,229.59 506.30,229.76 506.76,229.36 507.23,229.23 507.70,229.11 508.16,229.64 508.63,229.23 509.10,230.02 509.56,228.56 510.03,229.84 510.50,229.81 510.96,230.12 511.43,229.39 511.90,228.77 512.36,229.03 512.83,230.01 513.30,229.29 513.76,229.22 514.23,229.12 514.70,229.36 515.16,229.26 515.63,228.59 516.10,229.04 516.56,229.80 517.03,230.00 517.50,229.22 517.96,229.00 518.43,229.89 518.90,229.13 519.36,228.62 519.83,229.11 520.30,229.49 520.76,229.88 521.23,228.84 521.70,229.27 522.16,228.76 522.63,229.38 523.10,228.84 523.56,228.71 524.03,227.96 524.50,228.12 524.96,227.95 525.43,226.18 525.90,228.15 526.36,227.53 526.83,227.22 527.30,226.92 527.76,226.88 528.23,226.75 528.70,225.76 529.16,226.21 529.63,225.95 530.10,225.65 530.56,224.65 531.03,225.05 531.50,224.22 531.96,224.75 532.43,224.96 532.90,224.47 533.36,223.62 533.83,223.25 534.30,222.94 534.76,223.08 535.23,222.25 535.70,221.97 536.16,220.65 536.63,221.07 537.10,220.71 537.56,220.43 538.03,220.87 538.49,219.19 538.96,218.77 539.43,219.26 539.89,218.04 540.36,217.98 540.83,217.68 541.29,217.13 541.76,216.27 542.23,216.62 542.69,216.43 543.16,214.73 543.63,214.61 544.09,214.72 544.56,213.69 545.03,212.84 545.49,212.65 545.96,212.80 546.43,211.46 546.89,211.62 547.36,211.23 547.83,210.26 548.29,210.39 548.76,209.97 549.23,209.66 549.69,209.16 550.16,207.50 550.63,208.18 551.09,207.55 551.56,207.26 552.03,205.89 552.49,206.25 552.96,205.51 553.43,204.27 553.89,204.97 554.36,203.48 554.83,202.88 555.29,203.07 555.76,202.10 556.23,202.08 556.69,201.30 557.16,201.07 557.63,200.84 558.09,199.95 558.56,199.91 559.03,199.42 559.49,198.13 559.96,198.47 560.43,197.89 560.89,197.18 561.36,197.18 561.83,196.97 562.29,196.06 562.76,194.51 563.23,194.96 563.69,194.21 564.16,193.67 564.63,193.50 565.09,192.70 565.56,193.18 566.03,192.05 566.49,191.46 566.96,191.36 567.43,190.90 567.89,190.62 568.36,189.89 568.83,189.10 569.29,188.72 569.76,187.14 570.23,187.02 570.69,187.77 571.16,186.65 571.63,187.23 572.09,186.77 572.56,184.83 573.03,185.14 573.49,185.94 573.96,183.71 574.43,183.85 574.89,183.11 575.36,182.67 575.83,182.23 576.29,181.93 576.76,181.88 577.23,180.70 577.69,180.91 578.16,179.90 578.63,180.07 579.09,179.55 579.56,178.60 580.03,178.62 580.49,177.76 580.96,177.28 581.43,177.82 581.89,175.94 582.36,176.65 582.83,176.28 583.29,175.20 583.76,175.56 584.23,175.02 584.69,173.48 585.16,173.89 585.63,173.39 586.09,172.32 586.56,172.46 587.03,172.03 587.49,170.78 587.96,169.61 588.43,170.19 588.89,169.05 589.36,167.96 589.83,167.99 590.29,166.39 590.76,166.74 591.23,166.98 591.69,164.22 592.16,165.18 592.63,163.85 593.09,163.46 593.56,162.57 594.03,162.69 594.49,161.75 594.96,160.77 595.43,159.92 595.89,159.77 596.36,159.97 596.83,158.29 597.29,158.57 597.76,158.04 598.23,156.45 598.69,157.53 599.16,156.58 599.63,157.32 600.09,156.75 600.56,155.47 601.03,155.22 601.49,154.53 601.96,154.08 602.43,154.88 602.89,154.13 603.36,153.82 603.83,153.71 604.29,153.90 604.76,153.82 605.23,153.15 605.69,152.85 606.16,152.80 606.63,153.56 607.09,151.33 607.56,151.58 608.03,152.17 608.49,151.80 608.96,152.12 609.43,151.93 609.89,152.03 610.36,150.44 610.83,150.88 611.29,150.20 611.76,150.52 612.23,149.85 612.69,149.89 613.16,148.77 613.63,148.86 614.09,148.16 614.56,147.90 615.03,147.40 615.49,146.70 615.96,147.31 616.43,146.46 616.89,146.39 617.36,144.90 617.83,143.96 618.29,144.12 618.76,143.88 619.23,143.86 619.69,143.51 620.16,143.11 620.63,142.79 621.09,141.92 621.56,141.16 622.03,140.28 622.49,140.55 622.96,139.54 623.43,138.98 623.89,139.27 624.36,138.71 624.83,138.67 625.29,137.56 625.76,138.15 626.23,137.43 626.69,136.85 627.16,136.24 627.63,135.78 628.09,135.33 628.56,136.39 629.03,134.71 629.49,135.42 629.96,134.71 630.43,134.26 630.89,134.03 631.36,133.94 631.82,134.16 632.29,133.72 632.76,133.18 633.22,132.24 633.69,131.78 634.16,133.30 634.62,131.63 635.09,131.10 635.56,132.16 636.02,130.61 636.49,131.46 636.96,131.29 637.42,130.70 637.89,130.79 638.36,129.39 638.82,129.22 639.29,129.48 639.76,129.32 640.22,129.04 640.69,129.07 641.16,128.24 641.62,127.31 642.09,128.32 642.56,127.78 643.02,128.05 643.49,128.44 643.96,127.23 644.42,127.24 644.89,126.29 645.36,126.95 645.82,126.44 646.29,126.16 646.76,126.26 647.22,125.03 647.69,125.64 648.16,125.36 648.62,125.68 649.09,123.79 649.56,124.40 650.02,125.30 650.49,123.79 650.96,123.55 651.42,124.41 651.89,124.54 652.36,123.14 652.82,122.50 653.29,122.34 653.76,122.21 654.22,121.76 654.69,121.56 655.16,121.82 655.62,121.53 656.09,121.52 656.56,121.08 657.02,120.25 657.49,120.99 657.96,120.53 658.42,119.91 658.89,119.85 659.36,119.92 659.82,119.59 660.29,119.28 660.76,119.51 661.22,119.45 661.69,118.57 662.16,118.51 662.62,117.77 663.09,118.02 663.56,118.13 664.02,118.11 664.49,117.55 664.96,117.21 665.42,116.68 665.89,116.92 666.36,116.06 666.82,116.45 667.29,116.18 667.76,115.52 668.22,115.92 668.69,115.45 669.16,115.65 669.62,114.92 670.09,115.21 670.56,115.55 671.02,114.70 671.49,114.83 671.96,113.97 672.42,113.96 672.89,113.06 673.36,113.78 673.82,113.18 674.29,113.68 674.76,112.51 675.22,113.01 675.69,113.39 676.16,113.46 676.62,112.39 677.09,112.92 677.56,114.31 678.02,113.37 678.49,112.99 678.96,111.49" fill="none" stroke="#6600dd" stroke-width="3.0" stroke-linejoin="round" stroke-linecap="round" stroke-dasharray="0 5.6" stroke-linecap="round"/>
<polyline points="396.17,231.20 396.35,231.20 396.54,231.20 396.73,231.20 396.91,231.20 397.10,231.20 397.29,231.20 397.47,231.20 397.66,231.20 397.85,231.20 398.03,231.20 398.22,231.20 398.41,231.20 398.59,231.20 398.78,231.20 398.97,231.20 399.15,231.20 399.34,231.20 399.53,231.20 399.71,231.20 399.90,231.20 400.09,231.20 400.27,231.20 400.46,231.20 400.65,231.20 400.83,231.20 401.02,231.20 401.21,231.20 401.39,231.20 401.58,231.20 401.77,231.20 401.95,231.20 402.14,231.20 402.33,231.20 402.51,231.20 402.70,231.20 402.89,231.03 403.07,230.53 403.26,229.74 403.45,228.68 403.63,227.38 403.82,225.87 404.01,224.18 404.19,222.34 404.38,220.37 404.57,218.30 404.75,216.17 404.94,213.99 405.13,211.81 405.31,209.64 405.50,207.53 405.69,205.43 405.87,203.30 406.06,201.12 406.25,198.87 406.43,196.53 406.62,194.08 406.81,191.51 406.99,188.80 407.18,185.92 407.37,182.86 407.55,179.60 407.74,176.12 407.93,172.41 408.11,168.45 408.30,164.20 408.49,159.67 408.67,154.83 408.86,149.08 409.05,139.52 409.23,127.08 409.42,113.32 409.61,99.82 409.79,88.14 409.98,79.86 410.17,76.53 410.35,76.22 410.54,75.96 410.73,75.74 410.91,75.56 411.10,75.41 411.29,75.28 411.47,75.17 411.66,75.08 411.85,75.01 412.03,74.95 412.22,74.89 412.41,74.83 412.59,74.78 412.78,74.73 412.97,74.69 413.15,74.64 413.34,74.60 413.53,74.56 413.71,74.52 413.90,74.49 414.09,74.45 414.27,74.42 414.46,74.39 414.65,74.36 414.83,74.34 415.02,74.31 415.21,74.28 415.39,74.26 415.58,74.24 415.77,74.21 415.95,74.19 416.14,74.17 416.33,74.15 416.51,74.12 416.70,74.10 416.89,74.08 417.07,74.06 417.26,74.03 417.45,74.01 417.63,73.98 417.82,73.96 418.01,73.93 418.19,73.90 418.38,73.87 418.57,73.84 418.75,73.81 418.94,73.78 419.13,73.75 419.31,73.72 419.50,73.69 419.69,73.65 419.87,73.62 420.06,73.59 420.25,73.56 420.43,73.53 420.62,73.50 420.81,73.46 420.99,73.43 421.18,73.40 421.37,73.37 421.55,73.34 421.74,73.31 421.93,73.28 422.11,73.24 422.30,73.21 422.49,73.18 422.67,73.15 422.86,73.12 423.05,73.09 423.23,73.05 423.42,73.02 423.61,72.99 423.79,72.96 423.98,72.93 424.17,72.90 424.35,72.86 424.54,72.83 424.73,72.80 424.91,72.77 425.10,72.74 425.29,72.71 425.47,72.68 425.66,72.64 425.85,72.61 426.03,72.58 426.22,72.55 426.41,72.52 426.59,72.49 426.78,72.46 426.97,72.42 427.15,72.39 427.34,72.36 427.53,72.33 427.71,72.30 427.90,72.27 428.09,72.24 428.27,72.21 428.46,72.18 428.65,72.15 428.83,72.12 429.02,72.09 429.21,72.05 429.39,72.02 429.58,71.99 429.77,71.96 429.95,71.93 430.14,71.90 430.33,71.87 430.51,71.84 430.70,71.80 430.89,71.77 431.07,71.74 431.26,71.71 431.45,71.68 431.63,71.64 431.82,71.61 432.01,71.58 432.19,71.54 432.38,71.51 432.57,71.48 432.75,71.44 432.94,71.41 433.13,71.37 433.31,71.34 433.50,71.30 433.69,71.26 433.87,71.23 434.06,71.19 434.25,71.15 434.43,71.11 434.62,71.08 434.81,71.04 434.99,71.00 435.18,70.96 435.37,70.92 435.55,70.89 435.74,70.85 435.93,70.81 436.11,70.77 436.30,70.73 436.49,70.70 436.67,70.66 436.86,70.62 437.05,70.58 437.23,70.55 437.42,70.51 437.61,70.48 437.79,70.44 437.98,70.41 438.17,70.37 438.35,70.34 438.54,70.30 438.73,70.27 438.91,70.23 439.10,70.20 439.29,70.16 439.47,70.12 439.66,70.09 439.85,70.05 440.03,70.02 440.22,69.98 440.41,69.95 440.59,69.91 440.78,69.88 440.97,69.84 441.15,69.81 441.34,69.77 441.53,69.74 441.71,69.71 441.90,69.68 442.09,69.65 442.27,69.62 442.46,69.59 442.65,69.56 442.83,69.54 443.02,69.51 443.21,69.49 443.39,69.47 443.58,69.44 443.77,69.42 443.95,69.41 444.14,69.39 444.32,69.37 444.51,69.35 444.70,69.33 444.88,69.32 445.07,69.30 445.26,69.29 445.44,69.27 445.63,69.26 445.82,69.24 446.00,69.23 446.19,69.21 446.38,69.20 446.56,69.19 446.75,69.17 446.94,69.16 447.12,69.15 447.31,69.14 447.50,69.12 447.68,69.11 447.87,69.10 448.06,69.09 448.24,69.08 448.43,69.07 448.62,69.05 448.80,69.04 448.99,69.03 449.18,69.02 449.36,69.01 449.55,69.00 449.74,68.99 449.92,68.97 450.11,68.96 450.30,68.95 450.48,68.94 450.67,68.93 450.86,68.92 451.04,68.90 451.23,68.89 451.42,68.88 451.60,68.87 451.79,68.86 451.98,68.85 452.16,68.83 452.35,68.82 452.54,68.81 452.72,68.80 452.91,68.79 453.10,68.78 453.28,68.77 453.47,68.76 453.66,68.75 453.84,68.74 454.03,68.73 454.22,68.72 454.40,68.71 454.59,68.70 454.78,68.69 454.96,68.68 455.15,68.67 455.34,68.66 455.52,68.65 455.71,68.64 455.90,68.64 456.08,68.63 456.27,68.62 456.46,68.61 456.64,68.60 456.83,68.59 457.02,68.59 457.20,68.58 457.39,68.57 457.58,68.56 457.76,68.56 457.95,68.55 458.14,68.54 458.32,68.53 458.51,68.53 458.70,68.52 458.88,68.51 459.07,68.50 459.26,68.50 459.44,68.49 459.63,68.48 459.82,68.47 460.00,68.47 460.19,68.46 460.38,68.45 460.56,68.45 460.75,68.44 460.94,68.43 461.12,68.42 461.31,68.42 461.50,68.41 461.68,68.40 461.87,68.40 462.06,68.39 462.24,68.38 462.43,68.38 462.62,68.37 462.80,68.37 462.99,68.36 463.18,68.35 463.36,68.35 463.55,68.34 463.74,68.33 463.92,68.33 464.11,68.32 464.30,68.31 464.48,68.31 464.67,68.30 464.86,68.30 465.04,68.29 465.23,68.28 465.42,68.28 465.60,68.27 465.79,68.27 465.98,68.26 466.16,68.25 466.35,68.25 466.54,68.24 466.72,68.24 466.91,68.23 467.10,68.22 467.28,68.22 467.47,68.21 467.66,68.21 467.84,68.20 468.03,68.20 468.22,68.19 468.40,68.18 468.59,68.18 468.78,68.17 468.96,68.17 469.15,68.16 469.34,68.16 469.52,68.15 469.71,68.15 469.90,68.14 470.08,68.13 470.27,68.13 470.46,68.12 470.64,68.12 470.83,68.11 471.02,68.11 471.20,68.10 471.39,68.10 471.58,68.09 471.76,68.08 471.95,68.08 472.14,68.07 472.32,68.07 472.51,68.06 472.70,68.06 472.88,68.05 473.07,68.05 473.26,68.04 473.44,68.04 473.63,68.03 473.82,68.03 474.00,68.02 474.19,68.01 474.38,68.01 474.56,68.00 474.75,68.00 474.94,67.99 475.12,67.99 475.31,67.98 475.50,67.98 475.68,67.97 475.87,67.96 476.06,67.96 476.24,67.95 476.43,67.95 476.62,67.94 476.80,67.94 476.99,67.93 477.18,67.92 477.36,67.92 477.55,67.91 477.74,67.91 477.92,67.90 478.11,67.89 478.30,67.89 478.48,67.88 478.67,67.88 478.86,67.87 479.04,67.86 479.23,67.86 479.42,67.85 479.60,67.84 479.79,67.84 479.98,67.83 480.16,67.83 480.35,67.82 480.54,67.81 480.72,67.81 480.91,67.80 481.10,67.79 481.28,67.79 481.47,67.78 481.66,67.78 481.84,67.77 482.03,67.76 482.22,67.76 482.40,67.75 482.59,67.74 482.78,67.74 482.96,67.73 483.15,67.73 483.34,67.72 483.52,67.71 483.71,67.71 483.90,67.70 484.08,67.69 484.27,67.69 484.46,67.68 484.64,67.68 484.83,67.67 485.02,67.66 485.20,67.66 485.39,67.65 485.58,67.65 485.76,67.64 485.95,67.63 486.14,67.63 486.32,67.62 486.51,67.62 486.70,67.61 486.88,67.61 487.07,67.60 487.26,67.59 487.44,67.59 487.63,67.58 487.82,67.58 488.00,67.57 488.19,67.57 488.38,67.56 488.56,67.56 488.75,67.55 488.94,67.54 489.12,67.54 489.31,67.53 489.50,67.53 489.68,67.52 489.87,67.52 490.06,67.51 490.24,67.51 490.43,67.50 490.62,67.50 490.80,67.50 490.99,67.49 491.18,67.49 491.36,67.48 491.55,67.48 491.74,67.47 491.92,67.47 492.11,67.46 492.30,67.46 492.48,67.46 492.67,67.45 492.86,67.45 493.04,67.45 493.23,67.44 493.42,67.44 493.60,67.43 493.79,67.43 493.98,67.43 494.16,67.42 494.35,67.42 494.54,67.42 494.72,67.41 494.91,67.41 495.10,67.41 495.28,67.41 495.47,67.40 495.66,67.40 495.84,67.40 496.03,67.40 496.22,67.39 496.40,67.39 496.59,67.39 496.78,67.39 496.96,67.39 497.15,67.38 497.34,67.38 497.52,67.38 497.71,67.38 497.90,67.38 498.08,67.38 498.27,67.38 498.46,67.38 498.64,67.37 498.83,67.37 499.02,67.37 499.20,67.37 499.39,67.37 499.58,67.37 499.76,67.37 499.95,67.37 500.14,67.37 500.32,67.37 500.51,67.37 500.70,67.37 500.88,67.37 501.07,67.37 501.26,67.37 501.44,67.37 501.63,67.37 501.82,67.37 502.00,67.37 502.19,67.37 502.38,67.37 502.56,67.37 502.75,67.37 502.94,67.37 503.12,67.37 503.31,67.37 503.50,67.37 503.68,67.37 503.87,67.37 504.06,67.37 504.24,67.37 504.43,67.37 504.62,67.37 504.80,67.37 504.99,67.37 505.18,67.37 505.36,67.37 505.55,67.37 505.74,67.37 505.92,67.37 506.11,67.37 506.30,67.37 506.48,67.37 506.67,67.37 506.86,67.37 507.04,67.37 507.23,67.37 507.42,67.37 507.60,67.37 507.79,67.37 507.98,67.37 508.16,67.37 508.35,67.37 508.54,67.37 508.72,67.37 508.91,67.37 509.10,67.37 509.28,67.37 509.47,67.37 509.66,67.37 509.84,67.37 510.03,67.37 510.22,67.37 510.40,67.37 510.59,67.37 510.78,67.37 510.96,67.37 511.15,67.37 511.34,67.37 511.52,67.37 511.71,67.37 511.90,67.37 512.08,67.37 512.27,67.37 512.46,67.37 512.64,67.37 512.83,67.37 513.02,67.37 513.20,67.37 513.39,67.37 513.58,67.37 513.76,67.37 513.95,67.37 514.14,67.37 514.32,67.37 514.51,67.37 514.70,67.37 514.88,67.37 515.07,67.37 515.26,67.37 515.44,67.37 515.63,67.37 515.82,67.37 516.00,67.37 516.19,67.37 516.38,67.37 516.56,67.37 516.75,67.37 516.94,67.37 517.12,67.37 517.31,67.37 517.50,67.37 517.68,67.37 517.87,67.37 518.06,67.37 518.24,67.37 518.43,67.37 518.62,67.37 518.80,67.37 518.99,67.37 519.18,67.37 519.36,67.37 519.55,67.37 519.74,67.37 519.92,67.37 520.11,67.37 520.30,67.37 520.48,67.37 520.67,67.37 520.86,67.37 521.04,67.37 521.23,67.37 521.42,67.37 521.60,67.37 521.79,67.37 521.98,67.37 522.16,67.37 522.35,67.37 522.54,67.37 522.72,67.37 522.91,67.37 523.10,67.37 523.28,67.37 523.47,67.37 523.66,67.37 523.84,67.37 524.03,67.37 524.22,67.37 524.40,67.37 524.59,67.37 524.78,67.37 524.96,67.37 525.15,67.37 525.34,67.37 525.52,67.37 525.71,67.37 525.90,67.37 526.08,67.37 526.27,67.37 526.46,67.37 526.64,67.37 526.83,67.37 527.02,67.37 527.20,67.37 527.39,67.37 527.58,67.37 527.76,67.37 527.95,67.37 528.14,67.37 528.32,67.37 528.51,67.37 528.70,67.37 528.88,67.37 529.07,67.37 529.26,67.37 529.44,67.37 529.63,67.37 529.82,67.37 530.00,67.37 530.19,67.37 530.38,67.37 530.56,67.37 530.75,67.37 530.94,67.37 531.12,67.37 531.31,67.37 531.50,67.37 531.68,67.37 531.87,67.37 532.06,67.37 532.24,67.37 532.43,67.37 532.62,67.37 532.80,67.37 532.99,67.37 533.18,67.37 533.36,67.37 533.55,67.37 533.74,67.37 533.92,67.37 534.11,67.37 534.30,67.37 534.48,67.37 534.67,67.37 534.86,67.37 535.04,67.37 535.23,67.37 535.42,67.37 535.60,67.37 535.79,67.37 535.98,67.37 536.16,67.37 536.35,67.37 536.54,67.37 536.72,67.37 536.91,67.37 537.10,67.37 537.28,67.37 537.47,67.37 537.65,67.37 537.84,67.37 538.03,67.37 538.21,67.37 538.40,67.37 538.59,67.37 538.77,67.37 538.96,67.37 539.15,67.37 539.33,67.37 539.52,67.37 539.71,67.37 539.89,67.37 540.08,67.37 540.27,67.37 540.45,67.37 540.64,67.37 540.83,67.37 541.01,67.37 541.20,67.37 541.39,67.37 541.57,67.37 541.76,67.37 541.95,67.37 542.13,67.37 542.32,67.37 542.51,67.37 542.69,67.37 542.88,67.37 543.07,67.37 543.25,67.37 543.44,67.37 543.63,67.37 543.81,67.37 544.00,67.37 544.19,67.37 544.37,67.37 544.56,67.37 544.75,67.37 544.93,67.37 545.12,67.37 545.31,67.37 545.49,67.37 545.68,67.37 545.87,67.37 546.05,67.37 546.24,67.37 546.43,67.37 546.61,67.37 546.80,67.37 546.99,67.37 547.17,67.37 547.36,67.37 547.55,67.37 547.73,67.37 547.92,67.37 548.11,67.37 548.29,67.37 548.48,67.37 548.67,67.37 548.85,67.37 549.04,67.37 549.23,67.37 549.41,67.37 549.60,67.37 549.79,67.37 549.97,67.37 550.16,67.37 550.35,67.37 550.53,67.37 550.72,67.37 550.91,67.37 551.09,67.37 551.28,67.37 551.47,67.37 551.65,67.37 551.84,67.37 552.03,67.37 552.21,67.37 552.40,67.37 552.59,67.37 552.77,67.37 552.96,67.37 553.15,67.37 553.33,67.37 553.52,67.37 553.71,67.37 553.89,67.37 554.08,67.37 554.27,67.37 554.45,67.37 554.64,67.37 554.83,67.37 555.01,67.37 555.20,67.37 555.39,67.37 555.57,67.37 555.76,67.37 555.95,67.37 556.13,67.37 556.32,67.37 556.51,67.37 556.69,67.37 556.88,67.37 557.07,67.37 557.25,67.37 557.44,67.37 557.63,67.37 557.81,67.37 558.00,67.37 558.19,67.37 558.37,67.37 558.56,67.37 558.75,67.37 558.93,67.37 559.12,67.37 559.31,67.37 559.49,67.37 559.68,67.37 559.87,67.37 560.05,67.37 560.24,67.37 560.43,67.37 560.61,67.37 560.80,67.37 560.99,67.37 561.17,67.37 561.36,67.37 561.55,67.37 561.73,67.37 561.92,67.37 562.11,67.37 562.29,67.37 562.48,67.37 562.67,67.37 562.85,67.37 563.04,67.37 563.23,67.37 563.41,67.37 563.60,67.37 563.79,67.37 563.97,67.37 564.16,67.37 564.35,67.37 564.53,67.37 564.72,67.37 564.91,67.37 565.09,67.38 565.28,67.38 565.47,67.38 565.65,67.38 565.84,67.38 566.03,67.38 566.21,67.38 566.40,67.38 566.59,67.38 566.77,67.38 566.96,67.38 567.15,67.38 567.33,67.38 567.52,67.38 567.71,67.38 567.89,67.38 568.08,67.38 568.27,67.38 568.45,67.38 568.64,67.38 568.83,67.38 569.01,67.38 569.20,67.38 569.39,67.38 569.57,67.38 569.76,67.38 569.95,67.38 570.13,67.38 570.32,67.38 570.51,67.38 570.69,67.38 570.88,67.39 571.07,67.39 571.25,67.39 571.44,67.39 571.63,67.39 571.81,67.39 572.00,67.39 572.19,67.39 572.37,67.39 572.56,67.39 572.75,67.39 572.93,67.39 573.12,67.39 573.31,67.39 573.49,67.39 573.68,67.39 573.87,67.39 574.05,67.39 574.24,67.39 574.43,67.39 574.61,67.40 574.80,67.40 574.99,67.40 575.17,67.40 575.36,67.40 575.55,67.40 575.73,67.40 575.92,67.40 576.11,67.40 576.29,67.40 576.48,67.40 576.67,67.40 576.85,67.40 577.04,67.40 577.23,67.40 577.41,67.40 577.60,67.41 577.79,67.41 577.97,67.41 578.16,67.41 578.35,67.41 578.53,67.41 578.72,67.41 578.91,67.41 579.09,67.41 579.28,67.41 579.47,67.41 579.65,67.41 579.84,67.41 580.03,67.41 580.21,67.41 580.40,67.42 580.59,67.42 580.77,67.42 580.96,67.42 581.15,67.42 581.33,67.42 581.52,67.42 581.71,67.42 581.89,67.42 582.08,67.42 582.27,67.42 582.45,67.42 582.64,67.42 582.83,67.43 583.01,67.43 583.20,67.43 583.39,67.43 583.57,67.43 583.76,67.43 583.95,67.43 584.13,67.43 584.32,67.43 584.51,67.43 584.69,67.43 584.88,67.43 585.07,67.44 585.25,67.44 585.44,67.44 585.63,67.44 585.81,67.44 586.00,67.44 586.19,67.44 586.37,67.44 586.56,67.44 586.75,67.44 586.93,67.44 587.12,67.45 587.31,67.45 587.49,67.45 587.68,67.45 587.87,67.45 588.05,67.45 588.24,67.45 588.43,67.45 588.61,67.45 588.80,67.45 588.99,67.45 589.17,67.46 589.36,67.46 589.55,67.46 589.73,67.46 589.92,67.46 590.11,67.46 590.29,67.46 590.48,67.46 590.67,67.46 590.85,67.46 591.04,67.47 591.23,67.47 591.41,67.47 591.60,67.47 591.79,67.47 591.97,67.47 592.16,67.47 592.35,67.47 592.53,67.47 592.72,67.47 592.91,67.48 593.09,67.48 593.28,67.48 593.47,67.48 593.65,67.48 593.84,67.48 594.03,67.48 594.21,67.48 594.40,67.48 594.59,67.48 594.77,67.49 594.96,67.49 595.15,67.49 595.33,67.49 595.52,67.49 595.71,67.49 595.89,67.49 596.08,67.49 596.27,67.49 596.45,67.50 596.64,67.50 596.83,67.50 597.01,67.50 597.20,67.50 597.39,67.50 597.57,67.50 597.76,67.50 597.95,67.50 598.13,67.50 598.32,67.51 598.51,67.51 598.69,67.51 598.88,67.51 599.07,67.51 599.25,67.51 599.44,67.51 599.63,67.51 599.81,67.51 600.00,67.52 600.19,67.52 600.37,67.52 600.56,67.52 600.75,67.52 600.93,67.52 601.12,67.52 601.31,67.52 601.49,67.52 601.68,67.53 601.87,67.53 602.05,67.53 602.24,67.53 602.43,67.53 602.61,67.53 602.80,67.53 602.99,67.53 603.17,67.54 603.36,67.54 603.55,67.54 603.73,67.54 603.92,67.54 604.11,67.54 604.29,67.54 604.48,67.54 604.67,67.55 604.85,67.55 605.04,67.55 605.23,67.55 605.41,67.55 605.60,67.55 605.79,67.56 605.97,67.56 606.16,67.56 606.35,67.56 606.53,67.56 606.72,67.56 606.91,67.57 607.09,67.57 607.28,67.57 607.47,67.57 607.65,67.57 607.84,67.58 608.03,67.58 608.21,67.58 608.40,67.58 608.59,67.58 608.77,67.59 608.96,67.59 609.15,67.59 609.33,67.59 609.52,67.59 609.71,67.60 609.89,67.60 610.08,67.60 610.27,67.60 610.45,67.61 610.64,67.61 610.83,67.61 611.01,67.61 611.20,67.61 611.39,67.62 611.57,67.62 611.76,67.62 611.95,67.62 612.13,67.63 612.32,67.63 612.51,67.63 612.69,67.63 612.88,67.64 613.07,67.64 613.25,67.64 613.44,67.65 613.63,67.65 613.81,67.65 614.00,67.65 614.19,67.66 614.37,67.66 614.56,67.66 614.75,67.67 614.93,67.67 615.12,67.67 615.31,67.67 615.49,67.68 615.68,67.68 615.87,67.68 616.05,67.69 616.24,67.69 616.43,67.69 616.61,67.70 616.80,67.70 616.99,67.70 617.17,67.70 617.36,67.71 617.55,67.71 617.73,67.71 617.92,67.72 618.11,67.72 618.29,67.72 618.48,67.73 618.67,67.73 618.85,67.73 619.04,67.74 619.23,67.74 619.41,67.74 619.60,67.75 619.79,67.75 619.97,67.75 620.16,67.76 620.35,67.76 620.53,67.77 620.72,67.77 620.91,67.77 621.09,67.78 621.28,67.78 621.47,67.78 621.65,67.79 621.84,67.79 622.03,67.79 622.21,67.80 622.40,67.80 622.59,67.81 622.77,67.81 622.96,67.81 623.15,67.82 623.33,67.82 623.52,67.82 623.71,67.83 623.89,67.83 624.08,67.84 624.27,67.84 624.45,67.84 624.64,67.85 624.83,67.85 625.01,67.86 625.20,67.86 625.39,67.86 625.57,67.87 625.76,67.87 625.95,67.88 626.13,67.88 626.32,67.88 626.51,67.89 626.69,67.89 626.88,67.90 627.07,67.90 627.25,67.90 627.44,67.91 627.63,67.91 627.81,67.92 628.00,67.92 628.19,67.93 628.37,67.93 628.56,67.93 628.75,67.94 628.93,67.94 629.12,67.95 629.31,67.95 629.49,67.96 629.68,67.96 629.87,67.96 630.05,67.97 630.24,67.97 630.43,67.98 630.61,67.98 630.80,67.99 630.98,67.99 631.17,68.00 631.36,68.00 631.54,68.00 631.73,68.01 631.92,68.01 632.10,68.02 632.29,68.02 632.48,68.03 632.66,68.03 632.85,68.04 633.04,68.04 633.22,68.05 633.41,68.05 633.60,68.06 633.78,68.06 633.97,68.06 634.16,68.07 634.34,68.07 634.53,68.08 634.72,68.08 634.90,68.09 635.09,68.09 635.28,68.10 635.46,68.10 635.65,68.11 635.84,68.11 636.02,68.12 636.21,68.12 636.40,68.13 636.58,68.13 636.77,68.14 636.96,68.14 637.14,68.15 637.33,68.15 637.52,68.15 637.70,68.16 637.89,68.16 638.08,68.17 638.26,68.17 638.45,68.18 638.64,68.18 638.82,68.19 639.01,68.19 639.20,68.20 639.38,68.20 639.57,68.21 639.76,68.21 639.94,68.22 640.13,68.22 640.32,68.23 640.50,68.23 640.69,68.24 640.88,68.24 641.06,68.25 641.25,68.25 641.44,68.26 641.62,68.26 641.81,68.27 642.00,68.27 642.18,68.28 642.37,68.28 642.56,68.29 642.74,68.29 642.93,68.30 643.12,68.30 643.30,68.31 643.49,68.31 643.68,68.32 643.86,68.33 644.05,68.33 644.24,68.34 644.42,68.34 644.61,68.35 644.80,68.35 644.98,68.36 645.17,68.36 645.36,68.37 645.54,68.37 645.73,68.38 645.92,68.38 646.10,68.39 646.29,68.39 646.48,68.40 646.66,68.40 646.85,68.41 647.04,68.41 647.22,68.42 647.41,68.42 647.60,68.43 647.78,68.43 647.97,68.44 648.16,68.44 648.34,68.45 648.53,68.45 648.72,68.46 648.90,68.47 649.09,68.47 649.28,68.48 649.46,68.48 649.65,68.49 649.84,68.49 650.02,68.50 650.21,68.50 650.40,68.51 650.58,68.51 650.77,68.52 650.96,68.52 651.14,68.53 651.33,68.53 651.52,68.54 651.70,68.54 651.89,68.55 652.08,68.55 652.26,68.56 652.45,68.57 652.64,68.57 652.82,68.58 653.01,68.58 653.20,68.59 653.38,68.59 653.57,68.60 653.76,68.60 653.94,68.61 654.13,68.61 654.32,68.62 654.50,68.62 654.69,68.63 654.88,68.63 655.06,68.64 655.25,68.64 655.44,68.65 655.62,68.65 655.81,68.66 656.00,68.67 656.18,68.67 656.37,68.68 656.56,68.68 656.74,68.69 656.93,68.69 657.12,68.70 657.30,68.70 657.49,68.71 657.68,68.71 657.86,68.72 658.05,68.72 658.24,68.73 658.42,68.73 658.61,68.74 658.80,68.74 658.98,68.75 659.17,68.75 659.36,68.76 659.54,68.76 659.73,68.77 659.92,68.78 660.10,68.78 660.29,68.79 660.48,68.79 660.66,68.80 660.85,68.80 661.04,68.81 661.22,68.81 661.41,68.82 661.60,68.82 661.78,68.83 661.97,68.83 662.16,68.84 662.34,68.84 662.53,68.85 662.72,68.85 662.90,68.86 663.09,68.86 663.28,68.87 663.46,68.87 663.65,68.88 663.84,68.88 664.02,68.89 664.21,68.89 664.40,68.90 664.58,68.90 664.77,68.91 664.96,68.91 665.14,68.92 665.33,68.92 665.52,68.93 665.70,68.93 665.89,68.94 666.08,68.94 666.26,68.95 666.45,68.95 666.64,68.96 666.82,68.96 667.01,68.97 667.20,68.97 667.38,68.98 667.57,68.98 667.76,68.99 667.94,68.99 668.13,69.00 668.32,69.00 668.50,69.01 668.69,69.01 668.88,69.02 669.06,69.02 669.25,69.03 669.44,69.03 669.62,69.04 669.81,69.04 670.00,69.05 670.18,69.05 670.37,69.06 670.56,69.06 670.74,69.07 670.93,69.07 671.12,69.08 671.30,69.08 671.49,69.09 671.68,69.09 671.86,69.10 672.05,69.10 672.24,69.11 672.42,69.11 672.61,69.11 672.80,69.12 672.98,69.12 673.17,69.13 673.36,69.13 673.54,69.14 673.73,69.14 673.92,69.15 674.10,69.15 674.29,69.16 674.48,69.16 674.66,69.17 674.85,69.17 675.04,69.17 675.22,69.18 675.41,69.18 675.60,69.19 675.78,69.19 675.97,69.20 676.16,69.20 676.34,69.21 676.53,69.21 676.72,69.21 676.90,69.22 677.09,69.22 677.28,69.23 677.46,69.23 677.65,69.24 677.84,69.24 678.02,69.25 678.21,69.25 678.40,69.25 678.58,69.26 678.77,69.26 678.96,69.27" fill="none" stroke="#0aa0f5" stroke-width="3.0" stroke-linejoin="round" stroke-linecap="round" stroke-dasharray="0 5.6" stroke-linecap="round"/>
<polyline points="396.63,226.47 396.82,224.06 397.01,221.79 397.19,219.66 397.38,217.63 397.57,215.71 397.75,213.86 397.94,212.08 398.13,210.35 398.31,208.65 398.50,206.97 398.69,205.29 398.87,203.60 399.06,201.88 399.25,200.12 399.43,198.30 399.62,196.40 399.81,194.41 399.99,192.31 400.18,190.09 400.37,187.73 400.55,185.22 400.74,182.54 400.93,179.68 401.11,176.61 401.30,173.33 401.49,169.81 401.67,166.05 401.86,162.02 402.05,157.72 402.23,153.12 402.42,147.86 402.61,139.88 402.79,129.09 402.98,115.79 403.17,100.25 403.35,82.76 403.54,58.78 403.73,21.90 403.91,14.50 404.10,14.50 404.29,14.50 404.47,14.50 404.66,14.50 404.85,14.50 405.03,14.50 405.22,14.50 405.41,14.50 405.59,14.50 405.78,14.50 405.97,14.50 406.15,14.50 406.34,14.50 406.53,14.50 406.71,14.50 406.90,14.50 407.09,14.50 407.27,14.50 407.46,15.07 407.65,18.31 407.83,21.29 408.02,22.86 408.21,24.29 408.39,25.61 408.58,26.81 408.77,27.91 408.95,28.92 409.14,29.85 409.33,30.70 409.51,31.49 409.70,32.23 409.89,32.93 410.07,33.59 410.26,34.23 410.45,34.87 410.63,35.49 410.82,36.11 411.01,36.71 411.19,37.30 411.38,37.87 411.57,38.43 411.75,38.97 411.94,39.49 412.13,39.99 412.31,40.47 412.50,40.92 412.69,41.35 412.87,41.75 413.06,42.12 413.25,42.46 413.43,42.76 413.62,43.03 413.81,43.27 413.99,43.47 414.18,43.63 414.37,43.76 414.55,43.87 414.74,43.98 414.93,44.08 415.11,44.18 415.30,44.27 415.49,44.36 415.67,44.44 415.86,44.52 416.05,44.59 416.23,44.66 416.42,44.73 416.61,44.79 416.79,44.85 416.98,44.91 417.17,44.97 417.35,45.02 417.54,45.07 417.73,45.12 417.91,45.17 418.10,45.22 418.29,45.27 418.47,45.32 418.66,45.37 418.85,45.41 419.03,45.46 419.22,45.51 419.41,45.57 419.59,45.62 419.78,45.67 419.97,45.73 420.15,45.78 420.34,45.84 420.53,45.89 420.71,45.95 420.90,46.00 421.09,46.06 421.27,46.11 421.46,46.16 421.65,46.22 421.83,46.27 422.02,46.32 422.21,46.37 422.39,46.42 422.58,46.47 422.77,46.52 422.95,46.56 423.14,46.61 423.33,46.65 423.51,46.69 423.70,46.73 423.89,46.77 424.07,46.81 424.26,46.84 424.45,46.87 424.63,46.90 424.82,46.93 425.01,46.95 425.19,46.98 425.38,47.00 425.57,47.01 425.75,47.03 425.94,47.04 426.13,47.06 426.31,47.07 426.50,47.09 426.69,47.10 426.87,47.11 427.06,47.13 427.25,47.14 427.43,47.16 427.62,47.17 427.81,47.18 427.99,47.20 428.18,47.21 428.37,47.22 428.55,47.23 428.74,47.25 428.93,47.26 429.11,47.27 429.30,47.28 429.49,47.30 429.67,47.31 429.86,47.32 430.05,47.33 430.23,47.34 430.42,47.35 430.61,47.36 430.79,47.37 430.98,47.38 431.17,47.39 431.35,47.40 431.54,47.41 431.73,47.42 431.91,47.43 432.10,47.44 432.29,47.45 432.47,47.46 432.66,47.47 432.85,47.48 433.03,47.49 433.22,47.49 433.41,47.50 433.59,47.51 433.78,47.52 433.97,47.52 434.15,47.53 434.34,47.54 434.53,47.54 434.71,47.55 434.90,47.56 435.09,47.56 435.27,47.57 435.46,47.57 435.65,47.58 435.83,47.59 436.02,47.59 436.21,47.59 436.39,47.60 436.58,47.60 436.77,47.61 436.95,47.61 437.14,47.62 437.33,47.62 437.51,47.62 437.70,47.63 437.89,47.63 438.07,47.63 438.26,47.63 438.45,47.64 438.63,47.64 438.82,47.64 439.01,47.64 439.19,47.64 439.38,47.64 439.57,47.64 439.75,47.64 439.94,47.64 440.13,47.64 440.31,47.64 440.50,47.64 440.69,47.64 440.87,47.64 441.06,47.64 441.25,47.64 441.43,47.64 441.62,47.64 441.81,47.64 441.99,47.64 442.18,47.64 442.37,47.64 442.55,47.64 442.74,47.64 442.93,47.64 443.11,47.64 443.30,47.64 443.49,47.64 443.67,47.64 443.86,47.64 444.04,47.64 444.23,47.64 444.42,47.64 444.60,47.64 444.79,47.64 444.98,47.64 445.16,47.64 445.35,47.64 445.54,47.64 445.72,47.64 445.91,47.64 446.10,47.64 446.28,47.64 446.47,47.64 446.66,47.64 446.84,47.64 447.03,47.64 447.22,47.64 447.40,47.64 447.59,47.64 447.78,47.64 447.96,47.64 448.15,47.64 448.34,47.64 448.52,47.64 448.71,47.64 448.90,47.64 449.08,47.64 449.27,47.64 449.46,47.64 449.64,47.64 449.83,47.64 450.02,47.64 450.20,47.64 450.39,47.64 450.58,47.64 450.76,47.64 450.95,47.64 451.14,47.64 451.32,47.64 451.51,47.64 451.70,47.64 451.88,47.64 452.07,47.64 452.26,47.64 452.44,47.64 452.63,47.64 452.82,47.64 453.00,47.64 453.19,47.64 453.38,47.64 453.56,47.64 453.75,47.64 453.94,47.64 454.12,47.64 454.31,47.64 454.50,47.64 454.68,47.64 454.87,47.64 455.06,47.64 455.24,47.64 455.43,47.64 455.62,47.64 455.80,47.64 455.99,47.64 456.18,47.64 456.36,47.64 456.55,47.64 456.74,47.64 456.92,47.64 457.11,47.64 457.30,47.64 457.48,47.64 457.67,47.64 457.86,47.64 458.04,47.64 458.23,47.64 458.42,47.64 458.60,47.64 458.79,47.64 458.98,47.64 459.16,47.64 459.35,47.64 459.54,47.64 459.72,47.64 459.91,47.64 460.10,47.64 460.28,47.64 460.47,47.64 460.66,47.64 460.84,47.64 461.03,47.64 461.22,47.64 461.40,47.64 461.59,47.64 461.78,47.64 461.96,47.64 462.15,47.64 462.34,47.64 462.52,47.64 462.71,47.64 462.90,47.64 463.08,47.64 463.27,47.64 463.46,47.64 463.64,47.64 463.83,47.64 464.02,47.64 464.20,47.64 464.39,47.64 464.58,47.64 464.76,47.64 464.95,47.64 465.14,47.64 465.32,47.64 465.51,47.64 465.70,47.64 465.88,47.64 466.07,47.64 466.26,47.64 466.44,47.64 466.63,47.64 466.82,47.64 467.00,47.64 467.19,47.64 467.38,47.64 467.56,47.64 467.75,47.64 467.94,47.64 468.12,47.64 468.31,47.64 468.50,47.64 468.68,47.64 468.87,47.64 469.06,47.64 469.24,47.64 469.43,47.64 469.62,47.64 469.80,47.64 469.99,47.64 470.18,47.64 470.36,47.64 470.55,47.64 470.74,47.64 470.92,47.64 471.11,47.64 471.30,47.64 471.48,47.64 471.67,47.64 471.86,47.64 472.04,47.64 472.23,47.64 472.42,47.64 472.60,47.64 472.79,47.64 472.98,47.64 473.16,47.64 473.35,47.64 473.54,47.64 473.72,47.64 473.91,47.64 474.10,47.64 474.28,47.64 474.47,47.64 474.66,47.64 474.84,47.64 475.03,47.64 475.22,47.64 475.40,47.64 475.59,47.64 475.78,47.64 475.96,47.64 476.15,47.64 476.34,47.64 476.52,47.64 476.71,47.64 476.90,47.64 477.08,47.64 477.27,47.64 477.46,47.64 477.64,47.64 477.83,47.64 478.02,47.64 478.20,47.64 478.39,47.64 478.58,47.64 478.76,47.64 478.95,47.64 479.14,47.64 479.32,47.64 479.51,47.64 479.70,47.64 479.88,47.64 480.07,47.64 480.26,47.64 480.44,47.64 480.63,47.64 480.82,47.64 481.00,47.64 481.19,47.64 481.38,47.64 481.56,47.64 481.75,47.64 481.94,47.64 482.12,47.64 482.31,47.64 482.50,47.64 482.68,47.64 482.87,47.64 483.06,47.64 483.24,47.64 483.43,47.64 483.62,47.64 483.80,47.64 483.99,47.64 484.18,47.64 484.36,47.64 484.55,47.64 484.74,47.64 484.92,47.64 485.11,47.64 485.30,47.64 485.48,47.64 485.67,47.64 485.86,47.64 486.04,47.64 486.23,47.64 486.42,47.64 486.60,47.64 486.79,47.64 486.98,47.64 487.16,47.64 487.35,47.64 487.54,47.64 487.72,47.64 487.91,47.64 488.10,47.64 488.28,47.64 488.47,47.64 488.66,47.64 488.84,47.64 489.03,47.64 489.22,47.64 489.40,47.64 489.59,47.64 489.78,47.64 489.96,47.64 490.15,47.64 490.34,47.64 490.52,47.64 490.71,47.64 490.90,47.64 491.08,47.64 491.27,47.64 491.46,47.64 491.64,47.64 491.83,47.64 492.02,47.64 492.20,47.64 492.39,47.64 492.58,47.64 492.76,47.64 492.95,47.64 493.14,47.64 493.32,47.64 493.51,47.64 493.70,47.64 493.88,47.64 494.07,47.64 494.26,47.64 494.44,47.64 494.63,47.64 494.82,47.64 495.00,47.64 495.19,47.64 495.38,47.64 495.56,47.64 495.75,47.64 495.94,47.64 496.12,47.64 496.31,47.64 496.50,47.64 496.68,47.64 496.87,47.64 497.06,47.64 497.24,47.64 497.43,47.64 497.62,47.64 497.80,47.64 497.99,47.64 498.18,47.64 498.36,47.64 498.55,47.64 498.74,47.64 498.92,47.64 499.11,47.64 499.30,47.64 499.48,47.64 499.67,47.64 499.86,47.64 500.04,47.64 500.23,47.64 500.42,47.64 500.60,47.64 500.79,47.64 500.98,47.64 501.16,47.64 501.35,47.64 501.54,47.64 501.72,47.64 501.91,47.64 502.10,47.64 502.28,47.64 502.47,47.64 502.66,47.64 502.84,47.64 503.03,47.65 503.22,47.65 503.40,47.65 503.59,47.65 503.78,47.65 503.96,47.65 504.15,47.65 504.34,47.65 504.52,47.65 504.71,47.65 504.90,47.65 505.08,47.65 505.27,47.65 505.46,47.65 505.64,47.65 505.83,47.65 506.02,47.65 506.20,47.65 506.39,47.65 506.58,47.65 506.76,47.65 506.95,47.65 507.14,47.65 507.32,47.65 507.51,47.65 507.70,47.65 507.88,47.65 508.07,47.65 508.26,47.65 508.44,47.65 508.63,47.65 508.82,47.65 509.00,47.65 509.19,47.66 509.38,47.66 509.56,47.66 509.75,47.66 509.94,47.66 510.12,47.66 510.31,47.66 510.50,47.66 510.68,47.66 510.87,47.66 511.06,47.66 511.24,47.66 511.43,47.66 511.62,47.66 511.80,47.66 511.99,47.66 512.18,47.66 512.36,47.66 512.55,47.66 512.74,47.67 512.92,47.67 513.11,47.67 513.30,47.67 513.48,47.67 513.67,47.67 513.86,47.67 514.04,47.67 514.23,47.67 514.42,47.67 514.60,47.67 514.79,47.67 514.98,47.67 515.16,47.67 515.35,47.68 515.54,47.68 515.72,47.68 515.91,47.68 516.10,47.68 516.28,47.68 516.47,47.68 516.66,47.68 516.84,47.68 517.03,47.68 517.22,47.68 517.40,47.68 517.59,47.68 517.78,47.69 517.96,47.69 518.15,47.69 518.34,47.69 518.52,47.69 518.71,47.69 518.90,47.69 519.08,47.69 519.27,47.69 519.46,47.69 519.64,47.69 519.83,47.70 520.02,47.70 520.20,47.70 520.39,47.70 520.58,47.70 520.76,47.70 520.95,47.70 521.14,47.70 521.32,47.70 521.51,47.70 521.70,47.71 521.88,47.71 522.07,47.71 522.26,47.71 522.44,47.71 522.63,47.71 522.82,47.71 523.00,47.71 523.19,47.71 523.38,47.72 523.56,47.72 523.75,47.72 523.94,47.72 524.12,47.72 524.31,47.72 524.50,47.72 524.68,47.72 524.87,47.73 525.06,47.73 525.24,47.73 525.43,47.73 525.62,47.73 525.80,47.73 525.99,47.73 526.18,47.73 526.36,47.73 526.55,47.74 526.74,47.74 526.92,47.74 527.11,47.74 527.30,47.74 527.48,47.74 527.67,47.74 527.86,47.75 528.04,47.75 528.23,47.75 528.42,47.75 528.60,47.75 528.79,47.75 528.98,47.75 529.16,47.76 529.35,47.76 529.54,47.76 529.72,47.76 529.91,47.76 530.10,47.76 530.28,47.76 530.47,47.77 530.66,47.77 530.84,47.77 531.03,47.77 531.22,47.77 531.40,47.77 531.59,47.77 531.78,47.78 531.96,47.78 532.15,47.78 532.34,47.78 532.52,47.78 532.71,47.78 532.90,47.79 533.08,47.79 533.27,47.79 533.46,47.79 533.64,47.79 533.83,47.79 534.02,47.79 534.20,47.80 534.39,47.80 534.58,47.80 534.76,47.80 534.95,47.80 535.14,47.81 535.32,47.81 535.51,47.81 535.70,47.81 535.88,47.81 536.07,47.81 536.26,47.82 536.44,47.82 536.63,47.82 536.82,47.82 537.00,47.82 537.19,47.82 537.37,47.83 537.56,47.83 537.75,47.83 537.93,47.83 538.12,47.83 538.31,47.84 538.49,47.84 538.68,47.84 538.87,47.84 539.05,47.84 539.24,47.84 539.43,47.85 539.61,47.85 539.80,47.85 539.99,47.85 540.17,47.85 540.36,47.86 540.55,47.86 540.73,47.86 540.92,47.86 541.11,47.86 541.29,47.87 541.48,47.87 541.67,47.87 541.85,47.87 542.04,47.87 542.23,47.88 542.41,47.88 542.60,47.88 542.79,47.88 542.97,47.88 543.16,47.89 543.35,47.89 543.53,47.89 543.72,47.89 543.91,47.89 544.09,47.90 544.28,47.90 544.47,47.90 544.65,47.90 544.84,47.91 545.03,47.91 545.21,47.91 545.40,47.91 545.59,47.91 545.77,47.92 545.96,47.92 546.15,47.92 546.33,47.92 546.52,47.93 546.71,47.93 546.89,47.93 547.08,47.93 547.27,47.93 547.45,47.94 547.64,47.94 547.83,47.94 548.01,47.94 548.20,47.95 548.39,47.95 548.57,47.95 548.76,47.95 548.95,47.96 549.13,47.96 549.32,47.96 549.51,47.96 549.69,47.96 549.88,47.97 550.07,47.97 550.25,47.97 550.44,47.97 550.63,47.98 550.81,47.98 551.00,47.98 551.19,47.98 551.37,47.99 551.56,47.99 551.75,47.99 551.93,47.99 552.12,48.00 552.31,48.00 552.49,48.00 552.68,48.00 552.87,48.01 553.05,48.01 553.24,48.01 553.43,48.01 553.61,48.02 553.80,48.02 553.99,48.02 554.17,48.02 554.36,48.03 554.55,48.03 554.73,48.03 554.92,48.04 555.11,48.04 555.29,48.04 555.48,48.04 555.67,48.05 555.85,48.05 556.04,48.05 556.23,48.05 556.41,48.06 556.60,48.06 556.79,48.06 556.97,48.06 557.16,48.07 557.35,48.07 557.53,48.07 557.72,48.08 557.91,48.08 558.09,48.08 558.28,48.08 558.47,48.09 558.65,48.09 558.84,48.09 559.03,48.10 559.21,48.10 559.40,48.10 559.59,48.10 559.77,48.11 559.96,48.11 560.15,48.11 560.33,48.12 560.52,48.12 560.71,48.12 560.89,48.13 561.08,48.13 561.27,48.13 561.45,48.14 561.64,48.15 561.83,48.15 562.01,48.16 562.20,48.16 562.39,48.17 562.57,48.18 562.76,48.19 562.95,48.19 563.13,48.20 563.32,48.21 563.51,48.22 563.69,48.23 563.88,48.24 564.07,48.25 564.25,48.26 564.44,48.27 564.63,48.29 564.81,48.30 565.00,48.31 565.19,48.32 565.37,48.34 565.56,48.35 565.75,48.36 565.93,48.38 566.12,48.39 566.31,48.40 566.49,48.42 566.68,48.43 566.87,48.45 567.05,48.47 567.24,48.48 567.43,48.50 567.61,48.52 567.80,48.53 567.99,48.55 568.17,48.57 568.36,48.59 568.55,48.60 568.73,48.62 568.92,48.64 569.11,48.66 569.29,48.68 569.48,48.70 569.67,48.72 569.85,48.74 570.04,48.76 570.23,48.78 570.41,48.80 570.60,48.82 570.79,48.84 570.97,48.86 571.16,48.88 571.35,48.91 571.53,48.93 571.72,48.95 571.91,48.97 572.09,49.00 572.28,49.02 572.47,49.04 572.65,49.06 572.84,49.09 573.03,49.11 573.21,49.14 573.40,49.16 573.59,49.18 573.77,49.21 573.96,49.23 574.15,49.26 574.33,49.28 574.52,49.31 574.71,49.33 574.89,49.36 575.08,49.38 575.27,49.41 575.45,49.43 575.64,49.46 575.83,49.49 576.01,49.51 576.20,49.54 576.39,49.56 576.57,49.59 576.76,49.62 576.95,49.64 577.13,49.67 577.32,49.70 577.51,49.72 577.69,49.75 577.88,49.78 578.07,49.81 578.25,49.83 578.44,49.86 578.63,49.89 578.81,49.92 579.00,49.94 579.19,49.97 579.37,50.00 579.56,50.03 579.75,50.05 579.93,50.08 580.12,50.11 580.31,50.14 580.49,50.17 580.68,50.19 580.87,50.22 581.05,50.25 581.24,50.28 581.43,50.31 581.61,50.33 581.80,50.36 581.99,50.39 582.17,50.42 582.36,50.45 582.55,50.48 582.73,50.50 582.92,50.53 583.11,50.56 583.29,50.59 583.48,50.62 583.67,50.64 583.85,50.67 584.04,50.70 584.23,50.73 584.41,50.76 584.60,50.78 584.79,50.81 584.97,50.84 585.16,50.87 585.35,50.89 585.53,50.92 585.72,50.95 585.91,50.98 586.09,51.00 586.28,51.03 586.47,51.06 586.65,51.09 586.84,51.11 587.03,51.14 587.21,51.17 587.40,51.19 587.59,51.22 587.77,51.25 587.96,51.27 588.15,51.30 588.33,51.32 588.52,51.35 588.71,51.38 588.89,51.40 589.08,51.43 589.27,51.45 589.45,51.48 589.64,51.50 589.83,51.53 590.01,51.55 590.20,51.58 590.39,51.60 590.57,51.63 590.76,51.65 590.95,51.68 591.13,51.70 591.32,51.72 591.51,51.75 591.69,51.77 591.88,51.79 592.07,51.82 592.25,51.84 592.44,51.86 592.63,51.88 592.81,51.91 593.00,51.93 593.19,51.95 593.37,51.97 593.56,51.99 593.75,52.01 593.93,52.03 594.12,52.05 594.31,52.08 594.49,52.10 594.68,52.12 594.87,52.13 595.05,52.15 595.24,52.17 595.43,52.19 595.61,52.21 595.80,52.23 595.99,52.25 596.17,52.26 596.36,52.28 596.55,52.30 596.73,52.32 596.92,52.33 597.11,52.35 597.29,52.36 597.48,52.38 597.67,52.40 597.85,52.41 598.04,52.42 598.23,52.44 598.41,52.45 598.60,52.47 598.79,52.48 598.97,52.49 599.16,52.51 599.35,52.52 599.53,52.53 599.72,52.54 599.91,52.55 600.09,52.57 600.28,52.58 600.47,52.59 600.65,52.60 600.84,52.61 601.03,52.62 601.21,52.63 601.40,52.64 601.59,52.65 601.77,52.67 601.96,52.68 602.15,52.69 602.33,52.70 602.52,52.71 602.71,52.72 602.89,52.73 603.08,52.74 603.27,52.75 603.45,52.76 603.64,52.77 603.83,52.78 604.01,52.79 604.20,52.80 604.39,52.81 604.57,52.82 604.76,52.83 604.95,52.84 605.13,52.85 605.32,52.86 605.51,52.87 605.69,52.88 605.88,52.89 606.07,52.90 606.25,52.91 606.44,52.92 606.63,52.92 606.81,52.93 607.00,52.94 607.19,52.95 607.37,52.96 607.56,52.97 607.75,52.98 607.93,52.99 608.12,53.00 608.31,53.00 608.49,53.01 608.68,53.02 608.87,53.03 609.05,53.04 609.24,53.05 609.43,53.06 609.61,53.06 609.80,53.07 609.99,53.08 610.17,53.09 610.36,53.10 610.55,53.11 610.73,53.11 610.92,53.12 611.11,53.13 611.29,53.14 611.48,53.15 611.67,53.15 611.85,53.16 612.04,53.17 612.23,53.18 612.41,53.18 612.60,53.19 612.79,53.20 612.97,53.21 613.16,53.22 613.35,53.22 613.53,53.23 613.72,53.24 613.91,53.25 614.09,53.25 614.28,53.26 614.47,53.27 614.65,53.28 614.84,53.28 615.03,53.29 615.21,53.30 615.40,53.30 615.59,53.31 615.77,53.32 615.96,53.33 616.15,53.33 616.33,53.34 616.52,53.35 616.71,53.35 616.89,53.36 617.08,53.37 617.27,53.38 617.45,53.38 617.64,53.39 617.83,53.40 618.01,53.40 618.20,53.41 618.39,53.42 618.57,53.42 618.76,53.43 618.95,53.44 619.13,53.45 619.32,53.45 619.51,53.46 619.69,53.47 619.88,53.47 620.07,53.48 620.25,53.49 620.44,53.49 620.63,53.50 620.81,53.51 621.00,53.51 621.19,53.52 621.37,53.53 621.56,53.53 621.75,53.54 621.93,53.55 622.12,53.55 622.31,53.56 622.49,53.57 622.68,53.57 622.87,53.58 623.05,53.59 623.24,53.59 623.43,53.60 623.61,53.61 623.80,53.61 623.99,53.62 624.17,53.63 624.36,53.63 624.55,53.64 624.73,53.65 624.92,53.66 625.11,53.66 625.29,53.67 625.48,53.68 625.67,53.68 625.85,53.69 626.04,53.70 626.23,53.70 626.41,53.71 626.60,53.72 626.79,53.72 626.97,53.73 627.16,53.74 627.35,53.74 627.53,53.75 627.72,53.76 627.91,53.77 628.09,53.77 628.28,53.78 628.47,53.79 628.65,53.79 628.84,53.80 629.03,53.81 629.21,53.81 629.40,53.82 629.59,53.83 629.77,53.84 629.96,53.84 630.15,53.85 630.33,53.86 630.52,53.87 630.70,53.87 630.89,53.88 631.08,53.89 631.26,53.89 631.45,53.90 631.64,53.91 631.82,53.92 632.01,53.92 632.20,53.93 632.38,53.94 632.57,53.95 632.76,53.96 632.94,53.96 633.13,53.97 633.32,53.98 633.50,53.99 633.69,53.99 633.88,54.00 634.06,54.01 634.25,54.02 634.44,54.03 634.62,54.03 634.81,54.04 635.00,54.05 635.18,54.06 635.37,54.07 635.56,54.07 635.74,54.08 635.93,54.09 636.12,54.10 636.30,54.11 636.49,54.12 636.68,54.12 636.86,54.13 637.05,54.14 637.24,54.15 637.42,54.16 637.61,54.17 637.80,54.18 637.98,54.19 638.17,54.19 638.36,54.20 638.54,54.21 638.73,54.22 638.92,54.23 639.10,54.24 639.29,54.25 639.48,54.26 639.66,54.27 639.85,54.28 640.04,54.29 640.22,54.30 640.41,54.31 640.60,54.32 640.78,54.32 640.97,54.33 641.16,54.34 641.34,54.35 641.53,54.36 641.72,54.37 641.90,54.38 642.09,54.39 642.28,54.40 642.46,54.41 642.65,54.42 642.84,54.43 643.02,54.44 643.21,54.45 643.40,54.46 643.58,54.47 643.77,54.48 643.96,54.49 644.14,54.50 644.33,54.51 644.52,54.52 644.70,54.53 644.89,54.54 645.08,54.55 645.26,54.56 645.45,54.58 645.64,54.59 645.82,54.60 646.01,54.61 646.20,54.62 646.38,54.63 646.57,54.64 646.76,54.65 646.94,54.66 647.13,54.67 647.32,54.68 647.50,54.69 647.69,54.70 647.88,54.71 648.06,54.72 648.25,54.73 648.44,54.74 648.62,54.76 648.81,54.77 649.00,54.78 649.18,54.79 649.37,54.80 649.56,54.81 649.74,54.82 649.93,54.83 650.12,54.84 650.30,54.85 650.49,54.86 650.68,54.88 650.86,54.89 651.05,54.90 651.24,54.91 651.42,54.92 651.61,54.93 651.80,54.94 651.98,54.95 652.17,54.96 652.36,54.98 652.54,54.99 652.73,55.00 652.92,55.01 653.10,55.02 653.29,55.03 653.48,55.04 653.66,55.05 653.85,55.07 654.04,55.08 654.22,55.09 654.41,55.10 654.60,55.11 654.78,55.12 654.97,55.13 655.16,55.15 655.34,55.16 655.53,55.17 655.72,55.18 655.90,55.19 656.09,55.20 656.28,55.22 656.46,55.23 656.65,55.24 656.84,55.25 657.02,55.26 657.21,55.27 657.40,55.28 657.58,55.30 657.77,55.31 657.96,55.32 658.14,55.33 658.33,55.34 658.52,55.35 658.70,55.37 658.89,55.38 659.08,55.39 659.26,55.40 659.45,55.41 659.64,55.43 659.82,55.44 660.01,55.45 660.20,55.46 660.38,55.47 660.57,55.48 660.76,55.50 660.94,55.51 661.13,55.52 661.32,55.53 661.50,55.54 661.69,55.55 661.88,55.57 662.06,55.58 662.25,55.59 662.44,55.60 662.62,55.61 662.81,55.63 663.00,55.64 663.18,55.65 663.37,55.66 663.56,55.67 663.74,55.69 663.93,55.70 664.12,55.71 664.30,55.72 664.49,55.73 664.68,55.74 664.86,55.76 665.05,55.77 665.24,55.78 665.42,55.79 665.61,55.80 665.80,55.82 665.98,55.83 666.17,55.84 666.36,55.85 666.54,55.86 666.73,55.88 666.92,55.89 667.10,55.90 667.29,55.91 667.48,55.92 667.66,55.93 667.85,55.95 668.04,55.96 668.22,55.97 668.41,55.98 668.60,55.99 668.78,56.01 668.97,56.02 669.16,56.03 669.34,56.04 669.53,56.05 669.72,56.07 669.90,56.08 670.09,56.09 670.28,56.10 670.46,56.11 670.65,56.12 670.84,56.14 671.02,56.15 671.21,56.16 671.40,56.17 671.58,56.18 671.77,56.20 671.96,56.21 672.14,56.22 672.33,56.23 672.52,56.24 672.70,56.25 672.89,56.27 673.08,56.28 673.26,56.29 673.45,56.30 673.64,56.31 673.82,56.32 674.01,56.34 674.20,56.35 674.38,56.36 674.57,56.37 674.76,56.38 674.94,56.39 675.13,56.41 675.32,56.42 675.50,56.43 675.69,56.44 675.88,56.45 676.06,56.46 676.25,56.47 676.44,56.49 676.62,56.50 676.81,56.51 677.00,56.52 677.18,56.53 677.37,56.54 677.56,56.55 677.74,56.57 677.93,56.58 678.12,56.59 678.30,56.60 678.49,56.61 678.68,56.62 678.86,56.63" fill="none" stroke="#008f00" stroke-width="3.0" stroke-linejoin="round" stroke-linecap="round" stroke-dasharray="0 5.6" stroke-linecap="round"/>
<polyline points="396.17,230.41 396.35,230.41 396.54,230.41 396.73,230.41 396.91,230.41 397.10,230.41 397.29,230.41 397.47,230.41 397.66,230.41 397.85,230.41 398.03,230.41 398.22,230.41 398.41,230.41 398.59,230.41 398.78,230.41 398.97,230.41 399.15,230.41 399.34,230.41 399.53,230.41 399.71,230.41 399.90,230.41 400.09,230.41 400.27,230.41 400.46,230.41 400.65,230.41 400.83,230.41 401.02,224.72 401.21,219.02 401.39,213.33 401.58,207.64 401.77,201.95 401.95,196.25 402.14,190.56 402.33,184.87 402.51,179.17 402.70,173.48 402.89,167.79 403.07,162.09 403.26,156.40 403.45,150.71 403.63,112.04 403.82,73.37 404.01,59.17 404.19,52.06 404.38,52.06 404.57,52.06 404.75,52.06 404.94,52.06 405.13,52.06 405.31,52.06 405.50,52.06 405.69,52.06 405.87,52.06 406.06,52.06 406.25,52.06 406.43,52.06 406.62,54.90 406.81,57.74 406.99,60.11 407.18,62.01 407.37,63.90 407.55,64.69 407.74,65.48 407.93,66.27 408.11,67.06 408.30,67.85 408.49,68.64 408.67,69.42 408.86,70.21 409.05,71.00 409.23,71.79 409.42,72.01 409.61,72.23 409.79,72.44 409.98,72.66 410.17,72.88 410.35,73.10 410.54,73.32 410.73,73.53 410.91,73.75 411.10,73.97 411.29,74.19 411.47,74.40 411.66,74.62 411.85,74.84 412.03,74.99 412.22,75.06 412.41,75.14 412.59,75.22 412.78,75.30 412.97,75.38 413.15,75.45 413.34,75.53 413.53,75.61 413.71,75.69 413.90,75.76 414.09,75.84 414.27,75.92 414.46,76.00 414.65,76.07 414.83,76.15 415.02,76.23 415.21,76.31 415.39,76.38 415.58,76.46 415.77,76.54 415.95,76.62 416.14,76.69 416.33,76.77 416.51,76.85 416.70,76.93 416.89,77.01 417.07,77.08 417.26,77.16 417.45,77.24 417.63,77.32 417.82,77.32 418.01,77.33 418.19,77.33 418.38,77.34 418.57,77.34 418.75,77.35 418.94,77.35 419.13,77.36 419.31,77.36 419.50,77.37 419.69,77.37 419.87,77.38 420.06,77.38 420.25,77.39 420.43,77.39 420.62,77.40 420.81,77.41 420.99,77.41 421.18,77.42 421.37,77.42 421.55,77.43 421.74,77.43 421.93,77.44 422.11,77.44 422.30,77.45 422.49,77.45 422.67,77.46 422.86,77.46 423.05,77.47 423.23,77.47 423.42,77.48 423.61,77.48 423.79,77.49 423.98,77.49 424.17,77.50 424.35,77.51 424.54,77.51 424.73,77.52 424.91,77.52 425.10,77.53 425.29,77.53 425.47,77.54 425.66,77.54 425.85,77.55 426.03,77.55 426.22,77.56 426.41,77.56 426.59,77.57 426.78,77.57 426.97,77.58 427.15,77.58 427.34,77.59 427.53,77.59 427.71,77.60 427.90,77.61 428.09,77.61 428.27,77.62 428.46,77.62 428.65,77.63 428.83,77.63 429.02,77.64 429.21,77.64 429.39,77.65 429.58,77.65 429.77,77.66 429.95,77.66 430.14,77.67 430.33,77.67 430.51,77.68 430.70,77.68 430.89,77.69 431.07,77.69 431.26,77.70 431.45,77.71 431.63,77.71 431.82,77.72 432.01,77.72 432.19,77.73 432.38,77.73 432.57,77.74 432.75,77.74 432.94,77.75 433.13,77.75 433.31,77.76 433.50,77.76 433.69,77.77 433.87,77.77 434.06,77.78 434.25,77.78 434.43,77.79 434.62,77.79 434.81,77.80 434.99,77.81 435.18,77.81 435.37,77.82 435.55,77.82 435.74,77.83 435.93,77.83 436.11,77.84 436.30,77.84 436.49,77.85 436.67,77.85 436.86,77.86 437.05,77.86 437.23,77.87 437.42,77.87 437.61,77.88 437.79,77.88 437.98,77.89 438.17,77.89 438.35,77.90 438.54,77.90 438.73,77.91 438.91,77.92 439.10,77.92 439.29,77.93 439.47,77.93 439.66,77.94 439.85,77.94 440.03,77.95 440.22,77.95 440.41,77.95 440.59,77.95 440.78,77.95 440.97,77.95 441.15,77.95 441.34,77.95 441.53,77.95 441.71,77.95 441.90,77.95 442.09,77.95 442.27,77.95 442.46,77.95 442.65,77.95 442.83,77.95 443.02,77.95 443.21,77.95 443.39,77.95 443.58,77.95 443.77,77.95 443.95,77.95 444.14,77.95 444.32,77.95 444.51,77.95 444.70,77.95 444.88,77.95 445.07,77.95 445.26,77.95 445.44,77.95 445.63,77.95 445.82,77.95 446.00,77.95 446.19,77.95 446.38,77.95 446.56,77.95 446.75,77.95 446.94,77.95 447.12,77.95 447.31,77.95 447.50,77.95 447.68,77.95 447.87,77.95 448.06,77.95 448.24,77.95 448.43,77.95 448.62,77.95 448.80,77.95 448.99,77.95 449.18,77.95 449.36,77.95 449.55,77.95 449.74,77.95 449.92,77.95 450.11,77.95 450.30,77.95 450.48,77.95 450.67,77.95 450.86,77.95 451.04,77.95 451.23,77.95 451.42,77.95 451.60,77.95 451.79,77.95 451.98,77.95 452.16,77.95 452.35,77.95 452.54,77.95 452.72,77.95 452.91,77.95 453.10,77.95 453.28,77.95 453.47,77.95 453.66,77.95 453.84,77.95 454.03,77.95 454.22,77.95 454.40,77.95 454.59,77.95 454.78,77.95 454.96,77.95 455.15,77.95 455.34,77.95 455.52,77.95 455.71,77.95 455.90,77.95 456.08,77.95 456.27,77.95 456.46,77.95 456.64,77.95 456.83,77.95 457.02,77.95 457.20,77.95 457.39,77.95 457.58,77.95 457.76,77.95 457.95,77.95 458.14,77.95 458.32,77.95 458.51,77.95 458.70,77.95 458.88,77.95 459.07,77.95 459.26,77.95 459.44,77.95 459.63,77.95 459.82,77.95 460.00,77.95 460.19,77.95 460.38,77.95 460.56,77.95 460.75,77.95 460.94,77.95 461.12,77.95 461.31,77.95 461.50,77.95 461.68,77.95 461.87,77.95 462.06,77.95 462.24,77.95 462.43,77.95 462.62,77.95 462.80,77.95 462.99,77.95 463.18,77.95 463.36,77.95 463.55,77.95 463.74,77.95 463.92,77.95 464.11,77.95 464.30,77.95 464.48,77.95 464.67,77.95 464.86,77.95 465.04,77.95 465.23,77.95 465.42,77.95 465.60,77.95 465.79,77.95 465.98,77.95 466.16,77.95 466.35,77.95 466.54,77.95 466.72,77.95 466.91,77.95 467.10,77.95 467.28,77.95 467.47,77.95 467.66,77.95 467.84,77.95 468.03,77.95 468.22,77.95 468.40,77.95 468.59,77.95 468.78,77.95 468.96,77.95 469.15,77.95 469.34,77.95 469.52,77.95 469.71,77.95 469.90,77.95 470.08,77.95 470.27,77.95 470.46,77.95 470.64,77.95 470.83,77.95 471.02,77.95 471.20,77.95 471.39,77.95 471.58,77.95 471.76,77.95 471.95,77.95 472.14,77.95 472.32,77.95 472.51,77.95 472.70,77.95 472.88,77.95 473.07,77.95 473.26,77.95 473.44,77.95 473.63,77.95 473.82,77.95 474.00,77.95 474.19,77.95 474.38,77.95 474.56,77.95 474.75,77.95 474.94,77.95 475.12,77.95 475.31,77.95 475.50,77.95 475.68,77.95 475.87,77.95 476.06,77.95 476.24,77.95 476.43,77.95 476.62,77.95 476.80,77.95 476.99,77.95 477.18,77.95 477.36,77.95 477.55,77.95 477.74,77.95 477.92,77.95 478.11,77.95 478.30,77.95 478.48,77.95 478.67,77.95 478.86,77.95 479.04,77.95 479.23,77.95 479.42,77.95 479.60,77.95 479.79,77.95 479.98,77.95 480.16,77.95 480.35,77.95 480.54,77.95 480.72,77.95 480.91,77.95 481.10,77.95 481.28,77.95 481.47,77.95 481.66,77.95 481.84,77.95 482.03,77.95 482.22,77.95 482.40,77.95 482.59,77.95 482.78,77.95 482.96,77.95 483.15,77.95 483.34,77.95 483.52,77.95 483.71,77.95 483.90,77.95 484.08,77.95 484.27,77.95 484.46,77.95 484.64,77.95 484.83,77.95 485.02,77.95 485.20,77.95 485.39,77.95 485.58,77.95 485.76,77.95 485.95,77.95 486.14,77.95 486.32,77.95 486.51,77.95 486.70,77.95 486.88,77.95 487.07,77.95 487.26,77.95 487.44,77.95 487.63,77.95 487.82,77.95 488.00,77.95 488.19,77.95 488.38,77.95 488.56,77.95 488.75,77.95 488.94,77.95 489.12,77.95 489.31,77.95 489.50,77.95 489.68,77.95 489.87,77.95 490.06,77.95 490.24,77.95 490.43,77.95 490.62,77.95 490.80,77.95 490.99,77.95 491.18,77.95 491.36,77.95 491.55,77.95 491.74,77.95 491.92,77.95 492.11,77.95 492.30,77.95 492.48,77.95 492.67,77.95 492.86,77.95 493.04,77.95 493.23,77.95 493.42,77.95 493.60,77.95 493.79,77.95 493.98,77.95 494.16,77.95 494.35,77.95 494.54,77.95 494.72,77.95 494.91,77.95 495.10,77.95 495.28,77.95 495.47,77.95 495.66,77.95 495.84,77.95 496.03,77.95 496.22,77.95 496.40,77.95 496.59,77.95 496.78,77.95 496.96,77.95 497.15,77.95 497.34,77.95 497.52,77.95 497.71,77.95 497.90,77.95 498.08,77.95 498.27,77.95 498.46,77.95 498.64,77.95 498.83,77.95 499.02,77.95 499.20,77.95 499.39,77.95 499.58,77.95 499.76,77.95 499.95,77.95 500.14,77.94 500.32,77.94 500.51,77.94 500.70,77.94 500.88,77.94 501.07,77.93 501.26,77.93 501.44,77.93 501.63,77.93 501.82,77.93 502.00,77.92 502.19,77.92 502.38,77.92 502.56,77.92 502.75,77.92 502.94,77.91 503.12,77.91 503.31,77.91 503.50,77.91 503.68,77.91 503.87,77.90 504.06,77.90 504.24,77.90 504.43,77.90 504.62,77.90 504.80,77.89 504.99,77.89 505.18,77.89 505.36,77.89 505.55,77.89 505.74,77.88 505.92,77.88 506.11,77.88 506.30,77.88 506.48,77.88 506.67,77.88 506.86,77.87 507.04,77.87 507.23,77.87 507.42,77.87 507.60,77.87 507.79,77.86 507.98,77.86 508.16,77.86 508.35,77.86 508.54,77.86 508.72,77.85 508.91,77.85 509.10,77.85 509.28,77.85 509.47,77.85 509.66,77.84 509.84,77.84 510.03,77.84 510.22,77.84 510.40,77.84 510.59,77.83 510.78,77.83 510.96,77.83 511.15,77.83 511.34,77.83 511.52,77.82 511.71,77.82 511.90,77.82 512.08,77.82 512.27,77.82 512.46,77.81 512.64,77.81 512.83,77.81 513.02,77.81 513.20,77.81 513.39,77.81 513.58,77.80 513.76,77.80 513.95,77.80 514.14,77.80 514.32,77.80 514.51,77.79 514.70,77.79 514.88,77.79 515.07,77.79 515.26,77.79 515.44,77.78 515.63,77.78 515.82,77.78 516.00,77.78 516.19,77.78 516.38,77.77 516.56,77.77 516.75,77.77 516.94,77.77 517.12,77.77 517.31,77.76 517.50,77.76 517.68,77.76 517.87,77.76 518.06,77.76 518.24,77.75 518.43,77.75 518.62,77.75 518.80,77.75 518.99,77.75 519.18,77.75 519.36,77.74 519.55,77.74 519.74,77.74 519.92,77.74 520.11,77.74 520.30,77.73 520.48,77.73 520.67,77.73 520.86,77.73 521.04,77.73 521.23,77.72 521.42,77.72 521.60,77.72 521.79,77.72 521.98,77.72 522.16,77.71 522.35,77.71 522.54,77.71 522.72,77.71 522.91,77.71 523.10,77.70 523.28,77.70 523.47,77.70 523.66,77.70 523.84,77.70 524.03,77.69 524.22,77.69 524.40,77.69 524.59,77.69 524.78,77.69 524.96,77.68 525.15,77.68 525.34,77.68 525.52,77.68 525.71,77.68 525.90,77.68 526.08,77.67 526.27,77.67 526.46,77.67 526.64,77.67 526.83,77.67 527.02,77.66 527.20,77.66 527.39,77.66 527.58,77.66 527.76,77.66 527.95,77.65 528.14,77.65 528.32,77.65 528.51,77.65 528.70,77.65 528.88,77.64 529.07,77.64 529.26,77.64 529.44,77.64 529.63,77.64 529.82,77.63 530.00,77.63 530.19,77.63 530.38,77.63 530.56,77.63 530.75,77.62 530.94,77.62 531.12,77.62 531.31,77.62 531.50,77.62 531.68,77.61 531.87,77.61 532.06,77.61 532.24,77.61 532.43,77.61 532.62,77.61 532.80,77.60 532.99,77.60 533.18,77.60 533.36,77.60 533.55,77.60 533.74,77.59 533.92,77.59 534.11,77.59 534.30,77.59 534.48,77.59 534.67,77.58 534.86,77.58 535.04,77.58 535.23,77.58 535.42,77.58 535.60,77.57 535.79,77.57 535.98,77.57 536.16,77.57 536.35,77.57 536.54,77.56 536.72,77.56 536.91,77.56 537.10,77.56 537.28,77.56 537.47,77.55 537.65,77.55 537.84,77.55 538.03,77.55 538.21,77.55 538.40,77.54 538.59,77.54 538.77,77.54 538.96,77.54 539.15,77.54 539.33,77.54 539.52,77.53 539.71,77.53 539.89,77.53 540.08,77.53 540.27,77.53 540.45,77.52 540.64,77.52 540.83,77.52 541.01,77.52 541.20,77.52 541.39,77.51 541.57,77.51 541.76,77.51 541.95,77.51 542.13,77.51 542.32,77.50 542.51,77.50 542.69,77.50 542.88,77.50 543.07,77.50 543.25,77.49 543.44,77.49 543.63,77.49 543.81,77.49 544.00,77.49 544.19,77.48 544.37,77.48 544.56,77.48 544.75,77.48 544.93,77.48 545.12,77.48 545.31,77.47 545.49,77.47 545.68,77.47 545.87,77.47 546.05,77.47 546.24,77.46 546.43,77.46 546.61,77.46 546.80,77.46 546.99,77.46 547.17,77.45 547.36,77.45 547.55,77.45 547.73,77.45 547.92,77.45 548.11,77.44 548.29,77.44 548.48,77.44 548.67,77.44 548.85,77.44 549.04,77.43 549.23,77.43 549.41,77.43 549.60,77.43 549.79,77.43 549.97,77.42 550.16,77.42 550.35,77.42 550.53,77.42 550.72,77.42 550.91,77.41 551.09,77.41 551.28,77.41 551.47,77.41 551.65,77.41 551.84,77.41 552.03,77.40 552.21,77.40 552.40,77.40 552.59,77.40 552.77,77.40 552.96,77.39 553.15,77.39 553.33,77.39 553.52,77.39 553.71,77.39 553.89,77.38 554.08,77.38 554.27,77.38 554.45,77.38 554.64,77.38 554.83,77.37 555.01,77.37 555.20,77.37 555.39,77.37 555.57,77.37 555.76,77.36 555.95,77.36 556.13,77.36 556.32,77.36 556.51,77.36 556.69,77.35 556.88,77.35 557.07,77.35 557.25,77.35 557.44,77.35 557.63,77.34 557.81,77.34 558.00,77.34 558.19,77.34 558.37,77.34 558.56,77.34 558.75,77.33 558.93,77.33 559.12,77.33 559.31,77.33 559.49,77.33 559.68,77.32 559.87,77.32 560.05,77.32 560.24,77.32 560.43,77.32 560.61,77.31 560.80,77.31 560.99,77.31 561.17,77.31 561.36,77.31 561.55,77.31 561.73,77.30 561.92,77.30 562.11,77.30 562.29,77.30 562.48,77.30 562.67,77.29 562.85,77.29 563.04,77.29 563.23,77.29 563.41,77.29 563.60,77.29 563.79,77.28 563.97,77.28 564.16,77.28 564.35,77.28 564.53,77.28 564.72,77.28 564.91,77.27 565.09,77.27 565.28,77.27 565.47,77.27 565.65,77.27 565.84,77.27 566.03,77.26 566.21,77.26 566.40,77.26 566.59,77.26 566.77,77.26 566.96,77.25 567.15,77.25 567.33,77.25 567.52,77.25 567.71,77.25 567.89,77.25 568.08,77.24 568.27,77.24 568.45,77.24 568.64,77.24 568.83,77.24 569.01,77.24 569.20,77.23 569.39,77.23 569.57,77.23 569.76,77.23 569.95,77.23 570.13,77.23 570.32,77.22 570.51,77.22 570.69,77.22 570.88,77.22 571.07,77.22 571.25,77.21 571.44,77.21 571.63,77.21 571.81,77.21 572.00,77.21 572.19,77.21 572.37,77.20 572.56,77.20 572.75,77.20 572.93,77.20 573.12,77.20 573.31,77.20 573.49,77.19 573.68,77.19 573.87,77.19 574.05,77.19 574.24,77.19 574.43,77.19 574.61,77.18 574.80,77.18 574.99,77.18 575.17,77.18 575.36,77.18 575.55,77.17 575.73,77.17 575.92,77.17 576.11,77.17 576.29,77.17 576.48,77.17 576.67,77.16 576.85,77.16 577.04,77.16 577.23,77.16 577.41,77.16 577.60,77.16 577.79,77.15 577.97,77.15 578.16,77.15 578.35,77.15 578.53,77.15 578.72,77.15 578.91,77.14 579.09,77.14 579.28,77.14 579.47,77.14 579.65,77.14 579.84,77.13 580.03,77.13 580.21,77.13 580.40,77.13 580.59,77.13 580.77,77.13 580.96,77.12 581.15,77.12 581.33,77.12 581.52,77.12 581.71,77.12 581.89,77.12 582.08,77.11 582.27,77.11 582.45,77.11 582.64,77.11 582.83,77.11 583.01,77.11 583.20,77.10 583.39,77.10 583.57,77.10 583.76,77.10 583.95,77.10 584.13,77.09 584.32,77.09 584.51,77.09 584.69,77.09 584.88,77.09 585.07,77.09 585.25,77.08 585.44,77.08 585.63,77.08 585.81,77.08 586.00,77.08 586.19,77.08 586.37,77.07 586.56,77.07 586.75,77.07 586.93,77.07 587.12,77.07 587.31,77.07 587.49,77.06 587.68,77.06 587.87,77.06 588.05,77.06 588.24,77.06 588.43,77.05 588.61,77.05 588.80,77.05 588.99,77.05 589.17,77.05 589.36,77.05 589.55,77.04 589.73,77.04 589.92,77.04 590.11,77.04 590.29,77.04 590.48,77.04 590.67,77.03 590.85,77.03 591.04,77.03 591.23,77.03 591.41,77.03 591.60,77.03 591.79,77.02 591.97,77.02 592.16,77.02 592.35,77.02 592.53,77.02 592.72,77.01 592.91,77.01 593.09,77.01 593.28,77.01 593.47,77.01 593.65,77.01 593.84,77.00 594.03,77.00 594.21,77.00 594.40,77.00 594.59,77.00 594.77,77.00 594.96,76.99 595.15,76.99 595.33,76.99 595.52,76.99 595.71,76.99 595.89,76.99 596.08,76.98 596.27,76.98 596.45,76.98 596.64,76.98 596.83,76.98 597.01,76.97 597.20,76.97 597.39,76.97 597.57,76.97 597.76,76.97 597.95,76.97 598.13,76.96 598.32,76.96 598.51,76.96 598.69,76.96 598.88,76.96 599.07,76.96 599.25,76.95 599.44,76.95 599.63,76.95 599.81,76.95 600.00,76.95 600.19,76.95 600.37,76.94 600.56,76.94 600.75,76.94 600.93,76.94 601.12,76.94 601.31,76.93 601.49,76.93 601.68,76.93 601.87,76.93 602.05,76.93 602.24,76.93 602.43,76.92 602.61,76.92 602.80,76.92 602.99,76.92 603.17,76.92 603.36,76.92 603.55,76.91 603.73,76.91 603.92,76.91 604.11,76.91 604.29,76.91 604.48,76.91 604.67,76.90 604.85,76.90 605.04,76.90 605.23,76.90 605.41,76.90 605.60,76.89 605.79,76.89 605.97,76.89 606.16,76.89 606.35,76.89 606.53,76.89 606.72,76.88 606.91,76.88 607.09,76.88 607.28,76.88 607.47,76.88 607.65,76.88 607.84,76.87 608.03,76.87 608.21,76.87 608.40,76.87 608.59,76.87 608.77,76.87 608.96,76.86 609.15,76.86 609.33,76.86 609.52,76.86 609.71,76.86 609.89,76.85 610.08,76.85 610.27,76.85 610.45,76.85 610.64,76.85 610.83,76.85 611.01,76.84 611.20,76.84 611.39,76.84 611.57,76.84 611.76,76.84 611.95,76.84 612.13,76.83 612.32,76.83 612.51,76.83 612.69,76.83 612.88,76.83 613.07,76.83 613.25,76.82 613.44,76.82 613.63,76.82 613.81,76.82 614.00,76.82 614.19,76.81 614.37,76.81 614.56,76.81 614.75,76.81 614.93,76.81 615.12,76.81 615.31,76.80 615.49,76.80 615.68,76.80 615.87,76.80 616.05,76.80 616.24,76.80 616.43,76.79 616.61,76.79 616.80,76.79 616.99,76.79 617.17,76.79 617.36,76.79 617.55,76.78 617.73,76.78 617.92,76.78 618.11,76.78 618.29,76.78 618.48,76.77 618.67,76.77 618.85,76.77 619.04,76.77 619.23,76.77 619.41,76.77 619.60,76.76 619.79,76.76 619.97,76.76 620.16,76.76 620.35,76.76 620.53,76.76 620.72,76.75 620.91,76.75 621.09,76.75 621.28,76.75 621.47,76.75 621.65,76.75 621.84,76.74 622.03,76.74 622.21,76.74 622.40,76.74 622.59,76.74 622.77,76.73 622.96,76.73 623.15,76.73 623.33,76.73 623.52,76.73 623.71,76.73 623.89,76.72 624.08,76.72 624.27,76.72 624.45,76.72 624.64,76.72 624.83,76.72 625.01,76.71 625.20,76.71 625.39,76.71 625.57,76.71 625.76,76.71 625.95,76.71 626.13,76.70 626.32,76.70 626.51,76.70 626.69,76.70 626.88,76.70 627.07,76.69 627.25,76.69 627.44,76.69 627.63,76.69 627.81,76.69 628.00,76.69 628.19,76.68 628.37,76.68 628.56,76.68 628.75,76.68 628.93,76.68 629.12,76.68 629.31,76.67 629.49,76.67 629.68,76.67 629.87,76.67 630.05,76.67 630.24,76.67 630.43,76.66 630.61,76.66 630.80,76.66 630.98,76.66 631.17,76.66 631.36,76.65 631.54,76.65 631.73,76.65 631.92,76.65 632.10,76.65 632.29,76.65 632.48,76.64 632.66,76.64 632.85,76.64 633.04,76.64 633.22,76.64 633.41,76.64 633.60,76.63 633.78,76.63 633.97,76.63 634.16,76.63 634.34,76.63 634.53,76.63 634.72,76.62 634.90,76.62 635.09,76.62 635.28,76.62 635.46,76.62 635.65,76.61 635.84,76.61 636.02,76.61 636.21,76.61 636.40,76.61 636.58,76.61 636.77,76.60 636.96,76.60 637.14,76.60 637.33,76.60 637.52,76.60 637.70,76.60 637.89,76.59 638.08,76.59 638.26,76.59 638.45,76.59 638.64,76.59 638.82,76.59 639.01,76.58 639.20,76.58 639.38,76.58 639.57,76.58 639.76,76.58 639.94,76.57 640.13,76.57 640.32,76.57 640.50,76.57 640.69,76.57 640.88,76.57 641.06,76.56 641.25,76.56 641.44,76.56 641.62,76.56 641.81,76.56 642.00,76.56 642.18,76.55 642.37,76.55 642.56,76.55 642.74,76.55 642.93,76.55 643.12,76.54 643.30,76.54 643.49,76.54 643.68,76.54 643.86,76.54 644.05,76.54 644.24,76.53 644.42,76.53 644.61,76.53 644.80,76.53 644.98,76.53 645.17,76.53 645.36,76.52 645.54,76.52 645.73,76.52 645.92,76.52 646.10,76.52 646.29,76.52 646.48,76.51 646.66,76.51 646.85,76.51 647.04,76.51 647.22,76.51 647.41,76.50 647.60,76.50 647.78,76.50 647.97,76.50 648.16,76.50 648.34,76.50 648.53,76.49 648.72,76.49 648.90,76.49 649.09,76.49 649.28,76.49 649.46,76.49 649.65,76.48 649.84,76.48 650.02,76.48 650.21,76.48 650.40,76.48 650.58,76.48 650.77,76.47 650.96,76.47 651.14,76.47 651.33,76.47 651.52,76.47 651.70,76.46 651.89,76.46 652.08,76.46 652.26,76.46 652.45,76.46 652.64,76.46 652.82,76.45 653.01,76.45 653.20,76.45 653.38,76.45 653.57,76.45 653.76,76.45 653.94,76.44 654.13,76.44 654.32,76.44 654.50,76.44 654.69,76.44 654.88,76.44 655.06,76.43 655.25,76.43 655.44,76.43 655.62,76.43 655.81,76.43 656.00,76.42 656.18,76.42 656.37,76.42 656.56,76.42 656.74,76.42 656.93,76.42 657.12,76.41 657.30,76.41 657.49,76.41 657.68,76.41 657.86,76.41 658.05,76.41 658.24,76.40 658.42,76.40 658.61,76.40 658.80,76.40 658.98,76.40 659.17,76.40 659.36,76.39 659.54,76.39 659.73,76.39 659.92,76.39 660.10,76.39 660.29,76.38 660.48,76.38 660.66,76.38 660.85,76.38 661.04,76.38 661.22,76.38 661.41,76.37 661.60,76.37 661.78,76.37 661.97,76.37 662.16,76.37 662.34,76.37 662.53,76.36 662.72,76.36 662.90,76.36 663.09,76.36 663.28,76.36 663.46,76.36 663.65,76.35 663.84,76.35 664.02,76.35 664.21,76.35 664.40,76.35 664.58,76.34 664.77,76.34 664.96,76.34 665.14,76.34 665.33,76.34 665.52,76.34 665.70,76.33 665.89,76.33 666.08,76.33 666.26,76.33 666.45,76.33 666.64,76.33 666.82,76.32 667.01,76.32 667.20,76.32 667.38,76.32 667.57,76.32 667.76,76.32 667.94,76.31 668.13,76.31 668.32,76.31 668.50,76.31 668.69,76.31 668.88,76.30 669.06,76.30 669.25,76.30 669.44,76.30 669.62,76.30 669.81,76.30 670.00,76.29 670.18,76.29 670.37,76.29 670.56,76.29 670.74,76.29 670.93,76.29 671.12,76.28 671.30,76.28 671.49,76.28 671.68,76.28 671.86,76.28 672.05,76.28 672.24,76.27 672.42,76.27 672.61,76.27 672.80,76.27 672.98,76.27 673.17,76.26 673.36,76.26 673.54,76.26 673.73,76.26 673.92,76.26 674.10,76.26 674.29,76.25 674.48,76.25 674.66,76.25 674.85,76.25 675.04,76.25 675.22,76.25 675.41,76.24 675.60,76.24 675.78,76.24 675.97,76.24 676.16,76.24 676.34,76.24 676.53,76.23 676.72,76.23 676.90,76.23 677.09,76.23 677.28,76.23 677.46,76.22 677.65,76.22 677.84,76.22 678.02,76.22 678.21,76.22 678.40,76.22 678.58,76.21 678.77,76.21 678.96,76.21" fill="none" stroke="#f5841f" stroke-width="3.0" stroke-linejoin="round" stroke-linecap="round" stroke-dasharray="0 5.6" stroke-linecap="round"/>
</g>
<rect x="392.5" y="10.5" width="284.6" height="228.9" fill="none" stroke="#242424" stroke-width="1.3"/>
<line x1="397.1" y1="239.4" x2="397.1" y2="235.4" stroke="#242424" stroke-width="1.2"/>
<line x1="453.1" y1="239.4" x2="453.1" y2="235.4" stroke="#242424" stroke-width="1.2"/>
<line x1="509.1" y1="239.4" x2="509.1" y2="235.4" stroke="#242424" stroke-width="1.2"/>
<line x1="565.09" y1="239.4" x2="565.09" y2="235.4" stroke="#242424" stroke-width="1.2"/>
<line x1="621.09" y1="239.4" x2="621.09" y2="235.4" stroke="#242424" stroke-width="1.2"/>
<line x1="677.09" y1="239.4" x2="677.09" y2="235.4" stroke="#242424" stroke-width="1.2"/>
<line x1="425.1" y1="239.4" x2="425.1" y2="237.2" stroke="#242424" stroke-width="1.2"/>
<line x1="481.1" y1="239.4" x2="481.1" y2="237.2" stroke="#242424" stroke-width="1.2"/>
<line x1="537.1" y1="239.4" x2="537.1" y2="237.2" stroke="#242424" stroke-width="1.2"/>
<line x1="593.09" y1="239.4" x2="593.09" y2="237.2" stroke="#242424" stroke-width="1.2"/>
<line x1="649.09" y1="239.4" x2="649.09" y2="237.2" stroke="#242424" stroke-width="1.2"/>
<text x="397.1" y="254" font-size="13" text-anchor="middle" font-weight="normal" fill="#1a1a1a" >0</text>
<text x="453.1" y="254" font-size="13" text-anchor="middle" font-weight="normal" fill="#1a1a1a" >6</text>
<text id="o4" x="509.1" y="254" font-size="13" text-anchor="middle" font-weight="normal" fill="#1a1a1a" > 2</text><g fill="#1a1a1a"><path d="M763 0L583 0L583 1100C540 1060 483 1022 413 983C343 944 280 915 223 895L223 1062C324 1107 412 1163 488 1228C564 1292 617 1355 649 1409L763 1409Z" transform="translate(501.87 254.00) scale(0.00635 -0.00635)"/></g>
<text id="o5" x="565.09" y="254" font-size="13" text-anchor="middle" font-weight="normal" fill="#1a1a1a" > 8</text><g fill="#1a1a1a"><path d="M763 0L583 0L583 1100C540 1060 483 1022 413 983C343 944 280 915 223 895L223 1062C324 1107 412 1163 488 1228C564 1292 617 1355 649 1409L763 1409Z" transform="translate(557.86 254.00) scale(0.00635 -0.00635)"/></g>
<text x="621.09" y="254" font-size="13" text-anchor="middle" font-weight="normal" fill="#1a1a1a" >24</text>
<text x="677.09" y="254" font-size="13" text-anchor="middle" font-weight="normal" fill="#1a1a1a" >30</text>
<line x1="392.5" y1="231.2" x2="396.5" y2="231.2" stroke="#242424" stroke-width="1.2"/>
<line x1="392.5" y1="183.85" x2="396.5" y2="183.85" stroke="#242424" stroke-width="1.2"/>
<line x1="392.5" y1="136.5" x2="396.5" y2="136.5" stroke="#242424" stroke-width="1.2"/>
<line x1="392.5" y1="89.15" x2="396.5" y2="89.15" stroke="#242424" stroke-width="1.2"/>
<line x1="392.5" y1="41.8" x2="396.5" y2="41.8" stroke="#242424" stroke-width="1.2"/>
<line x1="392.5" y1="207.53" x2="394.7" y2="207.53" stroke="#242424" stroke-width="1.2"/>
<line x1="392.5" y1="160.18" x2="394.7" y2="160.18" stroke="#242424" stroke-width="1.2"/>
<line x1="392.5" y1="112.83" x2="394.7" y2="112.83" stroke="#242424" stroke-width="1.2"/>
<line x1="392.5" y1="65.48" x2="394.7" y2="65.48" stroke="#242424" stroke-width="1.2"/>
<line x1="392.5" y1="18.13" x2="394.7" y2="18.13" stroke="#242424" stroke-width="1.2"/>
<text x="387.6" y="235.8" font-size="13" text-anchor="end" font-weight="normal" fill="#1a1a1a" >0.0</text>
<text x="387.6" y="188.45" font-size="13" text-anchor="end" font-weight="normal" fill="#1a1a1a" >0.3</text>
<text x="387.6" y="141.1" font-size="13" text-anchor="end" font-weight="normal" fill="#1a1a1a" >0.6</text>
<text x="387.6" y="93.75" font-size="13" text-anchor="end" font-weight="normal" fill="#1a1a1a" >0.9</text>
<text id="o6" x="387.6" y="46.4" font-size="13" text-anchor="end" font-weight="normal" fill="#1a1a1a" > .2</text><g fill="#1a1a1a"><path d="M763 0L583 0L583 1100C540 1060 483 1022 413 983C343 944 280 915 223 895L223 1062C324 1107 412 1163 488 1228C564 1292 617 1355 649 1409L763 1409Z" transform="translate(369.52 46.40) scale(0.00635 -0.00635)"/></g>
<line x1="433.8" y1="92.2" x2="459.1" y2="92.2" stroke="#6600dd" stroke-width="3.2" stroke-linecap="round"/>
<text x="462.4" y="96.4" font-size="12" fill="#1a1a1a">SO<tspan font-size="7.4" dy="4.2">2</tspan><tspan dy="-4.2"> (dry)</tspan></text>
<line x1="433.8" y1="109.4" x2="459.1" y2="109.4" stroke="#0aa0f5" stroke-width="3.2" stroke-linecap="round"/>
<text x="462.4" y="113.6" font-size="12" fill="#1a1a1a">CO<tspan font-size="7.4" dy="4.2">2</tspan><tspan dy="-4.2"> (dry)</tspan></text>
<line x1="433.8" y1="126.9" x2="459.1" y2="126.9" stroke="#008f00" stroke-width="3.2" stroke-linecap="round"/>
<text x="462.4" y="131.1" font-size="12" fill="#1a1a1a">O<tspan font-size="7.4" dy="4.2">2</tspan><tspan dy="-4.2"> (dry)</tspan></text>
<line x1="433.8" y1="144.2" x2="459.1" y2="144.2" stroke="#f5841f" stroke-width="3.2" stroke-linecap="round"/>
<text x="462.4" y="148.4" font-size="12" fill="#1a1a1a">N<tspan font-size="7.4" dy="4.2">2</tspan><tspan dy="-4.2"> (dry)</tspan></text>
<line x1="432.6" y1="164.3" x2="458.2" y2="164.3" stroke="#6600dd" stroke-width="3.1" stroke-dasharray="0 6.4" stroke-linecap="round"/>
<text x="462.4" y="168.5" font-size="12" fill="#1a1a1a">SO<tspan font-size="7.4" dy="4.2">2</tspan><tspan dy="-4.2"> (30% RH)</tspan></text>
<line x1="432.6" y1="180.6" x2="458.2" y2="180.6" stroke="#0aa0f5" stroke-width="3.1" stroke-dasharray="0 6.4" stroke-linecap="round"/>
<text x="462.4" y="184.8" font-size="12" fill="#1a1a1a">CO<tspan font-size="7.4" dy="4.2">2</tspan><tspan dy="-4.2"> (30% RH)</tspan></text>
<line x1="432.6" y1="196.9" x2="458.2" y2="196.9" stroke="#008f00" stroke-width="3.1" stroke-dasharray="0 6.4" stroke-linecap="round"/>
<text x="462.4" y="201.1" font-size="12" fill="#1a1a1a">O<tspan font-size="7.4" dy="4.2">2</tspan><tspan dy="-4.2"> (30% RH)</tspan></text>
<line x1="432.6" y1="213.2" x2="458.2" y2="213.2" stroke="#f5841f" stroke-width="3.1" stroke-dasharray="0 6.4" stroke-linecap="round"/>
<text x="462.4" y="217.4" font-size="12" fill="#1a1a1a">N<tspan font-size="7.4" dy="4.2">2</tspan><tspan dy="-4.2"> (30% RH)</tspan></text>
<text id="o7" x="503.2" y="277.3" font-size="13" text-anchor="start" font-weight="normal" fill="#1a1a1a" >Time / h g<tspan font-size="7.4" dx="0.1" dy="-6.2">- </tspan></text><g fill="#1a1a1a"><path d="M763 0L583 0L583 1100C540 1060 483 1022 413 983C343 944 280 915 223 895L223 1062C324 1107 412 1163 488 1228C564 1292 617 1355 649 1409L763 1409Z" transform="translate(563.08 271.10) scale(0.00361 -0.00361)"/></g>
<text x="359.7" y="119.6" font-size="13" fill="#1a1a1a" text-anchor="middle" transform="rotate(-90 359.7 119.6)">C/C<tspan font-size="7.6" dy="4.2">0</tspan></text>
<text x="349.5" y="15.5" font-size="21.5" text-anchor="start" font-weight="bold" fill="#000" >b</text>
<clipPath id="cc"><rect x="43.4" y="295.6" width="285.20000000000005" height="229.39999999999998"/></clipPath>
<g clip-path="url(#cc)">
<polyline points="43.60,513.60 43.84,514.87 44.07,514.62 44.31,514.81 44.55,515.26 44.79,514.50 45.02,515.16 45.26,512.83 45.50,516.40 45.73,514.15 45.97,513.84 46.21,515.74 46.44,514.95 46.68,515.27 46.92,513.87 47.16,514.66 47.39,515.04 47.63,513.41 47.87,514.22 48.10,514.20 48.34,514.16 48.58,513.79 48.81,513.30 49.05,514.79 49.29,514.63 49.52,515.43 49.76,514.35 50.00,513.82 50.24,513.13 50.47,514.49 50.71,514.14 50.95,516.18 51.18,516.40 51.42,515.80 51.66,513.61 51.90,513.18 52.13,514.20 52.37,513.62 52.61,515.66 52.84,514.51 53.08,514.05 53.32,514.40 53.55,515.52 53.79,513.58 54.03,514.84 54.27,513.24 54.50,514.23 54.74,513.83 54.98,514.69 55.21,514.54 55.45,515.46 55.69,515.01 55.92,513.88 56.16,513.24 56.40,513.69 56.64,514.03 56.87,514.21 57.11,513.74 57.35,515.36 57.58,515.23 57.82,514.17 58.06,513.97 58.29,514.20 58.53,514.37 58.77,514.39 59.01,512.98 59.24,514.03 59.48,512.75 59.72,514.44 59.95,515.00 60.19,513.47 60.43,514.55 60.66,513.87 60.90,513.79 61.14,516.13 61.38,515.19 61.61,514.83 61.85,514.02 62.09,514.77 62.32,514.24 62.56,514.81 62.80,513.61 63.03,514.34 63.27,514.06 63.51,513.16 63.75,515.89 63.98,515.12 64.22,513.71 64.46,513.11 64.69,513.76 64.93,513.67 65.17,513.87 65.40,513.07 65.64,513.67 65.88,514.46 66.12,514.77 66.35,512.66 66.59,514.40 66.83,513.53 67.06,513.48 67.30,514.12 67.54,513.80 67.77,515.02 68.01,515.02 68.25,514.13 68.48,513.83 68.72,515.98 68.96,516.05 69.20,514.74 69.43,514.27 69.67,515.29 69.91,515.68 70.14,513.94 70.38,516.00 70.62,514.26 70.86,515.37 71.09,513.95 71.33,514.46 71.57,514.00 71.80,514.43 72.04,515.30 72.28,513.61 72.51,514.14 72.75,514.88 72.99,513.99 73.22,516.21 73.46,513.10 73.70,516.40 73.94,513.82 74.17,515.27 74.41,515.84 74.65,514.88 74.88,513.15 75.12,514.11 75.36,514.46 75.59,514.91 75.83,515.28 76.07,515.40 76.31,515.71 76.54,513.56 76.78,515.28 77.02,512.85 77.25,514.53 77.49,513.45 77.73,512.82 77.97,515.22 78.20,514.38 78.44,515.28 78.68,512.99 78.91,513.32 79.15,514.31 79.39,513.81 79.62,514.47 79.86,513.85 80.10,514.10 80.34,513.38 80.57,515.55 80.81,514.12 81.05,513.35 81.28,515.01 81.52,514.83 81.76,514.59 81.99,514.60 82.23,514.05 82.47,514.28 82.70,512.43 82.94,513.01 83.18,513.30 83.42,514.66 83.65,515.49 83.89,514.25 84.13,514.16 84.36,515.41 84.60,514.08 84.84,514.99 85.08,514.79 85.31,513.22 85.55,514.68 85.79,514.58 86.02,513.37 86.26,513.48 86.50,513.26 86.73,515.63 86.97,516.29 87.21,515.03 87.44,515.80 87.68,513.20 87.92,515.66 88.16,516.17 88.39,515.85 88.63,513.56 88.87,515.37 89.10,514.30 89.34,515.36 89.58,513.83 89.81,514.41 90.05,513.89 90.29,514.83 90.53,514.31 90.76,515.40 91.00,515.14 91.24,514.77 91.47,514.37 91.71,514.13 91.95,514.41 92.19,515.07 92.42,514.52 92.66,514.66 92.90,514.37 93.13,514.33 93.37,513.81 93.61,512.72 93.84,514.92 94.08,514.90 94.32,513.53 94.56,516.12 94.79,513.36 95.03,515.30 95.27,514.63 95.50,514.69 95.74,515.42 95.98,515.23 96.21,514.42 96.45,513.45 96.69,513.31 96.92,514.57 97.16,515.82 97.40,515.19 97.64,514.37 97.87,514.70 98.11,515.02 98.35,515.95 98.58,513.72 98.82,515.05 99.06,514.65 99.30,513.72 99.53,513.49 99.77,515.54 100.01,514.70 100.24,514.22 100.48,514.49 100.72,515.29 100.95,514.49 101.19,515.85 101.43,514.17 101.66,513.70 101.90,514.30 102.14,513.56 102.38,514.09 102.61,515.50 102.85,515.94 103.09,514.97 103.32,514.58 103.56,513.59 103.80,513.50 104.03,514.74 104.27,514.55 104.51,513.88 104.75,514.00 104.98,515.80 105.22,515.29 105.46,514.45 105.69,514.61 105.93,515.55 106.17,514.73 106.41,514.62 106.64,512.99 106.88,512.89 107.12,512.69 107.35,512.40 107.59,514.39 107.83,514.70 108.06,513.62 108.30,514.80 108.54,514.80 108.78,514.33 109.01,513.08 109.25,515.70 109.49,515.64 109.72,513.89 109.96,516.15 110.20,514.45 110.43,513.70 110.67,514.04 110.91,512.74 111.15,514.09 111.38,512.97 111.62,515.42 111.86,514.69 112.09,513.16 112.33,514.92 112.57,512.86 112.80,514.55 113.04,514.83 113.28,514.47 113.51,513.39 113.75,514.30 113.99,514.24 114.23,514.46 114.46,515.74 114.70,515.93 114.94,515.83 115.17,513.83 115.41,513.73 115.65,514.42 115.88,514.79 116.12,512.55 116.36,513.85 116.60,516.01 116.83,513.29 117.07,513.74 117.31,513.77 117.54,514.84 117.78,514.34 118.02,514.11 118.25,513.04 118.49,514.95 118.73,514.40 118.97,513.80 119.20,514.42 119.44,515.11 119.68,513.07 119.91,513.01 120.15,513.48 120.39,513.61 120.62,512.40 120.86,513.86 121.10,515.40 121.34,514.10 121.57,515.32 121.81,512.40 122.05,514.30 122.28,515.65 122.52,515.82 122.76,513.95 123.00,513.66 123.23,514.75 123.47,513.30 123.71,514.07 123.94,512.89 124.18,514.47 124.42,514.40 124.65,515.87 124.89,514.72 125.13,513.81 125.37,514.32 125.60,513.24 125.84,514.43 126.08,514.21 126.31,514.78 126.55,515.24 126.79,512.60 127.02,514.70 127.26,515.07 127.50,513.32 127.73,516.11 127.97,513.75 128.21,516.40 128.45,515.11 128.68,515.27 128.92,514.64 129.16,515.31 129.39,513.47 129.63,513.67 129.87,512.63 130.10,514.89 130.34,513.76 130.58,515.08 130.82,514.94 131.05,513.19 131.29,515.03 131.53,514.63 131.76,514.58 132.00,514.82 132.24,514.38 132.47,514.41 132.71,515.35 132.95,513.50 133.19,513.32 133.42,513.71 133.66,515.33 133.90,514.11 134.13,516.13 134.37,512.40 134.61,513.76 134.84,514.00 135.08,514.64 135.32,515.61 135.56,514.23 135.79,513.48 136.03,515.16 136.27,515.80 136.50,512.40 136.74,514.92 136.98,514.67 137.22,513.65 137.45,513.97 137.69,514.66 137.93,514.43 138.16,514.18 138.40,513.35 138.64,514.66 138.87,513.80 139.11,514.48 139.35,513.87 139.59,514.58 139.82,515.07 140.06,514.61 140.30,514.99 140.53,513.15 140.77,514.82 141.01,514.66 141.24,513.83 141.48,514.25 141.72,512.40 141.95,514.47 142.19,514.03 142.43,512.40 142.67,514.85 142.90,513.82 143.14,514.65 143.38,514.18 143.61,514.83 143.85,514.47 144.09,514.14 144.32,514.84 144.56,515.15 144.80,512.40 145.04,514.42 145.27,513.86 145.51,513.40 145.75,515.57 145.98,515.26 146.22,513.46 146.46,513.39 146.69,515.13 146.93,513.83 147.17,514.10 147.41,512.62 147.64,514.27 147.88,515.42 148.12,513.98 148.35,514.29 148.59,515.97 148.83,515.19 149.06,515.68 149.30,514.96 149.54,515.48 149.78,512.90 150.01,513.65 150.25,512.90 150.49,516.40 150.72,514.56 150.96,514.28 151.20,513.71 151.44,513.48 151.67,512.40 151.91,516.40 152.15,514.32 152.38,514.45 152.62,513.13 152.86,514.34 153.09,514.73 153.33,514.32 153.57,514.95 153.81,513.64 154.04,514.68 154.28,515.20 154.52,514.90 154.75,514.74 154.99,514.30 155.23,513.50 155.46,514.89 155.70,514.04 155.94,513.54 156.17,515.08 156.41,512.94 156.65,513.89 156.89,515.09 157.12,515.25 157.36,514.06 157.60,514.45 157.83,514.88 158.07,514.33 158.31,513.70 158.54,514.78 158.78,514.54 159.02,514.49 159.26,515.40 159.49,514.67 159.73,513.98 159.97,514.54 160.20,516.14 160.44,513.75 160.68,514.16 160.91,513.67 161.15,514.71 161.39,513.26 161.63,514.80 161.86,515.08 162.10,513.70 162.34,513.63 162.57,513.05 162.81,514.43 163.05,513.39 163.28,513.83 163.52,514.01 163.76,513.77 164.00,515.14 164.23,515.83 164.47,512.48 164.71,513.66 164.94,514.62 165.18,513.45 165.42,513.91 165.66,514.58 165.89,515.65 166.13,515.45 166.37,514.13 166.60,514.51 166.84,514.07 167.08,514.24 167.31,513.34 167.55,512.80 167.79,514.06 168.03,515.27 168.26,515.08 168.50,512.72 168.74,514.22 168.97,513.83 169.21,514.65 169.45,513.41 169.68,515.22 169.92,514.21 170.16,514.91 170.39,515.18 170.63,512.65 170.87,514.20 171.11,515.76 171.34,514.41 171.58,515.33 171.82,514.77 172.05,513.95 172.29,514.65 172.53,515.34 172.76,515.56 173.00,515.70 173.24,513.40 173.48,515.14 173.71,513.16 173.95,514.28 174.19,514.21 174.42,514.96 174.66,514.68 174.90,515.52 175.13,513.85 175.37,515.15 175.61,514.75 175.85,514.40 176.08,513.32 176.32,514.91 176.56,514.68 176.79,515.10 177.03,514.36 177.27,514.17 177.50,514.75 177.74,514.81 177.98,515.01 178.22,516.10 178.45,513.84 178.69,516.20 178.93,512.40 179.16,515.26 179.40,513.66 179.64,516.20 179.88,513.60 180.11,515.35 180.35,513.51 180.59,513.38 180.82,515.12 181.06,515.18 181.30,513.77 181.53,516.40 181.77,514.11 182.01,515.80 182.24,513.49 182.48,513.53 182.72,514.48 182.96,513.49 183.19,514.81 183.43,512.47 183.67,514.56 183.90,513.89 184.14,513.54 184.38,514.59 184.61,514.20 184.85,513.99 185.09,515.12 185.33,514.66 185.56,514.74 185.80,515.59 186.04,514.33 186.27,515.15 186.51,514.02 186.75,514.94 186.98,514.87 187.22,513.91 187.46,513.04 187.70,513.25 187.93,513.55 188.17,514.90 188.41,514.28 188.64,514.13 188.88,514.83 189.12,515.05 189.35,515.65 189.59,513.86 189.83,514.89 190.07,515.03 190.30,513.55 190.54,514.51 190.78,513.58 191.01,514.20 191.25,514.77 191.49,512.87 191.72,513.62 191.96,513.68 192.20,514.48 192.44,513.74 192.67,514.73 192.91,513.63 193.15,513.94 193.38,514.94 193.62,514.68 193.86,514.53 194.09,514.36 194.33,515.30 194.57,515.63 194.81,514.07 195.04,513.75 195.28,513.47 195.52,515.95 195.75,513.60 195.99,513.21 196.23,514.64 196.46,515.34 196.70,513.29 196.94,514.29 197.18,513.11 197.41,513.78 197.65,515.85 197.89,514.55 198.12,514.17 198.36,514.46 198.60,514.65 198.83,514.31 199.07,513.34 199.31,513.34 199.55,516.20 199.78,513.71 200.02,515.47 200.26,513.76 200.49,515.56 200.73,515.02 200.97,514.21 201.20,516.20 201.44,513.56 201.68,514.19 201.92,513.63 202.15,513.70 202.39,514.07 202.63,513.54 202.86,514.11 203.10,515.81 203.34,512.84 203.57,513.28 203.81,513.55 204.05,513.98 204.29,515.30 204.52,515.04 204.76,514.83 205.00,514.58 205.23,516.40 205.47,513.39 205.71,513.37 205.94,514.38 206.18,514.58 206.42,514.19 206.66,513.65 206.89,513.23 207.13,514.15 207.37,513.77 207.60,513.97 207.84,513.43 208.08,515.60 208.31,514.80 208.55,516.06 208.79,513.94 209.03,514.45 209.26,514.18 209.50,514.42 209.74,514.17 209.97,514.25 210.21,512.64 210.45,514.16 210.68,515.02 210.92,512.66 211.16,514.09 211.40,514.91 211.63,515.53 211.87,514.32 212.11,514.81 212.34,515.97 212.58,515.56 212.82,514.00 213.05,513.86 213.29,515.31 213.53,514.60 213.77,513.91 214.00,514.19 214.24,514.68 214.48,514.22 214.71,514.17 214.95,514.19 215.19,513.07 215.42,515.95 215.66,515.49 215.90,515.75 216.14,514.28 216.37,514.51 216.61,514.91 216.85,515.13 217.08,512.77 217.32,514.72 217.56,513.51 217.79,514.33 218.03,513.81 218.27,515.92 218.51,514.88 218.74,514.37 218.98,515.64 219.22,514.34 219.45,513.75 219.69,514.23 219.93,514.07 220.16,514.43 220.40,515.12 220.64,514.23 220.88,514.23 221.11,515.14 221.35,514.42 221.59,514.94 221.82,514.13 222.06,512.75 222.30,512.81 222.53,512.22 222.77,514.60 223.01,513.83 223.25,512.91 223.48,512.31 223.72,513.37 223.96,512.78 224.19,513.03 224.43,511.83 224.67,511.43 224.90,513.66 225.14,511.24 225.38,511.89 225.62,512.93 225.85,509.92 226.09,512.00 226.33,511.26 226.56,510.89 226.80,511.07 227.04,509.59 227.27,508.48 227.51,511.97 227.75,509.85 227.99,510.72 228.22,510.73 228.46,509.83 228.70,509.80 228.93,509.86 229.17,510.47 229.41,509.34 229.64,509.87 229.88,508.33 230.12,508.06 230.36,508.36 230.59,508.49 230.83,508.46 231.07,509.56 231.30,508.42 231.54,507.58 231.78,509.15 232.01,507.52 232.25,507.39 232.49,507.36 232.73,506.47 232.96,505.64 233.20,506.57 233.44,506.02 233.67,505.37 233.91,506.09 234.15,505.64 234.38,505.13 234.62,503.91 234.86,505.17 235.10,506.72 235.33,505.77 235.57,505.77 235.81,504.61 236.04,505.39 236.28,503.67 236.52,503.68 236.75,504.36 236.99,502.43 237.23,503.56 237.47,503.57 237.70,504.61 237.94,502.27 238.18,503.06 238.41,501.89 238.65,501.76 238.89,500.02 239.12,500.96 239.36,502.59 239.60,501.78 239.84,501.22 240.07,502.81 240.31,501.02 240.55,499.15 240.78,499.77 241.02,499.59 241.26,500.75 241.49,498.19 241.73,499.02 241.97,499.16 242.21,497.21 242.44,497.65 242.68,495.40 242.92,496.90 243.15,494.47 243.39,495.69 243.63,497.17 243.86,495.61 244.10,494.89 244.34,494.58 244.58,495.95 244.81,494.12 245.05,494.15 245.29,492.43 245.52,492.03 245.76,491.08 246.00,491.46 246.23,490.59 246.47,491.70 246.71,491.01 246.95,489.95 247.18,489.19 247.42,487.28 247.66,488.38 247.89,488.78 248.13,488.71 248.37,485.72 248.60,485.32 248.84,487.06 249.08,485.60 249.32,485.92 249.55,485.29 249.79,485.83 250.03,483.25 250.26,483.99 250.50,484.92 250.74,483.86 250.97,482.54 251.21,483.27 251.45,482.72 251.69,481.27 251.92,482.28 252.16,481.87 252.40,480.76 252.63,481.32 252.87,479.05 253.11,480.39 253.34,479.16 253.58,478.12 253.82,478.06 254.06,479.26 254.29,477.37 254.53,477.20 254.77,476.57 255.00,476.09 255.24,477.29 255.48,478.04 255.71,476.90 255.95,475.80 256.19,475.66 256.43,474.32 256.66,473.82 256.90,472.86 257.14,474.83 257.37,472.90 257.61,472.21 257.85,471.93 258.08,472.32 258.32,471.33 258.56,471.50 258.80,471.30 259.03,472.02 259.27,469.41 259.51,470.46 259.74,469.28 259.98,469.22 260.22,470.75 260.45,469.58 260.69,468.41 260.93,468.93 261.17,468.22 261.40,468.98 261.64,467.33 261.88,467.97 262.11,467.15 262.35,467.14 262.59,466.81 262.82,466.21 263.06,466.69 263.30,467.30 263.54,465.72 263.77,465.75 264.01,466.26 264.25,465.10 264.48,466.38 264.72,466.06" fill="none" stroke="#6c00de" stroke-width="4.2" stroke-linejoin="round" stroke-linecap="round" />
<line x1="264.77" y1="466.39" x2="264.77" y2="447.88" stroke="#6c00de" stroke-width="1.8"/>
<polyline points="264.77,448.28 264.88,447.34 265.00,446.09 265.11,448.62 265.22,448.57 265.34,447.37 265.45,443.82 265.56,445.66 265.68,446.05 265.79,443.64 265.91,443.10 266.02,443.18 266.13,444.57 266.25,445.06 266.36,444.09 266.47,442.83 266.59,445.09 266.70,443.62 266.82,443.62 266.93,442.34 267.04,440.15 267.16,441.52 267.27,439.97 267.38,439.40 267.50,437.44 267.61,442.36 267.73,440.95 267.84,438.38 267.95,441.34 268.07,438.90 268.18,436.91 268.29,440.74 268.41,439.33 268.52,437.33 268.64,436.66 268.75,436.91 268.86,435.08 268.98,433.61 269.09,435.87 269.21,433.18 269.32,435.56 269.43,431.52 269.55,432.21 269.66,434.32 269.77,429.42 269.89,430.75 270.00,431.56 270.12,430.23 270.23,431.61 270.34,426.68 270.46,426.87 270.57,429.73 270.68,425.31 270.80,425.31 270.91,423.76 271.03,424.94 271.14,426.69 271.25,424.30 271.37,424.56 271.48,421.76 271.59,422.71 271.71,419.68 271.82,419.77 271.94,419.50 272.05,419.26 272.16,421.14 272.28,418.36 272.39,417.54 272.50,420.14 272.62,417.80 272.73,417.60 272.85,419.29 272.96,415.09 273.07,416.14 273.19,418.17 273.30,419.27 273.41,417.66 273.53,418.29 273.64,414.80 273.76,417.05 273.87,412.09 273.98,413.01 274.10,413.79 274.21,413.77 274.32,413.51 274.44,410.44 274.55,411.22 274.67,411.67 274.78,408.44 274.89,409.89 275.01,411.83 275.12,407.65 275.23,410.98 275.35,410.17 275.46,408.99 275.58,406.64 275.69,409.52 275.80,407.39 275.92,408.25 276.03,405.35 276.14,408.02 276.26,409.59 276.37,408.08 276.49,407.88 276.60,403.56 276.71,407.62 276.83,404.32 276.94,402.49 277.05,406.09 277.17,406.08 277.28,401.37 277.40,402.10 277.51,403.09 277.62,404.45 277.74,403.06 277.85,399.40 277.96,403.57 278.08,404.79 278.19,400.51 278.31,402.41 278.42,402.48 278.53,398.61 278.65,401.30 278.76,401.49 278.87,400.49 278.99,398.65 279.10,397.83 279.22,399.29 279.33,395.47 279.44,396.15 279.56,394.16 279.67,392.94 279.78,394.47 279.90,395.02 280.01,395.27 280.13,393.62 280.24,393.66 280.35,391.16 280.47,391.49 280.58,392.56 280.69,392.75 280.81,391.94 280.92,390.75 281.04,393.05 281.15,391.55 281.26,391.18 281.38,387.93 281.49,389.39 281.60,386.27 281.72,390.61 281.83,386.88 281.95,384.23 282.06,382.13 282.17,385.81 282.29,386.11 282.40,382.99 282.51,384.36 282.63,383.76 282.74,385.08 282.86,383.34 282.97,380.66 283.08,380.36 283.20,381.55 283.31,377.80 283.43,380.00 283.54,380.09 283.65,380.88 283.77,377.47 283.88,378.03 283.99,375.87 284.11,376.50 284.22,376.98 284.34,375.85 284.45,377.65 284.56,376.44 284.68,376.34 284.79,376.33 284.90,375.71 285.02,371.01 285.13,370.80 285.25,370.01 285.36,370.97 285.47,370.63 285.59,370.00 285.70,368.99 285.81,367.74 285.93,370.61 286.04,368.12 286.16,365.94 286.27,367.03 286.38,366.21 286.50,363.15 286.61,367.43 286.72,363.80 286.84,366.04 286.95,366.24 287.07,365.71 287.18,361.35 287.29,361.26 287.41,360.17 287.52,362.76 287.63,359.43 287.75,361.45 287.86,358.56 287.98,361.21 288.09,359.09 288.20,356.90 288.32,360.32 288.43,358.10 288.54,357.87 288.66,358.05 288.77,357.21 288.89,354.03 289.00,356.65 289.11,352.72 289.23,356.09 289.34,353.11 289.45,352.66 289.57,353.13 289.68,352.08 289.80,354.04 289.91,351.27 290.02,353.05 290.14,349.59 290.25,349.57 290.36,349.15 290.48,350.32 290.59,350.86 290.71,350.68 290.82,349.51 290.93,349.84 291.05,351.52 291.16,346.11 291.27,348.15 291.39,351.45 291.50,350.02 291.62,348.19 291.73,346.45 291.84,347.84 291.96,347.07 292.07,343.44 292.18,344.29 292.30,345.40 292.41,343.82 292.53,343.63 292.64,346.83 292.75,345.13 292.87,344.01 292.98,344.90 293.09,343.25 293.21,344.36 293.32,341.79 293.44,343.95 293.55,340.25 293.66,339.75 293.78,341.32 293.89,342.21 294.00,338.54 294.12,341.25 294.23,339.50 294.35,340.64 294.46,338.66 294.57,337.93 294.69,338.65 294.80,338.63 294.91,340.07 295.03,336.92 295.14,337.79 295.26,336.04 295.37,337.76 295.48,335.05 295.60,338.20 295.71,338.01 295.82,333.75 295.94,336.67 296.05,333.97 296.17,332.90 296.28,332.50 296.39,335.88 296.51,334.93 296.62,332.71 296.73,333.81 296.85,331.88 296.96,334.00 297.08,334.92 297.19,331.77 297.30,331.22 297.42,329.96 297.53,329.55 297.65,330.19 297.76,330.41 297.87,327.85 297.99,329.02 298.10,326.66 298.21,328.60 298.33,330.09 298.44,331.25 298.56,327.55 298.67,329.65 298.78,326.82 298.90,329.22 299.01,326.44 299.12,324.04 299.24,330.18 299.35,325.64 299.47,324.82 299.58,324.66 299.69,327.69 299.81,325.20 299.92,323.58 300.03,324.85 300.15,321.46 300.26,325.47 300.38,325.41 300.49,324.97 300.60,321.62 300.72,325.72 300.83,320.22 300.94,320.63 301.06,321.05 301.17,322.43 301.29,320.56 301.40,322.61 301.51,321.51 301.63,319.75 301.74,322.41 301.85,320.31 301.97,318.25 302.08,319.14 302.20,317.31 302.31,319.23 302.42,319.67 302.54,316.53 302.65,320.47 302.76,317.52 302.88,315.87 302.99,316.97 303.11,314.96 303.22,317.72 303.33,317.84 303.45,313.79 303.56,317.54 303.67,317.83 303.79,313.73 303.90,317.44 304.02,314.43 304.13,314.35 304.24,318.09 304.36,314.96 304.47,317.09 304.58,316.71 304.70,312.51 304.81,316.32 304.93,316.45 305.04,311.11 305.15,315.00 305.27,314.64 305.38,310.10 305.49,313.38 305.61,314.23 305.72,313.25 305.84,315.19 305.95,312.49 306.06,310.16 306.18,309.95 306.29,310.26 306.40,311.80 306.52,309.07 306.63,311.62 306.75,307.84 306.86,309.93 306.97,308.91 307.09,309.65 307.20,305.61 307.31,308.44 307.43,306.70 307.54,307.92 307.66,307.89 307.77,307.18 307.88,304.41 308.00,303.98 308.11,307.63 308.22,304.50 308.34,304.87 308.45,302.19 308.57,305.88 308.68,302.71 308.79,304.79 308.91,301.13 309.02,304.83 309.13,303.88 309.25,302.46 309.36,302.08 309.48,302.45 309.59,301.54 309.70,301.06 309.82,300.84 309.93,298.82 310.04,299.14 310.16,301.89 310.27,300.10 310.39,297.95 310.50,296.32 310.61,296.84 310.73,298.76 310.84,297.75 310.95,295.20 311.07,299.62 311.18,294.58 311.30,297.95 311.41,295.41 311.52,298.09 311.64,295.10 311.75,296.43 311.87,292.83 311.98,292.43 312.09,294.75 312.21,294.80 312.32,291.78 312.43,294.80 312.55,296.80 312.66,293.47 312.78,290.22 312.89,293.60 313.00,291.78 313.12,292.23 313.23,293.27 313.34,293.15 313.46,288.66 313.57,289.00 313.69,288.39 313.80,292.31 313.91,292.78 314.03,288.27 314.14,288.62 314.25,286.08 314.37,287.33 314.48,285.78 314.60,286.98 314.71,283.96" fill="none" stroke="#6c00de" stroke-width="4.9" stroke-linejoin="round" stroke-linecap="butt" />
<polyline points="43.60,513.41 43.98,513.71 44.36,513.47 44.74,513.35 45.12,513.58 45.50,514.06 45.88,512.75 46.25,514.04 46.63,513.58 47.01,513.19 47.39,513.72 47.77,513.50 48.15,513.91 48.53,513.21 48.91,513.83 49.29,513.17 49.67,513.60 50.05,513.73 50.43,513.46 50.80,513.71 51.18,513.28 51.56,513.86 51.94,513.31 52.32,513.24 52.70,513.45 53.08,513.47 53.46,513.19 53.84,513.77 54.22,513.44 54.60,513.70 54.98,512.96 55.36,513.03 55.73,513.39 56.11,513.14 56.49,513.44 56.87,513.68 57.25,513.88 57.63,514.00 58.01,513.76 58.39,513.24 58.77,513.68 59.15,513.30 59.53,513.68 59.91,513.12 60.28,513.96 60.66,513.63 61.04,513.39 61.42,513.01 61.80,513.59 62.18,510.21 62.56,507.49 62.94,503.34 63.32,501.35 63.70,500.77 64.08,499.85 64.46,494.97 64.84,494.28 65.21,493.06 65.59,490.60 65.97,488.42 66.35,490.92 66.73,487.24 67.11,488.19 67.49,486.89 67.87,486.95 68.25,484.30 68.63,487.29 69.01,485.71 69.39,484.51 69.76,487.03 70.14,484.53 70.52,483.79 70.90,483.16 71.28,484.81 71.66,483.21 72.04,482.38 72.42,480.81 72.80,480.81 73.18,481.73 73.56,480.87 73.94,478.22 74.32,479.01 74.69,479.77 75.07,481.67 75.45,477.77 75.83,475.75 76.21,478.53 76.59,476.70 76.97,475.32 77.35,476.82 77.73,475.34 78.11,473.93 78.49,472.94 78.87,473.64 79.24,473.27 79.62,470.61 80.00,473.04 80.38,469.96 80.76,472.29 81.14,470.51 81.52,469.33 81.90,469.30 82.28,467.31 82.66,466.80 83.04,467.59 83.42,464.06 83.80,464.50 84.17,461.52 84.55,461.40 84.93,461.39 85.31,457.92 85.69,458.52 86.07,454.70 86.45,454.71 86.83,454.42 87.21,454.74 87.59,453.41 87.97,450.47 88.35,450.19 88.72,449.39 89.10,446.32 89.48,447.36 89.86,447.24 90.24,445.98 90.62,442.82 91.00,441.87 91.38,440.15 91.76,439.49 92.14,438.61 92.52,438.49 92.90,436.69 93.28,434.43 93.65,435.21 94.03,434.13 94.41,431.35 94.79,430.60 95.17,429.62 95.55,426.78 95.93,427.59 96.31,427.04 96.69,427.30 97.07,424.17 97.45,422.40 97.83,421.31 98.20,420.90 98.58,419.85 98.96,416.79 99.34,416.70 99.72,415.96 100.10,411.79 100.48,414.26 100.86,411.27 101.24,411.22 101.62,408.97 102.00,407.59 102.38,406.72 102.76,406.06 103.13,405.64 103.51,403.34 103.89,401.34 104.27,400.74 104.65,399.38 105.03,400.23 105.41,397.28 105.79,399.24 106.17,396.95 106.55,395.94 106.93,396.71 107.31,394.10 107.68,393.42 108.06,393.83 108.44,393.02 108.82,390.35 109.20,393.28 109.58,390.54 109.96,387.77 110.34,388.19 110.72,388.64 111.10,387.09 111.48,387.03 111.86,387.94 112.24,385.63 112.61,386.07 112.99,383.87 113.37,381.65 113.75,383.30 114.13,380.13 114.51,381.21 114.89,380.13 115.27,377.74 115.65,377.16 116.03,377.00 116.41,376.89 116.79,377.17 117.16,375.05 117.54,376.32 117.92,374.70 118.30,372.79 118.68,372.57 119.06,373.10 119.44,372.18 119.82,372.41 120.20,373.12 120.58,372.31 120.96,372.85 121.34,370.77 121.72,370.33 122.09,369.50 122.47,368.83 122.85,370.05 123.23,370.38 123.61,369.84 123.99,369.82 124.37,371.81 124.75,368.12 125.13,368.77 125.51,368.29 125.89,367.53 126.27,369.59 126.64,367.64 127.02,368.62 127.40,365.57 127.78,368.45 128.16,368.44 128.54,364.56 128.92,365.08 129.30,364.52 129.68,364.85 130.06,362.37 130.44,363.89 130.82,363.74 131.20,361.85 131.57,359.61 131.95,360.90 132.33,360.46 132.71,360.98 133.09,358.71 133.47,357.37 133.85,358.56 134.23,357.54 134.61,357.18 134.99,355.67 135.37,356.03 135.75,354.68 136.12,351.40 136.50,352.82 136.88,352.70 137.26,351.14 137.64,351.95 138.02,349.09 138.40,349.49 138.78,346.47 139.16,346.92 139.54,345.42 139.92,344.02 140.30,342.78 140.68,343.56 141.05,342.88 141.43,340.81 141.81,339.24 142.19,338.74 142.57,339.64 142.95,336.58 143.33,338.25 143.71,334.26 144.09,335.50 144.47,334.42 144.85,333.32 145.23,329.79 145.60,327.71 145.98,325.28 146.36,326.14 146.74,323.28 147.12,321.21 147.50,319.55 147.88,318.58 148.26,316.62 148.64,315.34 149.02,309.13 149.40,311.02 149.78,311.52 150.16,314.03 150.53,315.79 150.91,318.05 151.29,320.71 151.67,321.04 152.05,320.12 152.43,322.55 152.81,323.43 153.19,324.86 153.57,324.08 153.95,322.19 154.33,321.66 154.71,317.59 155.08,319.43 155.46,314.66 155.84,313.64 156.22,315.14 156.60,314.97 156.98,314.66 157.36,314.39 157.74,312.89 158.12,312.03 158.50,311.98 158.88,311.17 159.26,310.17 159.64,312.14 160.01,311.98 160.39,309.59 160.77,308.93 161.15,308.24 161.53,306.54" fill="none" stroke="#f5841f" stroke-width="4.8" stroke-linejoin="round" stroke-linecap="round" />
</g>
<rect x="43.4" y="295.6" width="285.2" height="229.4" fill="none" stroke="#242424" stroke-width="1.3"/>
<line x1="43.6" y1="525" x2="43.6" y2="521" stroke="#242424" stroke-width="1.2"/>
<line x1="100.48" y1="525" x2="100.48" y2="521" stroke="#242424" stroke-width="1.2"/>
<line x1="157.36" y1="525" x2="157.36" y2="521" stroke="#242424" stroke-width="1.2"/>
<line x1="214.24" y1="525" x2="214.24" y2="521" stroke="#242424" stroke-width="1.2"/>
<line x1="271.12" y1="525" x2="271.12" y2="521" stroke="#242424" stroke-width="1.2"/>
<line x1="328" y1="525" x2="328" y2="521" stroke="#242424" stroke-width="1.2"/>
<line x1="72.04" y1="525" x2="72.04" y2="522.8" stroke="#242424" stroke-width="1.2"/>
<line x1="128.92" y1="525" x2="128.92" y2="522.8" stroke="#242424" stroke-width="1.2"/>
<line x1="185.8" y1="525" x2="185.8" y2="522.8" stroke="#242424" stroke-width="1.2"/>
<line x1="242.68" y1="525" x2="242.68" y2="522.8" stroke="#242424" stroke-width="1.2"/>
<line x1="299.56" y1="525" x2="299.56" y2="522.8" stroke="#242424" stroke-width="1.2"/>
<text x="43.6" y="540.5" font-size="13" text-anchor="middle" font-weight="normal" fill="#1a1a1a" >0</text>
<text x="100.48" y="540.5" font-size="13" text-anchor="middle" font-weight="normal" fill="#1a1a1a" >600</text>
<text id="o8" x="157.36" y="540.5" font-size="13" text-anchor="middle" font-weight="normal" fill="#1a1a1a" > 200</text><g fill="#1a1a1a"><path d="M763 0L583 0L583 1100C540 1060 483 1022 413 983C343 944 280 915 223 895L223 1062C324 1107 412 1163 488 1228C564 1292 617 1355 649 1409L763 1409Z" transform="translate(142.90 540.50) scale(0.00635 -0.00635)"/></g>
<text id="o9" x="214.24" y="540.5" font-size="13" text-anchor="middle" font-weight="normal" fill="#1a1a1a" > 800</text><g fill="#1a1a1a"><path d="M763 0L583 0L583 1100C540 1060 483 1022 413 983C343 944 280 915 223 895L223 1062C324 1107 412 1163 488 1228C564 1292 617 1355 649 1409L763 1409Z" transform="translate(199.78 540.50) scale(0.00635 -0.00635)"/></g>
<text x="271.12" y="540.5" font-size="13" text-anchor="middle" font-weight="normal" fill="#1a1a1a" >2400</text>
<text x="328" y="540.5" font-size="13" text-anchor="middle" font-weight="normal" fill="#1a1a1a" >3000</text>
<line x1="43.4" y1="514.4" x2="47.4" y2="514.4" stroke="#242424" stroke-width="1.2"/>
<line x1="43.4" y1="470.64" x2="47.4" y2="470.64" stroke="#242424" stroke-width="1.2"/>
<line x1="43.4" y1="426.88" x2="47.4" y2="426.88" stroke="#242424" stroke-width="1.2"/>
<line x1="43.4" y1="383.12" x2="47.4" y2="383.12" stroke="#242424" stroke-width="1.2"/>
<line x1="43.4" y1="339.36" x2="47.4" y2="339.36" stroke="#242424" stroke-width="1.2"/>
<line x1="43.4" y1="295.6" x2="47.4" y2="295.6" stroke="#242424" stroke-width="1.2"/>
<line x1="43.4" y1="492.52" x2="45.6" y2="492.52" stroke="#242424" stroke-width="1.2"/>
<line x1="43.4" y1="448.76" x2="45.6" y2="448.76" stroke="#242424" stroke-width="1.2"/>
<line x1="43.4" y1="405" x2="45.6" y2="405" stroke="#242424" stroke-width="1.2"/>
<line x1="43.4" y1="361.24" x2="45.6" y2="361.24" stroke="#242424" stroke-width="1.2"/>
<line x1="43.4" y1="317.48" x2="45.6" y2="317.48" stroke="#242424" stroke-width="1.2"/>
<text x="37.9" y="519" font-size="13" text-anchor="end" font-weight="normal" fill="#1a1a1a" >0.0</text>
<text id="o10" x="37.9" y="475.24" font-size="13" text-anchor="end" font-weight="normal" fill="#1a1a1a" >0. </text><g fill="#1a1a1a"><path d="M763 0L583 0L583 1100C540 1060 483 1022 413 983C343 944 280 915 223 895L223 1062C324 1107 412 1163 488 1228C564 1292 617 1355 649 1409L763 1409Z" transform="translate(30.65 475.24) scale(0.00635 -0.00635)"/></g>
<text x="37.9" y="431.48" font-size="13" text-anchor="end" font-weight="normal" fill="#1a1a1a" >0.2</text>
<text x="37.9" y="387.72" font-size="13" text-anchor="end" font-weight="normal" fill="#1a1a1a" >0.3</text>
<text x="37.9" y="343.96" font-size="13" text-anchor="end" font-weight="normal" fill="#1a1a1a" >0.4</text>
<text x="37.9" y="300.2" font-size="13" text-anchor="end" font-weight="normal" fill="#1a1a1a" >0.5</text>
<line x1="154.5" y1="386.8" x2="180.4" y2="386.8" stroke="#7800ff" stroke-width="2.3" stroke-linecap="round"/>
<line x1="154.5" y1="404.5" x2="180.4" y2="404.5" stroke="#f5841f" stroke-width="2.4" stroke-linecap="round"/>
<text x="186.3" y="391.3" font-size="13" text-anchor="start" font-weight="normal" fill="#1a1a1a" >Benzene</text>
<text x="186.3" y="409.1" font-size="13" fill="#1a1a1a">SO<tspan font-size="8" dy="3.9">2</tspan></text>
<text id="o11" x="154.1" y="562.9" font-size="13" text-anchor="start" font-weight="normal" fill="#1a1a1a" >Time / h g<tspan font-size="7.4" dx="0.1" dy="-6.2">- </tspan></text><g fill="#1a1a1a"><path d="M763 0L583 0L583 1100C540 1060 483 1022 413 983C343 944 280 915 223 895L223 1062C324 1107 412 1163 488 1228C564 1292 617 1355 649 1409L763 1409Z" transform="translate(213.98 556.70) scale(0.00361 -0.00361)"/></g>
<text x="9.9" y="403.8" font-size="13" fill="#1a1a1a" text-anchor="middle" transform="rotate(-90 9.9 403.8)">C/C<tspan font-size="7.6" dy="4.2">0</tspan></text>
<text x="0.8" y="301.9" font-size="21.5" text-anchor="start" font-weight="bold" fill="#000" >c</text>
<rect x="394.8" y="298.7" width="280.5" height="225.3" fill="none" stroke="#242424" stroke-width="1.3"/>
<line x1="411.9" y1="524" x2="411.9" y2="520" stroke="#242424" stroke-width="1.2"/>
<line x1="464.47" y1="524" x2="464.47" y2="520" stroke="#242424" stroke-width="1.2"/>
<line x1="517.05" y1="524" x2="517.05" y2="520" stroke="#242424" stroke-width="1.2"/>
<line x1="569.62" y1="524" x2="569.62" y2="520" stroke="#242424" stroke-width="1.2"/>
<line x1="622.2" y1="524" x2="622.2" y2="520" stroke="#242424" stroke-width="1.2"/>
<line x1="674.77" y1="524" x2="674.77" y2="520" stroke="#242424" stroke-width="1.2"/>
<line x1="438.19" y1="524" x2="438.19" y2="521.8" stroke="#242424" stroke-width="1.2"/>
<line x1="490.76" y1="524" x2="490.76" y2="521.8" stroke="#242424" stroke-width="1.2"/>
<line x1="543.34" y1="524" x2="543.34" y2="521.8" stroke="#242424" stroke-width="1.2"/>
<line x1="595.91" y1="524" x2="595.91" y2="521.8" stroke="#242424" stroke-width="1.2"/>
<line x1="648.49" y1="524" x2="648.49" y2="521.8" stroke="#242424" stroke-width="1.2"/>
<text x="411.9" y="539.8" font-size="13" text-anchor="middle" font-weight="normal" fill="#1a1a1a" >0.0</text>
<text x="464.47" y="539.8" font-size="13" text-anchor="middle" font-weight="normal" fill="#1a1a1a" >0.3</text>
<text x="517.05" y="539.8" font-size="13" text-anchor="middle" font-weight="normal" fill="#1a1a1a" >0.6</text>
<text x="569.62" y="539.8" font-size="13" text-anchor="middle" font-weight="normal" fill="#1a1a1a" >0.9</text>
<text id="o12" x="622.2" y="539.8" font-size="13" text-anchor="middle" font-weight="normal" fill="#1a1a1a" > .2</text><g fill="#1a1a1a"><path d="M763 0L583 0L583 1100C540 1060 483 1022 413 983C343 944 280 915 223 895L223 1062C324 1107 412 1163 488 1228C564 1292 617 1355 649 1409L763 1409Z" transform="translate(613.16 539.80) scale(0.00635 -0.00635)"/></g>
<text id="o13" x="674.77" y="539.8" font-size="13" text-anchor="middle" font-weight="normal" fill="#1a1a1a" > .5</text><g fill="#1a1a1a"><path d="M763 0L583 0L583 1100C540 1060 483 1022 413 983C343 944 280 915 223 895L223 1062C324 1107 412 1163 488 1228C564 1292 617 1355 649 1409L763 1409Z" transform="translate(665.73 539.80) scale(0.00635 -0.00635)"/></g>
<line x1="394.8" y1="506.7" x2="398.8" y2="506.7" stroke="#242424" stroke-width="1.2"/>
<line x1="394.8" y1="437.36" x2="398.8" y2="437.36" stroke="#242424" stroke-width="1.2"/>
<line x1="394.8" y1="368.02" x2="398.8" y2="368.02" stroke="#242424" stroke-width="1.2"/>
<line x1="394.8" y1="298.68" x2="398.8" y2="298.68" stroke="#242424" stroke-width="1.2"/>
<line x1="394.8" y1="472.03" x2="397" y2="472.03" stroke="#242424" stroke-width="1.2"/>
<line x1="394.8" y1="402.69" x2="397" y2="402.69" stroke="#242424" stroke-width="1.2"/>
<line x1="394.8" y1="333.35" x2="397" y2="333.35" stroke="#242424" stroke-width="1.2"/>
<text x="389.3" y="511.3" font-size="13" text-anchor="end" font-weight="normal" fill="#1a1a1a" >0.0</text>
<text x="389.3" y="441.96" font-size="13" text-anchor="end" font-weight="normal" fill="#1a1a1a" >0.2</text>
<text x="389.3" y="372.62" font-size="13" text-anchor="end" font-weight="normal" fill="#1a1a1a" >0.4</text>
<text x="389.3" y="303.28" font-size="13" text-anchor="end" font-weight="normal" fill="#1a1a1a" >0.6</text>
<rect x="600.4" y="301" width="60.1" height="38" rx="6" ry="6" fill="#ffe4e4" stroke="#ff0000" stroke-width="2.6" stroke-dasharray="5.6 2.8"/>
<text x="631.8" y="317.2" font-size="13" text-anchor="middle" font-weight="bold" fill="#111" letter-spacing="0.7">BUT-78</text>
<radialGradient id="g78" cx="0.5" cy="0.5" r="0.5" fx="0.34" fy="0.32"><stop offset="0" stop-color="#f0b0f0"/><stop offset="0.12" stop-color="#f0b0f0" stop-opacity="0.95"/><stop offset="0.42" stop-color="#a000e0"/><stop offset="0.85" stop-color="#a000e0"/><stop offset="1" stop-color="#8000c0"/></radialGradient>
<circle cx="629.4" cy="329.2" r="3.75" fill="url(#g78)"/>
<radialGradient id="g55" cx="0.5" cy="0.5" r="0.5" fx="0.34" fy="0.32"><stop offset="0" stop-color="#c8ffc8"/><stop offset="0.12" stop-color="#c8ffc8" stop-opacity="0.95"/><stop offset="0.42" stop-color="#10e810"/><stop offset="0.85" stop-color="#10e810"/><stop offset="1" stop-color="#00c400"/></radialGradient>
<circle cx="437.7" cy="339.5" r="3.75" fill="url(#g55)"/>
<radialGradient id="gac" cx="0.5" cy="0.5" r="0.5" fx="0.34" fy="0.32"><stop offset="0" stop-color="#fffbd0"/><stop offset="0.12" stop-color="#fffbd0" stop-opacity="0.95"/><stop offset="0.42" stop-color="#ffe600"/><stop offset="0.85" stop-color="#ffe600"/><stop offset="1" stop-color="#f2d400"/></radialGradient>
<circle cx="412.9" cy="364.5" r="3.75" fill="url(#gac)"/>
<radialGradient id="ghk" cx="0.5" cy="0.5" r="0.5" fx="0.34" fy="0.32"><stop offset="0" stop-color="#ffd0b0"/><stop offset="0.12" stop-color="#ffd0b0" stop-opacity="0.95"/><stop offset="0.42" stop-color="#ff6a00"/><stop offset="0.85" stop-color="#ff6a00"/><stop offset="1" stop-color="#e85800"/></radialGradient>
<circle cx="414.4" cy="499.2" r="3.75" fill="url(#ghk)"/>
<radialGradient id="gmc" cx="0.5" cy="0.5" r="0.5" fx="0.34" fy="0.32"><stop offset="0" stop-color="#ffb0b0"/><stop offset="0.12" stop-color="#ffb0b0" stop-opacity="0.95"/><stop offset="0.42" stop-color="#ff0000"/><stop offset="0.85" stop-color="#ff0000"/><stop offset="1" stop-color="#e00000"/></radialGradient>
<circle cx="411.9" cy="506.3" r="3.75" fill="url(#gmc)"/>
<radialGradient id="gsf" cx="0.5" cy="0.5" r="0.5" fx="0.34" fy="0.32"><stop offset="0" stop-color="#c0b0ff"/><stop offset="0.12" stop-color="#c0b0ff" stop-opacity="0.95"/><stop offset="0.42" stop-color="#4400ff"/><stop offset="0.85" stop-color="#4400ff"/><stop offset="1" stop-color="#3800d8"/></radialGradient>
<circle cx="434.8" cy="497.8" r="3.75" fill="url(#gsf)"/>
<radialGradient id="g66" cx="0.5" cy="0.5" r="0.5" fx="0.34" fy="0.32"><stop offset="0" stop-color="#c0e0ff"/><stop offset="0.12" stop-color="#c0e0ff" stop-opacity="0.95"/><stop offset="0.42" stop-color="#1e88ff"/><stop offset="0.85" stop-color="#1e88ff"/><stop offset="1" stop-color="#1870e0"/></radialGradient>
<circle cx="527.3" cy="497.3" r="3.75" fill="url(#g66)"/>
<text x="452" y="344" font-size="13" text-anchor="start" font-weight="normal" fill="#1a1a1a" >BUT-55</text>
<text x="424.2" y="370" font-size="12.8" text-anchor="start" font-weight="normal" fill="#1a1a1a" >Activated carbon</text>
<text id="o14" x="399.3" y="488.6" font-size="13" text-anchor="start" font-weight="normal" fill="#1a1a1a" >HKUST- </text><g fill="#1a1a1a"><path d="M763 0L583 0L583 1100C540 1060 483 1022 413 983C343 944 280 915 223 895L223 1062C324 1107 412 1163 488 1228C564 1292 617 1355 649 1409L763 1409Z" transform="translate(446.96 488.60) scale(0.00635 -0.00635)"/></g>
<text id="o15" x="443.7" y="502.3" font-size="13" text-anchor="start" font-weight="normal" fill="#1a1a1a" >SIFSIX- -Cu</text><g fill="#1a1a1a"><path d="M763 0L583 0L583 1100C540 1060 483 1022 413 983C343 944 280 915 223 895L223 1062C324 1107 412 1163 488 1228C564 1292 617 1355 649 1409L763 1409Z" transform="translate(489.20 502.30) scale(0.00635 -0.00635)"/></g>
<text x="538.8" y="502" font-size="13" text-anchor="start" font-weight="normal" fill="#1a1a1a" >BUT-66</text>
<text id="o16" x="417" y="517.2" font-size="13" text-anchor="start" font-weight="normal" fill="#1a1a1a" >MCM-4 </text><g fill="#1a1a1a"><path d="M763 0L583 0L583 1100C540 1060 483 1022 413 983C343 944 280 915 223 895L223 1062C324 1107 412 1163 488 1228C564 1292 617 1355 649 1409L763 1409Z" transform="translate(459.59 517.20) scale(0.00635 -0.00635)"/></g>
<text id="o17" x="444.2" y="560.6" font-size="13" fill="#1a1a1a">SO<tspan font-size="8" dy="3.9">2</tspan><tspan dy="-3.9"> capture capacity / mmol g</tspan><tspan font-size="7.4" dx="0.1" dy="-6.2">- </tspan></text><g fill="#1a1a1a"><path d="M763 0L583 0L583 1100C540 1060 483 1022 413 983C343 944 280 915 223 895L223 1062C324 1107 412 1163 488 1228C564 1292 617 1355 649 1409L763 1409Z" transform="translate(621.74 554.40) scale(0.00361 -0.00361)"/></g>
<text id="o18" x="366.7" y="514.7" font-size="12.9" fill="#1a1a1a" transform="rotate(-90 366.7 514.7)">Benzene capture capacity / mmol g<tspan font-size="7.4" dx="0.1" dy="-6.2">- </tspan></text><g fill="#1a1a1a" transform="rotate(-90 366.7 514.7)"><path d="M763 0L583 0L583 1100C540 1060 483 1022 413 983C343 944 280 915 223 895L223 1062C324 1107 412 1163 488 1228C564 1292 617 1355 649 1409L763 1409Z" transform="translate(570.60 508.50) scale(0.00361 -0.00361)"/></g>
<text x="343.8" y="298.3" font-size="21.5" text-anchor="start" font-weight="bold" fill="#000" >d</text>
</svg>
</body></html>
